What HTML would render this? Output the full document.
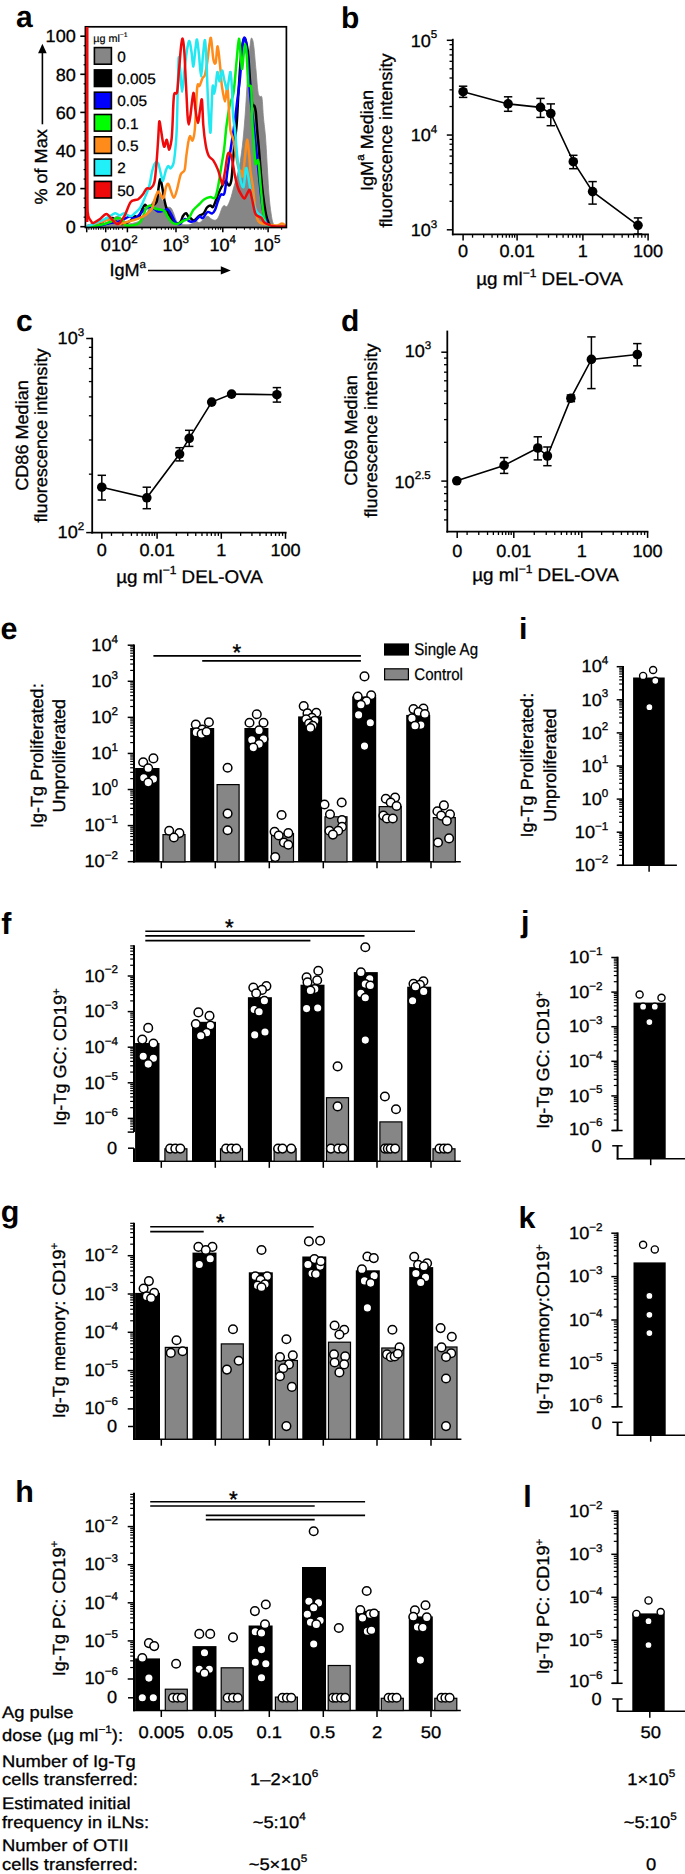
<!DOCTYPE html>
<html lang="en"><head><meta charset="utf-8"><title>Figure</title>
<style>
html,body{margin:0;padding:0;background:#fff;}
body{width:685px;height:1874px;overflow:hidden;font-family:'Liberation Sans', Arial, Helvetica, sans-serif;}
svg{display:block;font-family:'Liberation Sans', Arial, Helvetica, sans-serif;}
</style></head><body>
<svg width="685" height="1874" viewBox="0 0 685 1874" text-rendering="geometricPrecision">
<rect width="685" height="1874" fill="#fff"/>
<text transform="translate(16.00 27.20)" font-size="30.00" text-anchor="start" fill="#000" font-weight="bold">a</text>
<clipPath id="clipA"><rect x="85.4" y="26.8" width="201.0" height="200.7"/></clipPath>
<g clip-path="url(#clipA)" stroke-linejoin="round" stroke-linecap="round">
<path d="M88.0 226.5C90.0 226.2 96.7 225.8 100.0 225.0C103.3 224.2 105.8 223.1 108.0 222.0C110.2 220.9 111.5 219.4 113.0 218.5C114.5 217.6 115.8 216.2 117.3 216.3C118.8 216.4 120.2 217.8 122.0 219.0C123.8 220.2 126.0 222.8 128.0 223.5C130.0 224.2 132.0 223.5 134.0 223.0C136.0 222.5 138.0 222.0 140.0 220.5C142.0 219.0 144.0 216.9 146.0 214.0C148.0 211.1 150.4 205.8 152.0 203.0C153.6 200.2 154.4 199.0 155.5 197.5C156.6 196.0 157.5 193.8 158.5 194.0C159.5 194.2 160.2 196.9 161.5 199.0C162.8 201.1 164.5 205.0 166.0 206.5C167.5 208.0 169.4 206.7 170.7 207.8C171.9 208.9 172.4 210.6 173.5 213.0C174.6 215.4 175.6 220.1 177.0 222.0C178.4 223.9 179.8 224.1 182.0 224.5C184.2 224.9 187.7 225.0 190.0 224.5C192.3 224.0 194.3 221.8 196.0 221.5C197.7 221.2 198.1 223.4 200.0 222.5C201.9 221.6 205.2 216.8 207.2 216.3C209.2 215.8 210.5 218.9 212.0 219.5C213.5 220.1 214.8 220.6 216.0 220.0C217.2 219.4 218.0 218.0 219.0 216.0C220.0 214.0 221.1 209.8 222.0 208.0C222.9 206.2 223.4 205.8 224.2 205.5C225.0 205.2 225.9 207.6 227.0 206.5C228.1 205.4 229.4 202.1 230.5 199.0C231.6 195.9 232.4 191.8 233.5 188.0C234.6 184.2 235.9 180.2 237.0 176.0C238.1 171.8 239.0 169.0 240.0 163.0C241.0 157.0 242.1 148.8 243.0 140.0C243.9 131.2 244.7 121.7 245.5 110.0C246.3 98.3 247.2 81.3 248.0 70.0C248.8 58.7 249.8 47.2 250.5 42.0C251.2 36.8 251.6 37.7 252.2 38.7C252.8 39.7 253.4 42.8 254.0 48.0C254.6 53.2 255.3 62.7 256.0 70.0C256.7 77.3 257.3 87.6 258.0 92.0C258.7 96.4 259.3 95.5 260.0 96.5C260.7 97.5 261.4 94.4 262.0 98.0C262.6 101.6 262.9 111.5 263.5 118.0C264.1 124.5 264.8 128.3 265.5 137.0C266.2 145.7 266.9 160.3 267.5 170.0C268.1 179.7 268.4 187.8 269.0 195.0C269.6 202.2 270.3 208.3 271.0 213.0C271.7 217.7 272.2 220.8 273.0 223.0C273.8 225.2 273.8 225.8 276.0 226.5C278.2 227.2 284.3 226.9 286.0 227.0L286 228L88 228Z" fill="#868686" stroke="#868686" stroke-width="0.80" />
<path d="M88.0 226.0C89.3 225.8 93.3 225.8 96.0 225.0C98.7 224.2 102.1 222.2 104.0 221.0C105.9 219.8 106.2 218.2 107.2 217.9C108.2 217.7 109.1 219.5 110.0 219.5C110.9 219.5 111.8 217.7 112.6 217.9C113.4 218.2 113.4 220.0 115.0 221.0C116.6 222.0 119.5 224.0 122.0 224.0C124.5 224.0 127.8 222.3 130.0 221.0C132.2 219.7 133.6 216.8 135.0 216.3C136.4 215.8 137.2 219.2 138.5 217.9C139.8 216.6 141.4 210.7 142.5 208.5C143.6 206.3 144.3 204.9 145.1 204.7C145.9 204.4 146.3 206.9 147.5 207.0C148.7 207.1 150.5 206.3 152.0 205.5C153.5 204.7 155.4 204.6 156.5 202.0C157.6 199.4 157.7 193.8 158.3 190.0C158.9 186.2 159.4 179.7 160.1 179.2C160.8 178.7 161.5 183.4 162.2 187.0C162.9 190.6 163.6 196.7 164.5 200.8C165.4 204.9 166.5 208.8 167.5 211.6C168.5 214.4 169.6 216.1 170.7 217.9C171.8 219.7 172.2 221.7 173.8 222.5C175.4 223.3 178.5 223.6 180.0 222.5C181.5 221.4 182.0 217.6 183.0 216.0C184.0 214.4 185.2 213.0 186.1 213.2C187.0 213.4 187.7 216.1 188.5 217.0C189.3 217.9 190.1 217.9 191.0 218.5C191.9 219.1 192.7 220.9 194.0 220.5C195.3 220.1 197.4 217.2 199.0 216.0C200.6 214.8 202.2 214.9 203.5 213.5C204.8 212.1 205.9 208.8 207.0 207.5C208.1 206.2 209.3 205.6 210.3 205.5C211.3 205.4 212.1 207.7 213.0 207.0C213.9 206.3 214.6 203.8 215.5 201.5C216.4 199.2 217.5 195.9 218.5 193.5C219.5 191.1 220.3 189.1 221.5 187.0C222.7 184.9 224.3 181.2 225.5 181.0C226.7 180.8 227.9 185.5 228.8 185.5C229.8 185.5 230.5 184.6 231.2 181.0C231.9 177.4 232.3 170.0 232.8 164.0C233.3 158.0 233.7 151.5 234.3 145.0C234.9 138.5 235.9 133.8 236.6 125.0C237.3 116.2 237.8 102.5 238.5 92.0C239.2 81.5 239.8 70.3 240.5 62.0C241.2 53.7 242.2 45.9 243.0 42.0C243.8 38.1 244.3 38.2 245.0 38.9C245.7 39.6 246.4 43.0 247.0 46.0C247.6 49.0 247.9 51.3 248.4 57.0C248.9 62.7 249.4 72.3 250.0 80.0C250.6 87.7 251.3 98.7 252.0 103.0C252.7 107.3 253.8 104.5 254.4 106.0C255.0 107.5 255.4 108.3 255.8 112.0C256.2 115.7 256.5 121.7 257.0 128.0C257.5 134.3 258.3 142.2 259.0 150.0C259.7 157.8 260.3 167.5 261.0 175.0C261.7 182.5 262.2 188.8 263.0 195.0C263.8 201.2 264.8 207.8 265.5 212.0C266.2 216.2 266.8 217.8 267.5 220.0C268.2 222.2 268.6 223.9 270.0 225.0C271.4 226.1 273.3 226.2 276.0 226.5C278.7 226.8 284.3 226.9 286.0 227.0" fill="none" stroke="#000" stroke-width="2.50" />
<path d="M88.0 226.5C90.0 226.3 96.3 226.1 100.0 225.5C103.7 224.9 107.0 223.6 110.0 223.0C113.0 222.4 115.3 222.8 118.0 222.0C120.7 221.2 124.0 218.9 126.0 218.0C128.0 217.1 128.5 216.4 130.0 216.5C131.5 216.6 133.0 219.2 135.0 218.5C137.0 217.8 139.8 213.8 142.0 212.0C144.2 210.2 146.3 208.3 148.0 207.5C149.7 206.7 150.3 206.3 152.0 207.0C153.7 207.7 156.0 210.9 158.0 211.5C160.0 212.1 162.3 210.8 164.0 210.5C165.7 210.2 166.6 208.5 168.0 209.5C169.4 210.5 170.9 214.1 172.2 216.3C173.4 218.5 174.2 221.2 175.5 222.5C176.8 223.8 178.4 224.6 180.0 224.0C181.6 223.4 183.3 219.4 185.0 219.0C186.7 218.6 188.3 221.2 190.0 221.5C191.7 221.8 193.4 221.8 195.0 221.0C196.6 220.2 198.2 217.0 199.5 216.5C200.8 216.0 201.7 218.8 203.0 218.0C204.3 217.2 206.0 212.8 207.5 212.0C209.0 211.2 210.8 213.8 212.0 213.5C213.2 213.2 214.0 212.1 215.0 210.0C216.0 207.9 217.0 203.6 218.0 201.0C219.0 198.4 219.9 195.8 221.0 194.5C222.1 193.2 223.4 196.8 224.5 193.0C225.6 189.2 226.5 177.7 227.3 171.5C228.2 165.3 228.8 161.2 229.6 156.0C230.4 150.8 231.2 145.7 232.0 140.5C232.8 135.3 233.5 131.2 234.3 125.0C235.1 118.8 236.1 110.8 237.0 103.0C237.9 95.2 239.2 86.5 240.0 78.0C240.8 69.5 241.4 58.5 242.0 52.0C242.6 45.5 243.0 41.1 243.6 39.0C244.2 36.9 244.9 37.3 245.5 39.5C246.1 41.7 246.4 45.2 247.0 52.0C247.6 58.8 248.3 71.5 249.0 80.0C249.7 88.5 250.3 96.3 251.0 103.0C251.7 109.7 252.2 112.5 253.0 120.0C253.8 127.5 255.1 139.5 256.0 148.0C256.9 156.5 257.7 163.2 258.5 171.0C259.3 178.8 260.2 188.5 261.0 195.0C261.8 201.5 262.2 205.7 263.0 210.0C263.8 214.3 265.1 218.5 266.0 221.0C266.9 223.5 266.8 224.1 268.5 225.0C270.2 225.9 273.1 226.2 276.0 226.5C278.9 226.8 284.3 226.9 286.0 227.0" fill="none" stroke="#0000ff" stroke-width="2.50" />
<path d="M88.0 226.5C90.0 226.2 96.3 225.8 100.0 225.0C103.7 224.2 107.0 223.2 110.0 222.0C113.0 220.8 115.8 218.0 118.0 217.8C120.2 217.6 121.7 219.7 123.0 221.0C124.3 222.3 123.5 225.0 126.0 225.5C128.5 226.0 135.2 225.5 138.0 224.0C140.8 222.5 141.7 219.1 143.0 216.5C144.3 213.9 144.8 210.3 146.0 208.5C147.2 206.7 149.0 205.5 150.5 205.5C152.0 205.5 153.4 207.8 155.0 208.5C156.6 209.2 158.4 209.1 160.0 209.5C161.6 209.9 163.2 209.8 164.5 211.0C165.8 212.2 166.2 214.6 167.5 216.5C168.8 218.4 170.4 221.2 172.0 222.5C173.6 223.8 175.2 224.2 177.0 224.0C178.8 223.8 181.1 221.9 183.0 221.0C184.9 220.1 186.8 220.3 188.5 218.5C190.2 216.7 191.5 212.5 193.3 210.1C195.1 207.7 197.7 205.8 199.5 204.0C201.3 202.2 202.2 200.7 204.0 199.5C205.8 198.3 208.5 197.3 210.3 197.0C212.1 196.7 213.7 199.5 215.0 197.8C216.3 196.1 217.0 191.9 218.0 187.0C219.0 182.1 220.0 174.9 221.0 168.5C222.0 162.1 223.3 155.8 224.2 148.5C225.1 141.2 225.6 132.4 226.6 125.0C227.6 117.6 228.8 109.3 230.0 104.0C231.2 98.7 232.4 100.0 233.5 93.0C234.6 86.0 235.6 71.0 236.5 62.0C237.4 53.0 238.2 39.0 238.9 38.7C239.7 38.4 240.4 55.0 241.0 60.0C241.6 65.0 241.8 69.8 242.2 69.0C242.6 68.2 243.1 59.2 243.6 55.0C244.1 50.8 244.6 44.0 245.1 44.0C245.6 44.0 246.2 48.5 246.7 55.0C247.2 61.5 247.7 77.8 248.2 83.0C248.7 88.2 249.3 84.9 249.8 85.9C250.3 86.9 250.9 83.7 251.3 89.0C251.7 94.3 251.8 110.8 252.1 118.0C252.4 125.2 252.7 128.2 253.0 132.0C253.3 135.8 253.3 135.5 253.7 140.5C254.1 145.5 254.8 158.2 255.3 162.0C255.8 165.8 256.0 163.8 256.5 163.5C257.0 163.2 257.8 158.4 258.3 160.5C258.9 162.6 259.3 170.3 259.8 176.0C260.3 181.7 260.9 188.8 261.4 194.5C261.9 200.2 262.4 205.6 263.0 210.0C263.6 214.4 264.4 218.4 265.2 221.0C265.9 223.6 265.7 224.5 267.5 225.5C269.3 226.5 272.9 226.8 276.0 227.0C279.1 227.2 284.3 227.0 286.0 227.0" fill="none" stroke="#00ee00" stroke-width="2.50" />
<path d="M88.0 226.0C88.9 225.7 90.9 224.8 93.3 224.0C95.7 223.2 99.4 222.3 102.5 221.5C105.6 220.7 109.3 219.0 111.9 219.4C114.5 219.8 114.9 223.7 118.0 224.0C121.1 224.3 127.0 221.9 130.4 221.0C133.8 220.1 135.6 219.6 138.2 218.6C140.8 217.6 143.6 216.5 145.9 214.8C148.2 213.1 150.4 211.3 152.0 208.5C153.6 205.7 154.1 200.5 155.2 197.7C156.2 194.9 157.3 191.8 158.3 191.5C159.3 191.2 160.5 195.2 161.4 196.2C162.3 197.2 162.9 199.2 163.7 197.7C164.5 196.2 165.2 189.3 166.0 187.0C166.8 184.7 167.5 183.3 168.3 183.8C169.1 184.3 169.7 187.7 170.6 190.0C171.5 192.3 172.8 197.7 173.8 197.7C174.9 197.7 175.8 193.9 176.9 190.0C178.1 186.1 179.4 177.8 180.7 174.5C182.0 171.2 183.7 173.1 184.6 170.0C185.5 166.9 185.6 160.9 186.3 156.0C187.0 151.1 187.9 143.8 188.6 140.5C189.2 137.2 189.5 136.0 190.2 136.0C190.8 136.0 191.7 141.6 192.5 140.5C193.3 139.4 194.0 138.3 194.8 129.5C195.6 120.7 196.4 94.8 197.2 87.5C198.0 80.2 198.6 87.6 199.5 86.0C200.4 84.4 201.7 79.8 202.6 78.0C203.5 76.2 204.1 77.6 204.9 75.0C205.7 72.4 206.4 67.7 207.2 62.5C208.0 57.3 208.8 48.0 209.5 44.0C210.2 40.0 210.4 36.1 211.1 38.7C211.8 41.3 212.6 55.5 213.4 59.5C214.2 63.5 215.0 64.7 215.7 62.5C216.4 60.3 216.9 45.3 217.7 46.4C218.5 47.5 219.7 62.4 220.4 69.0C221.1 75.6 221.1 80.6 221.9 86.0C222.7 91.4 224.1 101.5 225.0 101.5C225.9 101.5 226.7 84.7 227.3 85.9C228.0 87.2 228.4 101.7 228.9 109.0C229.4 116.3 229.6 124.8 230.4 130.0C231.2 135.2 232.2 134.3 233.5 140.5C234.8 146.7 236.9 161.8 238.2 167.0C239.5 172.2 240.5 170.0 241.3 171.5C242.1 173.0 242.2 178.6 242.8 176.0C243.4 173.4 244.4 162.1 245.1 156.0C245.8 149.9 246.4 140.2 247.1 139.7C247.8 139.2 248.4 147.7 249.0 153.0C249.6 158.3 249.8 165.8 250.5 171.5C251.2 177.2 252.1 180.8 252.9 187.0C253.7 193.2 254.3 202.8 255.2 208.5C256.1 214.2 256.8 218.4 258.3 221.0C259.9 223.6 261.4 223.2 264.5 224.0C267.6 224.8 274.0 225.6 276.9 225.5C279.8 225.4 280.5 223.4 282.0 223.5C283.5 223.6 285.3 225.6 286.0 226.0" fill="none" stroke="#ff8c1a" stroke-width="2.50" />
<path d="M88.0 226.0C88.9 225.7 90.1 225.3 93.3 224.0C96.5 222.7 103.6 219.7 107.2 217.9C110.8 216.1 112.9 213.6 115.0 213.2C117.1 212.8 118.1 215.5 119.6 215.5C121.1 215.5 122.4 213.1 124.2 213.2C126.0 213.3 128.6 216.3 130.4 216.3C132.2 216.3 133.4 214.3 135.0 213.0C136.6 211.7 138.4 210.3 139.7 208.5C141.0 206.7 141.2 206.0 142.8 202.4C144.4 198.8 147.4 192.2 149.0 187.0C150.6 181.8 151.1 175.5 152.1 171.5C153.1 167.5 154.2 164.3 155.2 163.0C156.2 161.7 157.3 161.5 158.3 163.7C159.3 165.9 160.6 173.2 161.4 176.0C162.2 178.8 162.2 181.7 163.0 180.7C163.8 179.7 165.1 172.4 166.0 170.0C166.9 167.6 167.5 166.3 168.3 166.0C169.1 165.7 169.8 169.0 170.7 168.3C171.6 167.6 172.9 166.6 173.8 162.0C174.7 157.4 175.6 146.7 176.1 140.5C176.6 134.3 176.6 133.1 176.9 125.0C177.2 116.9 177.4 103.2 177.7 92.0C178.0 80.8 178.3 61.7 178.7 58.0C179.1 54.3 179.6 64.3 180.2 70.0C180.8 75.7 181.4 92.1 182.1 92.1C182.8 92.1 183.7 77.0 184.5 70.0C185.3 63.0 186.2 54.8 187.0 50.0C187.8 45.2 188.7 40.7 189.4 41.0C190.2 41.3 190.8 47.7 191.5 52.0C192.2 56.3 192.8 66.9 193.4 66.6C194.0 66.3 194.7 54.5 195.3 50.0C195.9 45.5 196.4 38.7 197.0 39.5C197.6 40.3 198.3 48.8 199.0 55.0C199.7 61.2 200.4 76.6 201.1 76.6C201.8 76.6 202.3 61.1 203.0 55.0C203.7 48.9 204.4 39.0 205.0 40.2C205.6 41.4 206.0 52.0 206.5 62.0C207.0 72.0 207.4 88.2 208.0 100.0C208.6 111.8 209.7 131.0 210.3 132.7C210.9 134.4 211.1 117.8 211.5 110.0C211.9 102.2 212.2 88.6 212.7 85.9C213.1 83.2 213.7 93.8 214.2 93.6C214.7 93.4 215.3 88.6 215.8 85.0C216.3 81.4 216.8 72.6 217.4 72.0C218.1 71.4 218.9 81.6 219.7 81.3C220.5 81.0 221.2 70.6 222.0 70.4C222.8 70.2 223.5 76.9 224.3 80.0C225.1 83.1 226.0 88.3 226.7 89.0C227.3 89.7 227.6 86.8 228.2 84.0C228.8 81.2 229.9 71.0 230.5 72.0C231.1 73.0 231.6 82.5 232.0 90.0C232.4 97.5 232.7 110.1 233.2 116.8C233.7 123.5 234.3 123.5 235.0 130.0C235.7 136.5 236.3 147.8 237.2 156.0C238.1 164.2 239.2 174.0 240.3 179.2C241.4 184.3 242.7 188.7 243.6 186.9C244.5 185.1 245.1 170.1 245.9 168.3C246.7 166.5 247.4 172.4 248.2 176.0C249.0 179.6 249.6 185.3 250.5 190.0C251.4 194.7 252.6 200.3 253.6 203.9C254.6 207.5 255.4 209.5 256.7 211.6C258.0 213.7 260.1 214.7 261.4 216.3C262.7 217.9 263.1 219.4 264.5 221.0C265.9 222.6 266.4 225.0 270.0 226.0C273.6 227.0 283.3 226.8 286.0 227.0" fill="none" stroke="#22e8f2" stroke-width="2.50" />
<path d="M86.9 27.0C86.9 42.5 86.9 91.2 86.9 120.0C87.0 148.8 87.0 184.3 87.2 200.0C87.4 215.7 87.7 211.0 88.0 214.0C88.3 217.0 88.5 216.8 89.0 218.0C89.5 219.2 90.3 220.2 91.0 221.0C91.7 221.8 91.9 223.3 93.3 223.0C94.7 222.7 97.3 220.9 99.5 219.4C101.7 217.9 104.3 214.0 106.4 214.0C108.5 214.0 110.0 217.7 111.9 219.4C113.8 221.1 116.0 224.5 118.0 224.0C120.0 223.5 122.1 219.9 124.2 216.3C126.3 212.7 128.6 205.1 130.4 202.4C132.2 199.7 133.7 200.5 135.0 200.0C136.3 199.5 136.9 200.2 138.2 199.3C139.5 198.4 141.4 196.4 142.8 194.6C144.2 192.8 145.4 189.4 146.7 188.4C148.0 187.4 149.2 189.4 150.5 188.4C151.8 187.4 153.4 186.9 154.4 182.3C155.4 177.7 156.0 168.2 156.7 160.6C157.3 153.0 157.9 143.5 158.3 137.0C158.7 130.5 158.9 122.7 159.3 121.5C159.8 120.3 160.4 126.6 161.0 130.0C161.6 133.4 162.3 139.2 162.9 142.0C163.5 144.8 163.8 147.1 164.5 146.7C165.2 146.3 166.0 139.2 166.8 139.7C167.6 140.2 168.3 149.7 169.1 149.8C169.9 149.9 170.8 144.6 171.4 140.5C172.0 136.4 172.1 132.6 172.5 125.0C172.9 117.5 173.2 100.7 174.0 95.2C174.8 89.7 176.3 96.3 177.1 92.1C177.9 87.9 178.3 77.5 179.0 70.0C179.7 62.5 180.4 52.2 181.0 47.0C181.6 41.8 182.1 38.2 182.6 38.7C183.1 39.2 183.6 42.3 184.2 50.0C184.8 57.7 185.4 74.2 186.0 85.0C186.6 95.8 187.1 108.4 187.5 115.0C187.9 121.6 188.2 124.6 188.7 124.6C189.2 124.6 189.7 120.3 190.5 115.0C191.3 109.7 192.6 93.7 193.4 92.9C194.2 92.1 194.7 105.0 195.5 110.0C196.3 115.0 197.2 123.0 198.0 123.0C198.8 123.0 199.3 113.9 200.0 110.0C200.7 106.1 201.3 97.3 201.9 99.8C202.5 102.3 202.7 117.5 203.3 125.0C203.9 132.5 204.8 139.8 205.7 145.0C206.6 150.2 207.5 153.4 208.8 156.0C210.1 158.6 211.9 158.3 213.4 160.6C214.9 162.9 216.7 166.6 218.0 169.9C219.3 173.2 220.3 178.4 221.1 180.7C221.9 183.0 222.0 185.4 222.7 183.8C223.3 182.2 224.2 176.0 225.0 171.4C225.8 166.8 226.6 159.1 227.3 156.0C228.0 152.9 228.5 152.4 229.3 152.9C230.1 153.4 231.1 155.2 232.0 159.0C232.9 162.8 234.0 171.1 235.0 176.0C236.0 180.9 237.1 185.4 238.2 188.5C239.2 191.6 240.3 192.9 241.3 194.6C242.3 196.3 243.4 198.8 244.4 198.5C245.4 198.2 246.6 194.4 247.5 193.0C248.4 191.6 249.0 188.9 249.8 190.0C250.6 191.1 251.2 195.4 252.1 199.3C253.0 203.2 254.2 210.4 255.2 213.2C256.2 216.0 257.3 215.5 258.3 216.3C259.3 217.1 260.4 216.9 261.4 217.9C262.4 218.9 262.9 221.2 264.5 222.5C266.1 223.8 268.6 224.9 270.7 225.6C272.8 226.2 274.4 226.3 277.0 226.4C279.6 226.5 284.5 226.4 286.0 226.4" fill="none" stroke="#ee0a0a" stroke-width="2.50" />
</g>
<rect x="85.40" y="26.80" width="201.00" height="200.70" fill="none" stroke="#000" stroke-width="1.7"/>
<line x1="87.10" y1="27.00" x2="87.10" y2="222.00" stroke="#ee0a0a" stroke-width="2.70" stroke-linecap="butt"/>
<line x1="80.30" y1="36.20" x2="85.40" y2="36.20" stroke="#000" stroke-width="1.60" stroke-linecap="butt"/>
<text transform="translate(75.80 42.40) scale(1.030 1)" font-size="17.57" text-anchor="end" fill="#000" stroke="#000" stroke-width="0.30">100</text>
<line x1="80.30" y1="74.30" x2="85.40" y2="74.30" stroke="#000" stroke-width="1.60" stroke-linecap="butt"/>
<text transform="translate(75.80 80.50) scale(1.030 1)" font-size="17.57" text-anchor="end" fill="#000" stroke="#000" stroke-width="0.30">80</text>
<line x1="80.30" y1="112.40" x2="85.40" y2="112.40" stroke="#000" stroke-width="1.60" stroke-linecap="butt"/>
<text transform="translate(75.80 118.60) scale(1.030 1)" font-size="17.57" text-anchor="end" fill="#000" stroke="#000" stroke-width="0.30">60</text>
<line x1="80.30" y1="150.50" x2="85.40" y2="150.50" stroke="#000" stroke-width="1.60" stroke-linecap="butt"/>
<text transform="translate(75.80 156.70) scale(1.030 1)" font-size="17.57" text-anchor="end" fill="#000" stroke="#000" stroke-width="0.30">40</text>
<line x1="80.30" y1="188.60" x2="85.40" y2="188.60" stroke="#000" stroke-width="1.60" stroke-linecap="butt"/>
<text transform="translate(75.80 194.80) scale(1.030 1)" font-size="17.57" text-anchor="end" fill="#000" stroke="#000" stroke-width="0.30">20</text>
<line x1="80.30" y1="226.70" x2="85.40" y2="226.70" stroke="#000" stroke-width="1.60" stroke-linecap="butt"/>
<text transform="translate(75.80 232.90) scale(1.030 1)" font-size="17.57" text-anchor="end" fill="#000" stroke="#000" stroke-width="0.30">0</text>
<line x1="83.60" y1="45.73" x2="85.40" y2="45.73" stroke="#000" stroke-width="1.20" stroke-linecap="butt"/>
<line x1="83.60" y1="55.25" x2="85.40" y2="55.25" stroke="#000" stroke-width="1.20" stroke-linecap="butt"/>
<line x1="83.60" y1="64.78" x2="85.40" y2="64.78" stroke="#000" stroke-width="1.20" stroke-linecap="butt"/>
<line x1="83.60" y1="83.83" x2="85.40" y2="83.83" stroke="#000" stroke-width="1.20" stroke-linecap="butt"/>
<line x1="83.60" y1="93.35" x2="85.40" y2="93.35" stroke="#000" stroke-width="1.20" stroke-linecap="butt"/>
<line x1="83.60" y1="102.88" x2="85.40" y2="102.88" stroke="#000" stroke-width="1.20" stroke-linecap="butt"/>
<line x1="83.60" y1="121.92" x2="85.40" y2="121.92" stroke="#000" stroke-width="1.20" stroke-linecap="butt"/>
<line x1="83.60" y1="131.45" x2="85.40" y2="131.45" stroke="#000" stroke-width="1.20" stroke-linecap="butt"/>
<line x1="83.60" y1="140.98" x2="85.40" y2="140.98" stroke="#000" stroke-width="1.20" stroke-linecap="butt"/>
<line x1="83.60" y1="160.03" x2="85.40" y2="160.03" stroke="#000" stroke-width="1.20" stroke-linecap="butt"/>
<line x1="83.60" y1="169.55" x2="85.40" y2="169.55" stroke="#000" stroke-width="1.20" stroke-linecap="butt"/>
<line x1="83.60" y1="179.07" x2="85.40" y2="179.07" stroke="#000" stroke-width="1.20" stroke-linecap="butt"/>
<line x1="83.60" y1="198.12" x2="85.40" y2="198.12" stroke="#000" stroke-width="1.20" stroke-linecap="butt"/>
<line x1="83.60" y1="207.65" x2="85.40" y2="207.65" stroke="#000" stroke-width="1.20" stroke-linecap="butt"/>
<line x1="83.60" y1="217.18" x2="85.40" y2="217.18" stroke="#000" stroke-width="1.20" stroke-linecap="butt"/>
<line x1="86.70" y1="227.50" x2="86.70" y2="232.30" stroke="#000" stroke-width="1.50" stroke-linecap="butt"/>
<line x1="105.70" y1="227.50" x2="105.70" y2="232.30" stroke="#000" stroke-width="1.50" stroke-linecap="butt"/>
<line x1="127.40" y1="227.50" x2="127.40" y2="232.30" stroke="#000" stroke-width="1.50" stroke-linecap="butt"/>
<line x1="176.00" y1="227.50" x2="176.00" y2="232.30" stroke="#000" stroke-width="1.50" stroke-linecap="butt"/>
<line x1="222.80" y1="227.50" x2="222.80" y2="232.30" stroke="#000" stroke-width="1.50" stroke-linecap="butt"/>
<line x1="268.10" y1="227.50" x2="268.10" y2="232.30" stroke="#000" stroke-width="1.50" stroke-linecap="butt"/>
<line x1="88.90" y1="227.50" x2="88.90" y2="229.80" stroke="#000" stroke-width="1.00" stroke-linecap="butt"/>
<line x1="91.30" y1="227.50" x2="91.30" y2="229.80" stroke="#000" stroke-width="1.00" stroke-linecap="butt"/>
<line x1="93.70" y1="227.50" x2="93.70" y2="229.80" stroke="#000" stroke-width="1.00" stroke-linecap="butt"/>
<line x1="96.10" y1="227.50" x2="96.10" y2="229.80" stroke="#000" stroke-width="1.00" stroke-linecap="butt"/>
<line x1="98.50" y1="227.50" x2="98.50" y2="229.80" stroke="#000" stroke-width="1.00" stroke-linecap="butt"/>
<line x1="100.90" y1="227.50" x2="100.90" y2="229.80" stroke="#000" stroke-width="1.00" stroke-linecap="butt"/>
<line x1="103.30" y1="227.50" x2="103.30" y2="229.80" stroke="#000" stroke-width="1.00" stroke-linecap="butt"/>
<line x1="108.10" y1="227.50" x2="108.10" y2="229.80" stroke="#000" stroke-width="1.00" stroke-linecap="butt"/>
<line x1="110.50" y1="227.50" x2="110.50" y2="229.80" stroke="#000" stroke-width="1.00" stroke-linecap="butt"/>
<line x1="113.70" y1="227.50" x2="113.70" y2="229.80" stroke="#000" stroke-width="1.00" stroke-linecap="butt"/>
<line x1="116.20" y1="227.50" x2="116.20" y2="229.80" stroke="#000" stroke-width="1.00" stroke-linecap="butt"/>
<line x1="118.60" y1="227.50" x2="118.60" y2="229.80" stroke="#000" stroke-width="1.00" stroke-linecap="butt"/>
<line x1="122.60" y1="227.50" x2="122.60" y2="229.80" stroke="#000" stroke-width="1.00" stroke-linecap="butt"/>
<line x1="142.03" y1="227.50" x2="142.03" y2="229.80" stroke="#000" stroke-width="1.00" stroke-linecap="butt"/>
<line x1="150.59" y1="227.50" x2="150.59" y2="229.80" stroke="#000" stroke-width="1.00" stroke-linecap="butt"/>
<line x1="156.66" y1="227.50" x2="156.66" y2="229.80" stroke="#000" stroke-width="1.00" stroke-linecap="butt"/>
<line x1="161.37" y1="227.50" x2="161.37" y2="229.80" stroke="#000" stroke-width="1.00" stroke-linecap="butt"/>
<line x1="165.22" y1="227.50" x2="165.22" y2="229.80" stroke="#000" stroke-width="1.00" stroke-linecap="butt"/>
<line x1="168.47" y1="227.50" x2="168.47" y2="229.80" stroke="#000" stroke-width="1.00" stroke-linecap="butt"/>
<line x1="171.29" y1="227.50" x2="171.29" y2="229.80" stroke="#000" stroke-width="1.00" stroke-linecap="butt"/>
<line x1="173.78" y1="227.50" x2="173.78" y2="229.80" stroke="#000" stroke-width="1.00" stroke-linecap="butt"/>
<line x1="190.09" y1="227.50" x2="190.09" y2="229.80" stroke="#000" stroke-width="1.00" stroke-linecap="butt"/>
<line x1="198.33" y1="227.50" x2="198.33" y2="229.80" stroke="#000" stroke-width="1.00" stroke-linecap="butt"/>
<line x1="204.18" y1="227.50" x2="204.18" y2="229.80" stroke="#000" stroke-width="1.00" stroke-linecap="butt"/>
<line x1="208.71" y1="227.50" x2="208.71" y2="229.80" stroke="#000" stroke-width="1.00" stroke-linecap="butt"/>
<line x1="212.42" y1="227.50" x2="212.42" y2="229.80" stroke="#000" stroke-width="1.00" stroke-linecap="butt"/>
<line x1="215.55" y1="227.50" x2="215.55" y2="229.80" stroke="#000" stroke-width="1.00" stroke-linecap="butt"/>
<line x1="218.26" y1="227.50" x2="218.26" y2="229.80" stroke="#000" stroke-width="1.00" stroke-linecap="butt"/>
<line x1="220.66" y1="227.50" x2="220.66" y2="229.80" stroke="#000" stroke-width="1.00" stroke-linecap="butt"/>
<line x1="236.44" y1="227.50" x2="236.44" y2="229.80" stroke="#000" stroke-width="1.00" stroke-linecap="butt"/>
<line x1="244.41" y1="227.50" x2="244.41" y2="229.80" stroke="#000" stroke-width="1.00" stroke-linecap="butt"/>
<line x1="250.07" y1="227.50" x2="250.07" y2="229.80" stroke="#000" stroke-width="1.00" stroke-linecap="butt"/>
<line x1="254.46" y1="227.50" x2="254.46" y2="229.80" stroke="#000" stroke-width="1.00" stroke-linecap="butt"/>
<line x1="258.05" y1="227.50" x2="258.05" y2="229.80" stroke="#000" stroke-width="1.00" stroke-linecap="butt"/>
<line x1="261.08" y1="227.50" x2="261.08" y2="229.80" stroke="#000" stroke-width="1.00" stroke-linecap="butt"/>
<line x1="263.71" y1="227.50" x2="263.71" y2="229.80" stroke="#000" stroke-width="1.00" stroke-linecap="butt"/>
<line x1="266.03" y1="227.50" x2="266.03" y2="229.80" stroke="#000" stroke-width="1.00" stroke-linecap="butt"/>
<line x1="281.65" y1="227.50" x2="281.65" y2="229.80" stroke="#000" stroke-width="1.00" stroke-linecap="butt"/>
<text transform="translate(105.70 251.00) scale(1.030 1)" font-size="17.57" text-anchor="middle" fill="#000" stroke="#000" stroke-width="0.30">0</text>
<text transform="translate(111.00 251.00) scale(1.030 1)" font-size="17.57" text-anchor="start" fill="#000" stroke="#000" stroke-width="0.30">10<tspan dy="-8.26" font-size="11.25">2</tspan></text>
<text transform="translate(162.40 251.00) scale(1.030 1)" font-size="17.57" text-anchor="start" fill="#000" stroke="#000" stroke-width="0.30">10<tspan dy="-8.26" font-size="11.25">3</tspan></text>
<text transform="translate(209.40 251.00) scale(1.030 1)" font-size="17.57" text-anchor="start" fill="#000" stroke="#000" stroke-width="0.30">10<tspan dy="-8.26" font-size="11.25">4</tspan></text>
<text transform="translate(253.80 251.00) scale(1.030 1)" font-size="17.57" text-anchor="start" fill="#000" stroke="#000" stroke-width="0.30">10<tspan dy="-8.26" font-size="11.25">5</tspan></text>
<text transform="translate(109.40 276.40) scale(1.030 1)" font-size="17.57" text-anchor="start" fill="#000" stroke="#000" stroke-width="0.30">IgM<tspan dy="-8.26" font-size="11.25">a</tspan></text>
<line x1="148.00" y1="270.40" x2="223.00" y2="270.40" stroke="#000" stroke-width="1.50" stroke-linecap="butt"/>
<path d="M230.8 270.4L220.8 266.2L220.8 274.6Z" fill="#000" stroke="none" stroke-width="0.00" />
<text transform="translate(46.60 204.60) rotate(-90) scale(1.030 1)" font-size="17.57" text-anchor="start" fill="#000" stroke="#000" stroke-width="0.30">% of Max</text>
<line x1="42.40" y1="51.00" x2="42.40" y2="124.30" stroke="#000" stroke-width="1.60" stroke-linecap="butt"/>
<path d="M42.4 43.8L38.1 53.2L46.7 53.2Z" fill="#000" stroke="none" stroke-width="0.00" />
<rect x="94.40" y="47.60" width="17.00" height="16.60" fill="#868686" stroke="#000" stroke-width="1.60"/>
<text transform="translate(117.20 61.80) scale(1.030 1)" font-size="14.95" text-anchor="start" fill="#000" stroke="#000" stroke-width="0.25">0</text>
<rect x="94.40" y="69.90" width="17.00" height="16.60" fill="#000000" stroke="#000" stroke-width="1.60"/>
<text transform="translate(117.20 84.10) scale(1.030 1)" font-size="14.95" text-anchor="start" fill="#000" stroke="#000" stroke-width="0.25">0.005</text>
<rect x="94.40" y="92.20" width="17.00" height="16.60" fill="#0000ff" stroke="#000" stroke-width="1.60"/>
<text transform="translate(117.20 106.40) scale(1.030 1)" font-size="14.95" text-anchor="start" fill="#000" stroke="#000" stroke-width="0.25">0.05</text>
<rect x="94.40" y="114.50" width="17.00" height="16.60" fill="#00ff00" stroke="#000" stroke-width="1.60"/>
<text transform="translate(117.20 128.70) scale(1.030 1)" font-size="14.95" text-anchor="start" fill="#000" stroke="#000" stroke-width="0.25">0.1</text>
<rect x="94.40" y="136.80" width="17.00" height="16.60" fill="#ff8c1a" stroke="#000" stroke-width="1.60"/>
<text transform="translate(117.20 151.00) scale(1.030 1)" font-size="14.95" text-anchor="start" fill="#000" stroke="#000" stroke-width="0.25">0.5</text>
<rect x="94.40" y="159.10" width="17.00" height="16.60" fill="#22f0f8" stroke="#000" stroke-width="1.60"/>
<text transform="translate(117.20 173.30) scale(1.030 1)" font-size="14.95" text-anchor="start" fill="#000" stroke="#000" stroke-width="0.25">2</text>
<rect x="94.40" y="181.40" width="17.00" height="16.60" fill="#ee0a0a" stroke="#000" stroke-width="1.60"/>
<text transform="translate(117.20 195.60) scale(1.030 1)" font-size="14.95" text-anchor="start" fill="#000" stroke="#000" stroke-width="0.25">50</text>
<text transform="translate(93.20 41.60) scale(1.030 1)" font-size="10.49" text-anchor="start" fill="#000" stroke="#000" stroke-width="0.18">µg ml<tspan dy="-4.93" font-size="6.71">−1</tspan></text>
<text transform="translate(341.00 28.40)" font-size="30.00" text-anchor="start" fill="#000" font-weight="bold">b</text>
<line x1="452.80" y1="38.80" x2="452.80" y2="235.30" stroke="#000" stroke-width="1.80" stroke-linecap="butt"/>
<line x1="446.80" y1="40.30" x2="452.80" y2="40.30" stroke="#000" stroke-width="1.50" stroke-linecap="butt"/>
<text transform="translate(437.30 46.70) scale(1.030 1)" font-size="17.57" text-anchor="end" fill="#000" stroke="#000" stroke-width="0.30">10<tspan dy="-8.26" font-size="11.25">5</tspan></text>
<line x1="449.50" y1="106.53" x2="452.80" y2="106.53" stroke="#000" stroke-width="1.30" stroke-linecap="butt"/>
<line x1="449.50" y1="89.84" x2="452.80" y2="89.84" stroke="#000" stroke-width="1.30" stroke-linecap="butt"/>
<line x1="449.50" y1="78.00" x2="452.80" y2="78.00" stroke="#000" stroke-width="1.30" stroke-linecap="butt"/>
<line x1="449.50" y1="68.82" x2="452.80" y2="68.82" stroke="#000" stroke-width="1.30" stroke-linecap="butt"/>
<line x1="449.50" y1="61.32" x2="452.80" y2="61.32" stroke="#000" stroke-width="1.30" stroke-linecap="butt"/>
<line x1="449.50" y1="54.98" x2="452.80" y2="54.98" stroke="#000" stroke-width="1.30" stroke-linecap="butt"/>
<line x1="449.50" y1="49.48" x2="452.80" y2="49.48" stroke="#000" stroke-width="1.30" stroke-linecap="butt"/>
<line x1="449.50" y1="44.64" x2="452.80" y2="44.64" stroke="#000" stroke-width="1.30" stroke-linecap="butt"/>
<line x1="446.80" y1="135.05" x2="452.80" y2="135.05" stroke="#000" stroke-width="1.50" stroke-linecap="butt"/>
<text transform="translate(437.30 141.45) scale(1.030 1)" font-size="17.57" text-anchor="end" fill="#000" stroke="#000" stroke-width="0.30">10<tspan dy="-8.26" font-size="11.25">4</tspan></text>
<line x1="449.50" y1="201.28" x2="452.80" y2="201.28" stroke="#000" stroke-width="1.30" stroke-linecap="butt"/>
<line x1="449.50" y1="184.59" x2="452.80" y2="184.59" stroke="#000" stroke-width="1.30" stroke-linecap="butt"/>
<line x1="449.50" y1="172.75" x2="452.80" y2="172.75" stroke="#000" stroke-width="1.30" stroke-linecap="butt"/>
<line x1="449.50" y1="163.57" x2="452.80" y2="163.57" stroke="#000" stroke-width="1.30" stroke-linecap="butt"/>
<line x1="449.50" y1="156.07" x2="452.80" y2="156.07" stroke="#000" stroke-width="1.30" stroke-linecap="butt"/>
<line x1="449.50" y1="149.73" x2="452.80" y2="149.73" stroke="#000" stroke-width="1.30" stroke-linecap="butt"/>
<line x1="449.50" y1="144.23" x2="452.80" y2="144.23" stroke="#000" stroke-width="1.30" stroke-linecap="butt"/>
<line x1="449.50" y1="139.39" x2="452.80" y2="139.39" stroke="#000" stroke-width="1.30" stroke-linecap="butt"/>
<line x1="446.80" y1="229.80" x2="452.80" y2="229.80" stroke="#000" stroke-width="1.50" stroke-linecap="butt"/>
<text transform="translate(437.30 236.20) scale(1.030 1)" font-size="17.57" text-anchor="end" fill="#000" stroke="#000" stroke-width="0.30">10<tspan dy="-8.26" font-size="11.25">3</tspan></text>
<line x1="451.90" y1="234.40" x2="648.90" y2="234.40" stroke="#000" stroke-width="1.80" stroke-linecap="butt"/>
<line x1="463.10" y1="234.40" x2="463.10" y2="240.60" stroke="#000" stroke-width="1.50" stroke-linecap="butt"/>
<text transform="translate(463.10 257.20) scale(1.030 1)" font-size="17.57" text-anchor="middle" fill="#000" stroke="#000" stroke-width="0.30">0</text>
<line x1="517.10" y1="234.40" x2="517.10" y2="240.60" stroke="#000" stroke-width="1.50" stroke-linecap="butt"/>
<text transform="translate(517.10 257.20) scale(1.030 1)" font-size="17.57" text-anchor="middle" fill="#000" stroke="#000" stroke-width="0.30">0.01</text>
<line x1="582.90" y1="234.40" x2="582.90" y2="240.60" stroke="#000" stroke-width="1.50" stroke-linecap="butt"/>
<text transform="translate(582.90 257.20) scale(1.030 1)" font-size="17.57" text-anchor="middle" fill="#000" stroke="#000" stroke-width="0.30">1</text>
<line x1="648.10" y1="234.40" x2="648.10" y2="240.60" stroke="#000" stroke-width="1.50" stroke-linecap="butt"/>
<text transform="translate(648.10 257.20) scale(1.030 1)" font-size="17.57" text-anchor="middle" fill="#000" stroke="#000" stroke-width="0.30">100</text>
<line x1="472.55" y1="234.40" x2="472.55" y2="237.70" stroke="#000" stroke-width="1.30" stroke-linecap="butt"/>
<line x1="483.67" y1="234.40" x2="483.67" y2="237.70" stroke="#000" stroke-width="1.30" stroke-linecap="butt"/>
<line x1="492.04" y1="234.40" x2="492.04" y2="237.70" stroke="#000" stroke-width="1.30" stroke-linecap="butt"/>
<line x1="497.61" y1="234.40" x2="497.61" y2="237.70" stroke="#000" stroke-width="1.30" stroke-linecap="butt"/>
<line x1="502.47" y1="234.40" x2="502.47" y2="237.70" stroke="#000" stroke-width="1.30" stroke-linecap="butt"/>
<line x1="506.25" y1="234.40" x2="506.25" y2="237.70" stroke="#000" stroke-width="1.30" stroke-linecap="butt"/>
<line x1="509.43" y1="234.40" x2="509.43" y2="237.70" stroke="#000" stroke-width="1.30" stroke-linecap="butt"/>
<line x1="512.24" y1="234.40" x2="512.24" y2="237.70" stroke="#000" stroke-width="1.30" stroke-linecap="butt"/>
<line x1="514.62" y1="234.40" x2="514.62" y2="237.70" stroke="#000" stroke-width="1.30" stroke-linecap="butt"/>
<line x1="536.91" y1="234.40" x2="536.91" y2="237.70" stroke="#000" stroke-width="1.30" stroke-linecap="butt"/>
<line x1="548.49" y1="234.40" x2="548.49" y2="237.70" stroke="#000" stroke-width="1.30" stroke-linecap="butt"/>
<line x1="556.72" y1="234.40" x2="556.72" y2="237.70" stroke="#000" stroke-width="1.30" stroke-linecap="butt"/>
<line x1="563.09" y1="234.40" x2="563.09" y2="237.70" stroke="#000" stroke-width="1.30" stroke-linecap="butt"/>
<line x1="568.30" y1="234.40" x2="568.30" y2="237.70" stroke="#000" stroke-width="1.30" stroke-linecap="butt"/>
<line x1="572.71" y1="234.40" x2="572.71" y2="237.70" stroke="#000" stroke-width="1.30" stroke-linecap="butt"/>
<line x1="576.52" y1="234.40" x2="576.52" y2="237.70" stroke="#000" stroke-width="1.30" stroke-linecap="butt"/>
<line x1="579.89" y1="234.40" x2="579.89" y2="237.70" stroke="#000" stroke-width="1.30" stroke-linecap="butt"/>
<line x1="602.53" y1="234.40" x2="602.53" y2="237.70" stroke="#000" stroke-width="1.30" stroke-linecap="butt"/>
<line x1="614.01" y1="234.40" x2="614.01" y2="237.70" stroke="#000" stroke-width="1.30" stroke-linecap="butt"/>
<line x1="622.15" y1="234.40" x2="622.15" y2="237.70" stroke="#000" stroke-width="1.30" stroke-linecap="butt"/>
<line x1="628.47" y1="234.40" x2="628.47" y2="237.70" stroke="#000" stroke-width="1.30" stroke-linecap="butt"/>
<line x1="633.64" y1="234.40" x2="633.64" y2="237.70" stroke="#000" stroke-width="1.30" stroke-linecap="butt"/>
<line x1="638.00" y1="234.40" x2="638.00" y2="237.70" stroke="#000" stroke-width="1.30" stroke-linecap="butt"/>
<line x1="641.78" y1="234.40" x2="641.78" y2="237.70" stroke="#000" stroke-width="1.30" stroke-linecap="butt"/>
<line x1="645.12" y1="234.40" x2="645.12" y2="237.70" stroke="#000" stroke-width="1.30" stroke-linecap="butt"/>
<text transform="translate(549.50 285.40) scale(1.030 1)" font-size="18.25" text-anchor="middle" fill="#000" stroke="#000" stroke-width="0.31">µg ml<tspan dy="-8.58" font-size="11.68">−1</tspan><tspan dy="8.58"> DEL-OVA</tspan></text>
<text transform="translate(372.50 140.50) rotate(-90) scale(1.030 1)" font-size="17.57" text-anchor="middle" fill="#000" stroke="#000" stroke-width="0.30">IgM<tspan dy="-8.26" font-size="11.25">a</tspan><tspan dy="8.26"> Median</tspan></text>
<text transform="translate(391.50 140.50) rotate(-90) scale(1.030 1)" font-size="17.57" text-anchor="middle" fill="#000" stroke="#000" stroke-width="0.30">fluorescence intensity</text>
<path d="M463.1 91.7L508.1 103.9L540.5 107.4L550.8 113.5L573.3 161.7L592.6 191.6L638.0 225.3" fill="none" stroke="#000" stroke-width="1.60" />
<line x1="463.10" y1="86.20" x2="463.10" y2="97.40" stroke="#000" stroke-width="1.50" stroke-linecap="butt"/>
<line x1="458.90" y1="86.20" x2="467.30" y2="86.20" stroke="#000" stroke-width="1.50" stroke-linecap="butt"/>
<line x1="458.90" y1="97.40" x2="467.30" y2="97.40" stroke="#000" stroke-width="1.50" stroke-linecap="butt"/>
<circle cx="463.10" cy="91.70" r="4.80" fill="#000"/>
<line x1="508.10" y1="96.80" x2="508.10" y2="111.30" stroke="#000" stroke-width="1.50" stroke-linecap="butt"/>
<line x1="503.90" y1="96.80" x2="512.30" y2="96.80" stroke="#000" stroke-width="1.50" stroke-linecap="butt"/>
<line x1="503.90" y1="111.30" x2="512.30" y2="111.30" stroke="#000" stroke-width="1.50" stroke-linecap="butt"/>
<circle cx="508.10" cy="103.90" r="4.80" fill="#000"/>
<line x1="540.50" y1="98.40" x2="540.50" y2="117.40" stroke="#000" stroke-width="1.50" stroke-linecap="butt"/>
<line x1="536.30" y1="98.40" x2="544.70" y2="98.40" stroke="#000" stroke-width="1.50" stroke-linecap="butt"/>
<line x1="536.30" y1="117.40" x2="544.70" y2="117.40" stroke="#000" stroke-width="1.50" stroke-linecap="butt"/>
<circle cx="540.50" cy="107.40" r="4.80" fill="#000"/>
<line x1="550.80" y1="103.90" x2="550.80" y2="125.70" stroke="#000" stroke-width="1.50" stroke-linecap="butt"/>
<line x1="546.60" y1="103.90" x2="555.00" y2="103.90" stroke="#000" stroke-width="1.50" stroke-linecap="butt"/>
<line x1="546.60" y1="125.70" x2="555.00" y2="125.70" stroke="#000" stroke-width="1.50" stroke-linecap="butt"/>
<circle cx="550.80" cy="113.50" r="4.80" fill="#000"/>
<line x1="573.30" y1="155.30" x2="573.30" y2="168.70" stroke="#000" stroke-width="1.50" stroke-linecap="butt"/>
<line x1="569.10" y1="155.30" x2="577.50" y2="155.30" stroke="#000" stroke-width="1.50" stroke-linecap="butt"/>
<line x1="569.10" y1="168.70" x2="577.50" y2="168.70" stroke="#000" stroke-width="1.50" stroke-linecap="butt"/>
<circle cx="573.30" cy="161.70" r="4.80" fill="#000"/>
<line x1="592.60" y1="181.60" x2="592.60" y2="204.10" stroke="#000" stroke-width="1.50" stroke-linecap="butt"/>
<line x1="588.40" y1="181.60" x2="596.80" y2="181.60" stroke="#000" stroke-width="1.50" stroke-linecap="butt"/>
<line x1="588.40" y1="204.10" x2="596.80" y2="204.10" stroke="#000" stroke-width="1.50" stroke-linecap="butt"/>
<circle cx="592.60" cy="191.60" r="4.80" fill="#000"/>
<line x1="638.00" y1="217.90" x2="638.00" y2="234.00" stroke="#000" stroke-width="1.50" stroke-linecap="butt"/>
<line x1="633.80" y1="217.90" x2="642.20" y2="217.90" stroke="#000" stroke-width="1.50" stroke-linecap="butt"/>
<line x1="633.80" y1="234.00" x2="642.20" y2="234.00" stroke="#000" stroke-width="1.50" stroke-linecap="butt"/>
<circle cx="638.00" cy="225.30" r="4.80" fill="#000"/>
<text transform="translate(16.00 330.50)" font-size="30.00" text-anchor="start" fill="#000" font-weight="bold">c</text>
<line x1="92.20" y1="337.70" x2="92.20" y2="533.50" stroke="#000" stroke-width="1.80" stroke-linecap="butt"/>
<line x1="86.20" y1="338.50" x2="92.20" y2="338.50" stroke="#000" stroke-width="1.50" stroke-linecap="butt"/>
<text transform="translate(84.20 344.00) scale(1.030 1)" font-size="17.57" text-anchor="end" fill="#000" stroke="#000" stroke-width="0.30">10<tspan dy="-8.26" font-size="11.25">3</tspan></text>
<line x1="86.20" y1="532.60" x2="92.20" y2="532.60" stroke="#000" stroke-width="1.50" stroke-linecap="butt"/>
<text transform="translate(84.20 538.10) scale(1.030 1)" font-size="17.57" text-anchor="end" fill="#000" stroke="#000" stroke-width="0.30">10<tspan dy="-8.26" font-size="11.25">2</tspan></text>
<line x1="88.90" y1="474.17" x2="92.20" y2="474.17" stroke="#000" stroke-width="1.30" stroke-linecap="butt"/>
<line x1="88.90" y1="439.99" x2="92.20" y2="439.99" stroke="#000" stroke-width="1.30" stroke-linecap="butt"/>
<line x1="88.90" y1="415.74" x2="92.20" y2="415.74" stroke="#000" stroke-width="1.30" stroke-linecap="butt"/>
<line x1="88.90" y1="396.93" x2="92.20" y2="396.93" stroke="#000" stroke-width="1.30" stroke-linecap="butt"/>
<line x1="88.90" y1="381.56" x2="92.20" y2="381.56" stroke="#000" stroke-width="1.30" stroke-linecap="butt"/>
<line x1="88.90" y1="368.57" x2="92.20" y2="368.57" stroke="#000" stroke-width="1.30" stroke-linecap="butt"/>
<line x1="88.90" y1="357.31" x2="92.20" y2="357.31" stroke="#000" stroke-width="1.30" stroke-linecap="butt"/>
<line x1="88.90" y1="347.38" x2="92.20" y2="347.38" stroke="#000" stroke-width="1.30" stroke-linecap="butt"/>
<line x1="91.30" y1="532.60" x2="286.60" y2="532.60" stroke="#000" stroke-width="1.80" stroke-linecap="butt"/>
<line x1="101.80" y1="532.60" x2="101.80" y2="538.80" stroke="#000" stroke-width="1.50" stroke-linecap="butt"/>
<text transform="translate(101.80 555.60) scale(1.030 1)" font-size="17.57" text-anchor="middle" fill="#000" stroke="#000" stroke-width="0.30">0</text>
<line x1="157.10" y1="532.60" x2="157.10" y2="538.80" stroke="#000" stroke-width="1.50" stroke-linecap="butt"/>
<text transform="translate(157.10 555.60) scale(1.030 1)" font-size="17.57" text-anchor="middle" fill="#000" stroke="#000" stroke-width="0.30">0.01</text>
<line x1="221.30" y1="532.60" x2="221.30" y2="538.80" stroke="#000" stroke-width="1.50" stroke-linecap="butt"/>
<text transform="translate(221.30 555.60) scale(1.030 1)" font-size="17.57" text-anchor="middle" fill="#000" stroke="#000" stroke-width="0.30">1</text>
<line x1="285.50" y1="532.60" x2="285.50" y2="538.80" stroke="#000" stroke-width="1.50" stroke-linecap="butt"/>
<text transform="translate(285.50 555.60) scale(1.030 1)" font-size="17.57" text-anchor="middle" fill="#000" stroke="#000" stroke-width="0.30">100</text>
<line x1="111.48" y1="532.60" x2="111.48" y2="535.90" stroke="#000" stroke-width="1.30" stroke-linecap="butt"/>
<line x1="122.87" y1="532.60" x2="122.87" y2="535.90" stroke="#000" stroke-width="1.30" stroke-linecap="butt"/>
<line x1="131.44" y1="532.60" x2="131.44" y2="535.90" stroke="#000" stroke-width="1.30" stroke-linecap="butt"/>
<line x1="137.14" y1="532.60" x2="137.14" y2="535.90" stroke="#000" stroke-width="1.30" stroke-linecap="butt"/>
<line x1="142.11" y1="532.60" x2="142.11" y2="535.90" stroke="#000" stroke-width="1.30" stroke-linecap="butt"/>
<line x1="145.98" y1="532.60" x2="145.98" y2="535.90" stroke="#000" stroke-width="1.30" stroke-linecap="butt"/>
<line x1="149.25" y1="532.60" x2="149.25" y2="535.90" stroke="#000" stroke-width="1.30" stroke-linecap="butt"/>
<line x1="152.12" y1="532.60" x2="152.12" y2="535.90" stroke="#000" stroke-width="1.30" stroke-linecap="butt"/>
<line x1="154.56" y1="532.60" x2="154.56" y2="535.90" stroke="#000" stroke-width="1.30" stroke-linecap="butt"/>
<line x1="176.43" y1="532.60" x2="176.43" y2="535.90" stroke="#000" stroke-width="1.30" stroke-linecap="butt"/>
<line x1="187.73" y1="532.60" x2="187.73" y2="535.90" stroke="#000" stroke-width="1.30" stroke-linecap="butt"/>
<line x1="195.75" y1="532.60" x2="195.75" y2="535.90" stroke="#000" stroke-width="1.30" stroke-linecap="butt"/>
<line x1="201.97" y1="532.60" x2="201.97" y2="535.90" stroke="#000" stroke-width="1.30" stroke-linecap="butt"/>
<line x1="207.06" y1="532.60" x2="207.06" y2="535.90" stroke="#000" stroke-width="1.30" stroke-linecap="butt"/>
<line x1="211.36" y1="532.60" x2="211.36" y2="535.90" stroke="#000" stroke-width="1.30" stroke-linecap="butt"/>
<line x1="215.08" y1="532.60" x2="215.08" y2="535.90" stroke="#000" stroke-width="1.30" stroke-linecap="butt"/>
<line x1="218.36" y1="532.60" x2="218.36" y2="535.90" stroke="#000" stroke-width="1.30" stroke-linecap="butt"/>
<line x1="240.63" y1="532.60" x2="240.63" y2="535.90" stroke="#000" stroke-width="1.30" stroke-linecap="butt"/>
<line x1="251.93" y1="532.60" x2="251.93" y2="535.90" stroke="#000" stroke-width="1.30" stroke-linecap="butt"/>
<line x1="259.95" y1="532.60" x2="259.95" y2="535.90" stroke="#000" stroke-width="1.30" stroke-linecap="butt"/>
<line x1="266.17" y1="532.60" x2="266.17" y2="535.90" stroke="#000" stroke-width="1.30" stroke-linecap="butt"/>
<line x1="271.26" y1="532.60" x2="271.26" y2="535.90" stroke="#000" stroke-width="1.30" stroke-linecap="butt"/>
<line x1="275.56" y1="532.60" x2="275.56" y2="535.90" stroke="#000" stroke-width="1.30" stroke-linecap="butt"/>
<line x1="279.28" y1="532.60" x2="279.28" y2="535.90" stroke="#000" stroke-width="1.30" stroke-linecap="butt"/>
<line x1="282.56" y1="532.60" x2="282.56" y2="535.90" stroke="#000" stroke-width="1.30" stroke-linecap="butt"/>
<text transform="translate(189.50 582.60) scale(1.030 1)" font-size="18.25" text-anchor="middle" fill="#000" stroke="#000" stroke-width="0.31">µg ml<tspan dy="-8.58" font-size="11.68">−1</tspan><tspan dy="8.58"> DEL-OVA</tspan></text>
<text transform="translate(27.50 435.50) rotate(-90) scale(1.030 1)" font-size="17.57" text-anchor="middle" fill="#000" stroke="#000" stroke-width="0.30">CD86 Median</text>
<text transform="translate(47.00 435.50) rotate(-90) scale(1.030 1)" font-size="17.57" text-anchor="middle" fill="#000" stroke="#000" stroke-width="0.30">fluorescence intensity</text>
<path d="M101.8 487.2L146.8 497.8L179.6 454.1L189.2 438.4L211.7 402.1L231.6 394.1L276.9 394.7" fill="none" stroke="#000" stroke-width="1.60" />
<line x1="101.80" y1="475.30" x2="101.80" y2="500.00" stroke="#000" stroke-width="1.50" stroke-linecap="butt"/>
<line x1="97.60" y1="475.30" x2="106.00" y2="475.30" stroke="#000" stroke-width="1.50" stroke-linecap="butt"/>
<line x1="97.60" y1="500.00" x2="106.00" y2="500.00" stroke="#000" stroke-width="1.50" stroke-linecap="butt"/>
<circle cx="101.80" cy="487.20" r="4.80" fill="#000"/>
<line x1="146.80" y1="487.20" x2="146.80" y2="508.70" stroke="#000" stroke-width="1.50" stroke-linecap="butt"/>
<line x1="142.60" y1="487.20" x2="151.00" y2="487.20" stroke="#000" stroke-width="1.50" stroke-linecap="butt"/>
<line x1="142.60" y1="508.70" x2="151.00" y2="508.70" stroke="#000" stroke-width="1.50" stroke-linecap="butt"/>
<circle cx="146.80" cy="497.80" r="4.80" fill="#000"/>
<line x1="179.60" y1="447.70" x2="179.60" y2="460.90" stroke="#000" stroke-width="1.50" stroke-linecap="butt"/>
<line x1="175.40" y1="447.70" x2="183.80" y2="447.70" stroke="#000" stroke-width="1.50" stroke-linecap="butt"/>
<line x1="175.40" y1="460.90" x2="183.80" y2="460.90" stroke="#000" stroke-width="1.50" stroke-linecap="butt"/>
<circle cx="179.60" cy="454.10" r="4.80" fill="#000"/>
<line x1="189.20" y1="430.30" x2="189.20" y2="446.40" stroke="#000" stroke-width="1.50" stroke-linecap="butt"/>
<line x1="185.00" y1="430.30" x2="193.40" y2="430.30" stroke="#000" stroke-width="1.50" stroke-linecap="butt"/>
<line x1="185.00" y1="446.40" x2="193.40" y2="446.40" stroke="#000" stroke-width="1.50" stroke-linecap="butt"/>
<circle cx="189.20" cy="438.40" r="4.80" fill="#000"/>
<circle cx="211.70" cy="402.10" r="4.80" fill="#000"/>
<circle cx="231.60" cy="394.10" r="4.80" fill="#000"/>
<line x1="276.90" y1="387.60" x2="276.90" y2="402.10" stroke="#000" stroke-width="1.50" stroke-linecap="butt"/>
<line x1="272.70" y1="387.60" x2="281.10" y2="387.60" stroke="#000" stroke-width="1.50" stroke-linecap="butt"/>
<line x1="272.70" y1="402.10" x2="281.10" y2="402.10" stroke="#000" stroke-width="1.50" stroke-linecap="butt"/>
<circle cx="276.90" cy="394.70" r="4.80" fill="#000"/>
<text transform="translate(341.00 330.50)" font-size="30.00" text-anchor="start" fill="#000" font-weight="bold">d</text>
<line x1="447.30" y1="330.60" x2="447.30" y2="532.60" stroke="#000" stroke-width="1.80" stroke-linecap="butt"/>
<line x1="441.30" y1="352.20" x2="447.30" y2="352.20" stroke="#000" stroke-width="1.50" stroke-linecap="butt"/>
<text transform="translate(431.30 357.40) scale(1.030 1)" font-size="17.57" text-anchor="end" fill="#000" stroke="#000" stroke-width="0.30">10<tspan dy="-8.26" font-size="11.25">3</tspan></text>
<line x1="441.30" y1="481.10" x2="447.30" y2="481.10" stroke="#000" stroke-width="1.50" stroke-linecap="butt"/>
<text transform="translate(430.80 487.60) scale(1.030 1)" font-size="17.57" text-anchor="end" fill="#000" stroke="#000" stroke-width="0.30">10<tspan dy="-8.26" font-size="11.25">2.5</tspan></text>
<line x1="444.00" y1="442.30" x2="447.30" y2="442.30" stroke="#000" stroke-width="1.30" stroke-linecap="butt"/>
<line x1="444.00" y1="419.60" x2="447.30" y2="419.60" stroke="#000" stroke-width="1.30" stroke-linecap="butt"/>
<line x1="444.00" y1="403.49" x2="447.30" y2="403.49" stroke="#000" stroke-width="1.30" stroke-linecap="butt"/>
<line x1="444.00" y1="391.00" x2="447.30" y2="391.00" stroke="#000" stroke-width="1.30" stroke-linecap="butt"/>
<line x1="444.00" y1="380.80" x2="447.30" y2="380.80" stroke="#000" stroke-width="1.30" stroke-linecap="butt"/>
<line x1="444.00" y1="372.17" x2="447.30" y2="372.17" stroke="#000" stroke-width="1.30" stroke-linecap="butt"/>
<line x1="444.00" y1="364.69" x2="447.30" y2="364.69" stroke="#000" stroke-width="1.30" stroke-linecap="butt"/>
<line x1="444.00" y1="358.10" x2="447.30" y2="358.10" stroke="#000" stroke-width="1.30" stroke-linecap="butt"/>
<line x1="444.00" y1="519.90" x2="447.30" y2="519.90" stroke="#000" stroke-width="1.30" stroke-linecap="butt"/>
<line x1="444.00" y1="509.70" x2="447.30" y2="509.70" stroke="#000" stroke-width="1.30" stroke-linecap="butt"/>
<line x1="444.00" y1="501.07" x2="447.30" y2="501.07" stroke="#000" stroke-width="1.30" stroke-linecap="butt"/>
<line x1="444.00" y1="493.59" x2="447.30" y2="493.59" stroke="#000" stroke-width="1.30" stroke-linecap="butt"/>
<line x1="444.00" y1="487.00" x2="447.30" y2="487.00" stroke="#000" stroke-width="1.30" stroke-linecap="butt"/>
<line x1="446.40" y1="531.70" x2="648.40" y2="531.70" stroke="#000" stroke-width="1.80" stroke-linecap="butt"/>
<line x1="457.20" y1="531.70" x2="457.20" y2="537.90" stroke="#000" stroke-width="1.50" stroke-linecap="butt"/>
<text transform="translate(457.20 556.50) scale(1.030 1)" font-size="17.57" text-anchor="middle" fill="#000" stroke="#000" stroke-width="0.30">0</text>
<line x1="513.80" y1="531.70" x2="513.80" y2="537.90" stroke="#000" stroke-width="1.50" stroke-linecap="butt"/>
<text transform="translate(513.80 556.50) scale(1.030 1)" font-size="17.57" text-anchor="middle" fill="#000" stroke="#000" stroke-width="0.30">0.01</text>
<line x1="581.80" y1="531.70" x2="581.80" y2="537.90" stroke="#000" stroke-width="1.50" stroke-linecap="butt"/>
<text transform="translate(581.80 556.50) scale(1.030 1)" font-size="17.57" text-anchor="middle" fill="#000" stroke="#000" stroke-width="0.30">1</text>
<line x1="647.60" y1="531.70" x2="647.60" y2="537.90" stroke="#000" stroke-width="1.50" stroke-linecap="butt"/>
<text transform="translate(647.60 556.50) scale(1.030 1)" font-size="17.57" text-anchor="middle" fill="#000" stroke="#000" stroke-width="0.30">100</text>
<line x1="467.10" y1="531.70" x2="467.10" y2="535.00" stroke="#000" stroke-width="1.30" stroke-linecap="butt"/>
<line x1="478.76" y1="531.70" x2="478.76" y2="535.00" stroke="#000" stroke-width="1.30" stroke-linecap="butt"/>
<line x1="487.54" y1="531.70" x2="487.54" y2="535.00" stroke="#000" stroke-width="1.30" stroke-linecap="butt"/>
<line x1="493.37" y1="531.70" x2="493.37" y2="535.00" stroke="#000" stroke-width="1.30" stroke-linecap="butt"/>
<line x1="498.46" y1="531.70" x2="498.46" y2="535.00" stroke="#000" stroke-width="1.30" stroke-linecap="butt"/>
<line x1="502.42" y1="531.70" x2="502.42" y2="535.00" stroke="#000" stroke-width="1.30" stroke-linecap="butt"/>
<line x1="505.76" y1="531.70" x2="505.76" y2="535.00" stroke="#000" stroke-width="1.30" stroke-linecap="butt"/>
<line x1="508.71" y1="531.70" x2="508.71" y2="535.00" stroke="#000" stroke-width="1.30" stroke-linecap="butt"/>
<line x1="511.20" y1="531.70" x2="511.20" y2="535.00" stroke="#000" stroke-width="1.30" stroke-linecap="butt"/>
<line x1="534.27" y1="531.70" x2="534.27" y2="535.00" stroke="#000" stroke-width="1.30" stroke-linecap="butt"/>
<line x1="546.24" y1="531.70" x2="546.24" y2="535.00" stroke="#000" stroke-width="1.30" stroke-linecap="butt"/>
<line x1="554.74" y1="531.70" x2="554.74" y2="535.00" stroke="#000" stroke-width="1.30" stroke-linecap="butt"/>
<line x1="561.33" y1="531.70" x2="561.33" y2="535.00" stroke="#000" stroke-width="1.30" stroke-linecap="butt"/>
<line x1="566.71" y1="531.70" x2="566.71" y2="535.00" stroke="#000" stroke-width="1.30" stroke-linecap="butt"/>
<line x1="571.27" y1="531.70" x2="571.27" y2="535.00" stroke="#000" stroke-width="1.30" stroke-linecap="butt"/>
<line x1="575.21" y1="531.70" x2="575.21" y2="535.00" stroke="#000" stroke-width="1.30" stroke-linecap="butt"/>
<line x1="578.69" y1="531.70" x2="578.69" y2="535.00" stroke="#000" stroke-width="1.30" stroke-linecap="butt"/>
<line x1="601.61" y1="531.70" x2="601.61" y2="535.00" stroke="#000" stroke-width="1.30" stroke-linecap="butt"/>
<line x1="613.19" y1="531.70" x2="613.19" y2="535.00" stroke="#000" stroke-width="1.30" stroke-linecap="butt"/>
<line x1="621.42" y1="531.70" x2="621.42" y2="535.00" stroke="#000" stroke-width="1.30" stroke-linecap="butt"/>
<line x1="627.79" y1="531.70" x2="627.79" y2="535.00" stroke="#000" stroke-width="1.30" stroke-linecap="butt"/>
<line x1="633.00" y1="531.70" x2="633.00" y2="535.00" stroke="#000" stroke-width="1.30" stroke-linecap="butt"/>
<line x1="637.41" y1="531.70" x2="637.41" y2="535.00" stroke="#000" stroke-width="1.30" stroke-linecap="butt"/>
<line x1="641.22" y1="531.70" x2="641.22" y2="535.00" stroke="#000" stroke-width="1.30" stroke-linecap="butt"/>
<line x1="644.59" y1="531.70" x2="644.59" y2="535.00" stroke="#000" stroke-width="1.30" stroke-linecap="butt"/>
<text transform="translate(545.50 581.20) scale(1.030 1)" font-size="18.25" text-anchor="middle" fill="#000" stroke="#000" stroke-width="0.31">µg ml<tspan dy="-8.58" font-size="11.68">−1</tspan><tspan dy="8.58"> DEL-OVA</tspan></text>
<text transform="translate(357.00 430.50) rotate(-90) scale(1.030 1)" font-size="17.57" text-anchor="middle" fill="#000" stroke="#000" stroke-width="0.30">CD69 Median</text>
<text transform="translate(376.50 430.50) rotate(-90) scale(1.030 1)" font-size="17.57" text-anchor="middle" fill="#000" stroke="#000" stroke-width="0.30">fluorescence intensity</text>
<path d="M456.8 480.8L504.1 465.4L537.8 448.0L547.4 456.0L570.9 398.2L591.4 359.4L637.3 354.5" fill="none" stroke="#000" stroke-width="1.60" />
<circle cx="456.80" cy="480.80" r="4.80" fill="#000"/>
<line x1="504.10" y1="457.60" x2="504.10" y2="473.40" stroke="#000" stroke-width="1.50" stroke-linecap="butt"/>
<line x1="499.90" y1="457.60" x2="508.30" y2="457.60" stroke="#000" stroke-width="1.50" stroke-linecap="butt"/>
<line x1="499.90" y1="473.40" x2="508.30" y2="473.40" stroke="#000" stroke-width="1.50" stroke-linecap="butt"/>
<circle cx="504.10" cy="465.40" r="4.80" fill="#000"/>
<line x1="537.80" y1="436.80" x2="537.80" y2="459.90" stroke="#000" stroke-width="1.50" stroke-linecap="butt"/>
<line x1="533.60" y1="436.80" x2="542.00" y2="436.80" stroke="#000" stroke-width="1.50" stroke-linecap="butt"/>
<line x1="533.60" y1="459.90" x2="542.00" y2="459.90" stroke="#000" stroke-width="1.50" stroke-linecap="butt"/>
<circle cx="537.80" cy="448.00" r="4.80" fill="#000"/>
<line x1="547.40" y1="447.00" x2="547.40" y2="465.70" stroke="#000" stroke-width="1.50" stroke-linecap="butt"/>
<line x1="543.20" y1="447.00" x2="551.60" y2="447.00" stroke="#000" stroke-width="1.50" stroke-linecap="butt"/>
<line x1="543.20" y1="465.70" x2="551.60" y2="465.70" stroke="#000" stroke-width="1.50" stroke-linecap="butt"/>
<circle cx="547.40" cy="456.00" r="4.80" fill="#000"/>
<line x1="570.90" y1="395.00" x2="570.90" y2="401.60" stroke="#000" stroke-width="1.50" stroke-linecap="butt"/>
<line x1="566.70" y1="395.00" x2="575.10" y2="395.00" stroke="#000" stroke-width="1.50" stroke-linecap="butt"/>
<line x1="566.70" y1="401.60" x2="575.10" y2="401.60" stroke="#000" stroke-width="1.50" stroke-linecap="butt"/>
<circle cx="570.90" cy="398.20" r="4.80" fill="#000"/>
<line x1="591.40" y1="336.90" x2="591.40" y2="388.60" stroke="#000" stroke-width="1.50" stroke-linecap="butt"/>
<line x1="587.20" y1="336.90" x2="595.60" y2="336.90" stroke="#000" stroke-width="1.50" stroke-linecap="butt"/>
<line x1="587.20" y1="388.60" x2="595.60" y2="388.60" stroke="#000" stroke-width="1.50" stroke-linecap="butt"/>
<circle cx="591.40" cy="359.40" r="4.80" fill="#000"/>
<line x1="637.30" y1="343.60" x2="637.30" y2="365.80" stroke="#000" stroke-width="1.50" stroke-linecap="butt"/>
<line x1="633.10" y1="343.60" x2="641.50" y2="343.60" stroke="#000" stroke-width="1.50" stroke-linecap="butt"/>
<line x1="633.10" y1="365.80" x2="641.50" y2="365.80" stroke="#000" stroke-width="1.50" stroke-linecap="butt"/>
<circle cx="637.30" cy="354.50" r="4.80" fill="#000"/>
<text transform="translate(0.60 638.60)" font-size="30.50" text-anchor="start" fill="#000" font-weight="bold">e</text>
<line x1="134.00" y1="644.40" x2="134.00" y2="862.60" stroke="#000" stroke-width="2.00" stroke-linecap="butt"/>
<line x1="127.70" y1="645.20" x2="134.00" y2="645.20" stroke="#000" stroke-width="1.50" stroke-linecap="butt"/>
<text transform="translate(118.00 650.90) scale(1.030 1)" font-size="17.67" text-anchor="end" fill="#000" stroke="#000" stroke-width="0.30">10<tspan dy="-8.30" font-size="11.31">4</tspan></text>
<line x1="130.20" y1="670.42" x2="134.00" y2="670.42" stroke="#000" stroke-width="1.20" stroke-linecap="butt"/>
<line x1="130.20" y1="664.07" x2="134.00" y2="664.07" stroke="#000" stroke-width="1.20" stroke-linecap="butt"/>
<line x1="130.20" y1="659.56" x2="134.00" y2="659.56" stroke="#000" stroke-width="1.20" stroke-linecap="butt"/>
<line x1="130.20" y1="656.06" x2="134.00" y2="656.06" stroke="#000" stroke-width="1.20" stroke-linecap="butt"/>
<line x1="130.20" y1="653.20" x2="134.00" y2="653.20" stroke="#000" stroke-width="1.20" stroke-linecap="butt"/>
<line x1="130.20" y1="650.79" x2="134.00" y2="650.79" stroke="#000" stroke-width="1.20" stroke-linecap="butt"/>
<line x1="130.20" y1="648.70" x2="134.00" y2="648.70" stroke="#000" stroke-width="1.20" stroke-linecap="butt"/>
<line x1="130.20" y1="646.85" x2="134.00" y2="646.85" stroke="#000" stroke-width="1.20" stroke-linecap="butt"/>
<line x1="127.70" y1="681.28" x2="134.00" y2="681.28" stroke="#000" stroke-width="1.50" stroke-linecap="butt"/>
<text transform="translate(118.00 686.98) scale(1.030 1)" font-size="17.67" text-anchor="end" fill="#000" stroke="#000" stroke-width="0.30">10<tspan dy="-8.30" font-size="11.31">3</tspan></text>
<line x1="130.20" y1="706.50" x2="134.00" y2="706.50" stroke="#000" stroke-width="1.20" stroke-linecap="butt"/>
<line x1="130.20" y1="700.15" x2="134.00" y2="700.15" stroke="#000" stroke-width="1.20" stroke-linecap="butt"/>
<line x1="130.20" y1="695.64" x2="134.00" y2="695.64" stroke="#000" stroke-width="1.20" stroke-linecap="butt"/>
<line x1="130.20" y1="692.14" x2="134.00" y2="692.14" stroke="#000" stroke-width="1.20" stroke-linecap="butt"/>
<line x1="130.20" y1="689.28" x2="134.00" y2="689.28" stroke="#000" stroke-width="1.20" stroke-linecap="butt"/>
<line x1="130.20" y1="686.87" x2="134.00" y2="686.87" stroke="#000" stroke-width="1.20" stroke-linecap="butt"/>
<line x1="130.20" y1="684.78" x2="134.00" y2="684.78" stroke="#000" stroke-width="1.20" stroke-linecap="butt"/>
<line x1="130.20" y1="682.93" x2="134.00" y2="682.93" stroke="#000" stroke-width="1.20" stroke-linecap="butt"/>
<line x1="127.70" y1="717.36" x2="134.00" y2="717.36" stroke="#000" stroke-width="1.50" stroke-linecap="butt"/>
<text transform="translate(118.00 723.06) scale(1.030 1)" font-size="17.67" text-anchor="end" fill="#000" stroke="#000" stroke-width="0.30">10<tspan dy="-8.30" font-size="11.31">2</tspan></text>
<line x1="130.20" y1="742.58" x2="134.00" y2="742.58" stroke="#000" stroke-width="1.20" stroke-linecap="butt"/>
<line x1="130.20" y1="736.23" x2="134.00" y2="736.23" stroke="#000" stroke-width="1.20" stroke-linecap="butt"/>
<line x1="130.20" y1="731.72" x2="134.00" y2="731.72" stroke="#000" stroke-width="1.20" stroke-linecap="butt"/>
<line x1="130.20" y1="728.22" x2="134.00" y2="728.22" stroke="#000" stroke-width="1.20" stroke-linecap="butt"/>
<line x1="130.20" y1="725.36" x2="134.00" y2="725.36" stroke="#000" stroke-width="1.20" stroke-linecap="butt"/>
<line x1="130.20" y1="722.95" x2="134.00" y2="722.95" stroke="#000" stroke-width="1.20" stroke-linecap="butt"/>
<line x1="130.20" y1="720.86" x2="134.00" y2="720.86" stroke="#000" stroke-width="1.20" stroke-linecap="butt"/>
<line x1="130.20" y1="719.01" x2="134.00" y2="719.01" stroke="#000" stroke-width="1.20" stroke-linecap="butt"/>
<line x1="127.70" y1="753.44" x2="134.00" y2="753.44" stroke="#000" stroke-width="1.50" stroke-linecap="butt"/>
<text transform="translate(118.00 759.14) scale(1.030 1)" font-size="17.67" text-anchor="end" fill="#000" stroke="#000" stroke-width="0.30">10<tspan dy="-8.30" font-size="11.31">1</tspan></text>
<line x1="130.20" y1="778.66" x2="134.00" y2="778.66" stroke="#000" stroke-width="1.20" stroke-linecap="butt"/>
<line x1="130.20" y1="772.31" x2="134.00" y2="772.31" stroke="#000" stroke-width="1.20" stroke-linecap="butt"/>
<line x1="130.20" y1="767.80" x2="134.00" y2="767.80" stroke="#000" stroke-width="1.20" stroke-linecap="butt"/>
<line x1="130.20" y1="764.30" x2="134.00" y2="764.30" stroke="#000" stroke-width="1.20" stroke-linecap="butt"/>
<line x1="130.20" y1="761.44" x2="134.00" y2="761.44" stroke="#000" stroke-width="1.20" stroke-linecap="butt"/>
<line x1="130.20" y1="759.03" x2="134.00" y2="759.03" stroke="#000" stroke-width="1.20" stroke-linecap="butt"/>
<line x1="130.20" y1="756.94" x2="134.00" y2="756.94" stroke="#000" stroke-width="1.20" stroke-linecap="butt"/>
<line x1="130.20" y1="755.09" x2="134.00" y2="755.09" stroke="#000" stroke-width="1.20" stroke-linecap="butt"/>
<line x1="127.70" y1="789.52" x2="134.00" y2="789.52" stroke="#000" stroke-width="1.50" stroke-linecap="butt"/>
<text transform="translate(118.00 795.22) scale(1.030 1)" font-size="17.67" text-anchor="end" fill="#000" stroke="#000" stroke-width="0.30">10<tspan dy="-8.30" font-size="11.31">0</tspan></text>
<line x1="130.20" y1="814.74" x2="134.00" y2="814.74" stroke="#000" stroke-width="1.20" stroke-linecap="butt"/>
<line x1="130.20" y1="808.39" x2="134.00" y2="808.39" stroke="#000" stroke-width="1.20" stroke-linecap="butt"/>
<line x1="130.20" y1="803.88" x2="134.00" y2="803.88" stroke="#000" stroke-width="1.20" stroke-linecap="butt"/>
<line x1="130.20" y1="800.38" x2="134.00" y2="800.38" stroke="#000" stroke-width="1.20" stroke-linecap="butt"/>
<line x1="130.20" y1="797.52" x2="134.00" y2="797.52" stroke="#000" stroke-width="1.20" stroke-linecap="butt"/>
<line x1="130.20" y1="795.11" x2="134.00" y2="795.11" stroke="#000" stroke-width="1.20" stroke-linecap="butt"/>
<line x1="130.20" y1="793.02" x2="134.00" y2="793.02" stroke="#000" stroke-width="1.20" stroke-linecap="butt"/>
<line x1="130.20" y1="791.17" x2="134.00" y2="791.17" stroke="#000" stroke-width="1.20" stroke-linecap="butt"/>
<line x1="127.70" y1="825.60" x2="134.00" y2="825.60" stroke="#000" stroke-width="1.50" stroke-linecap="butt"/>
<text transform="translate(118.00 831.30) scale(1.030 1)" font-size="17.67" text-anchor="end" fill="#000" stroke="#000" stroke-width="0.30">10<tspan dy="-8.30" font-size="11.31">−1</tspan></text>
<line x1="130.20" y1="850.82" x2="134.00" y2="850.82" stroke="#000" stroke-width="1.20" stroke-linecap="butt"/>
<line x1="130.20" y1="844.47" x2="134.00" y2="844.47" stroke="#000" stroke-width="1.20" stroke-linecap="butt"/>
<line x1="130.20" y1="839.96" x2="134.00" y2="839.96" stroke="#000" stroke-width="1.20" stroke-linecap="butt"/>
<line x1="130.20" y1="836.46" x2="134.00" y2="836.46" stroke="#000" stroke-width="1.20" stroke-linecap="butt"/>
<line x1="130.20" y1="833.60" x2="134.00" y2="833.60" stroke="#000" stroke-width="1.20" stroke-linecap="butt"/>
<line x1="130.20" y1="831.19" x2="134.00" y2="831.19" stroke="#000" stroke-width="1.20" stroke-linecap="butt"/>
<line x1="130.20" y1="829.10" x2="134.00" y2="829.10" stroke="#000" stroke-width="1.20" stroke-linecap="butt"/>
<line x1="130.20" y1="827.25" x2="134.00" y2="827.25" stroke="#000" stroke-width="1.20" stroke-linecap="butt"/>
<line x1="127.70" y1="861.68" x2="134.00" y2="861.68" stroke="#000" stroke-width="1.50" stroke-linecap="butt"/>
<text transform="translate(118.00 867.38) scale(1.030 1)" font-size="17.67" text-anchor="end" fill="#000" stroke="#000" stroke-width="0.30">10<tspan dy="-8.30" font-size="11.31">−2</tspan></text>
<line x1="133.20" y1="861.80" x2="460.80" y2="861.80" stroke="#000" stroke-width="1.60" stroke-linecap="butt"/>
<line x1="161.30" y1="861.80" x2="161.30" y2="868.30" stroke="#000" stroke-width="1.50" stroke-linecap="butt"/>
<line x1="215.30" y1="861.80" x2="215.30" y2="868.30" stroke="#000" stroke-width="1.50" stroke-linecap="butt"/>
<line x1="269.30" y1="861.80" x2="269.30" y2="868.30" stroke="#000" stroke-width="1.50" stroke-linecap="butt"/>
<line x1="323.30" y1="861.80" x2="323.30" y2="868.30" stroke="#000" stroke-width="1.50" stroke-linecap="butt"/>
<line x1="377.00" y1="861.80" x2="377.00" y2="868.30" stroke="#000" stroke-width="1.50" stroke-linecap="butt"/>
<line x1="431.00" y1="861.80" x2="431.00" y2="868.30" stroke="#000" stroke-width="1.50" stroke-linecap="butt"/>
<rect x="135.10" y="768.00" width="24.40" height="93.80" fill="#000"/>
<rect x="190.20" y="728.00" width="24.00" height="133.80" fill="#000"/>
<rect x="244.40" y="728.00" width="24.00" height="133.80" fill="#000"/>
<rect x="298.10" y="716.40" width="24.00" height="145.40" fill="#000"/>
<rect x="352.20" y="696.50" width="24.00" height="165.30" fill="#000"/>
<rect x="406.20" y="714.90" width="24.00" height="146.90" fill="#000"/>
<rect x="163.00" y="834.60" width="22.00" height="27.20" fill="#868686" stroke="#000" stroke-width="1.20"/>
<rect x="217.10" y="784.60" width="22.00" height="77.20" fill="#868686" stroke="#000" stroke-width="1.20"/>
<rect x="271.50" y="833.60" width="22.00" height="28.20" fill="#868686" stroke="#000" stroke-width="1.20"/>
<rect x="325.00" y="816.80" width="22.00" height="45.00" fill="#868686" stroke="#000" stroke-width="1.20"/>
<rect x="379.20" y="806.60" width="22.00" height="55.20" fill="#868686" stroke="#000" stroke-width="1.20"/>
<rect x="433.30" y="817.60" width="22.00" height="44.20" fill="#868686" stroke="#000" stroke-width="1.20"/>
<line x1="153.40" y1="655.90" x2="360.90" y2="655.90" stroke="#000" stroke-width="1.60" stroke-linecap="butt"/>
<line x1="202.20" y1="660.90" x2="360.90" y2="660.90" stroke="#000" stroke-width="1.60" stroke-linecap="butt"/>
<text transform="translate(236.80 660.01)" font-size="22.50" text-anchor="middle" fill="#000" stroke="#000" stroke-width="0.37">*</text>
<text transform="translate(42.90 755.70) rotate(-90) scale(1.030 1)" font-size="17.57" text-anchor="middle" fill="#000" stroke="#000" stroke-width="0.30">Ig-Tg Proliferated:</text>
<text transform="translate(65.00 755.70) rotate(-90) scale(1.030 1)" font-size="17.57" text-anchor="middle" fill="#000" stroke="#000" stroke-width="0.30">Unproliferated</text>
<rect x="384.00" y="643.40" width="25.00" height="12.20" fill="#000"/>
<rect x="384.60" y="668.80" width="23.80" height="11.00" fill="#868686" stroke="#000" stroke-width="1.20"/>
<text transform="translate(414.30 655.20) scale(0.890 1)" font-size="16.97" text-anchor="start" fill="#000" stroke="#000" stroke-width="0.25">Single Ag</text>
<text transform="translate(414.30 679.80) scale(0.890 1)" font-size="16.97" text-anchor="start" fill="#000" stroke="#000" stroke-width="0.25">Control</text>
<circle cx="143.20" cy="762.20" r="4.30" fill="#fff" stroke="#000" stroke-width="1.50"/>
<circle cx="153.40" cy="758.40" r="4.30" fill="#fff" stroke="#000" stroke-width="1.50"/>
<circle cx="148.20" cy="768.30" r="4.30" fill="#fff" stroke="#000" stroke-width="1.50"/>
<circle cx="143.80" cy="777.70" r="4.30" fill="#fff" stroke="#000" stroke-width="1.50"/>
<circle cx="153.40" cy="779.10" r="4.30" fill="#fff" stroke="#000" stroke-width="1.50"/>
<circle cx="148.20" cy="782.60" r="4.30" fill="#fff" stroke="#000" stroke-width="1.50"/>
<circle cx="169.20" cy="830.80" r="4.30" fill="#fff" stroke="#000" stroke-width="1.50"/>
<circle cx="179.40" cy="833.10" r="4.30" fill="#fff" stroke="#000" stroke-width="1.50"/>
<circle cx="173.90" cy="837.50" r="4.30" fill="#fff" stroke="#000" stroke-width="1.50"/>
<circle cx="195.80" cy="724.50" r="4.30" fill="#fff" stroke="#000" stroke-width="1.50"/>
<circle cx="208.90" cy="722.20" r="4.30" fill="#fff" stroke="#000" stroke-width="1.50"/>
<circle cx="202.20" cy="729.50" r="4.30" fill="#fff" stroke="#000" stroke-width="1.50"/>
<circle cx="196.40" cy="732.40" r="4.30" fill="#fff" stroke="#000" stroke-width="1.50"/>
<circle cx="201.60" cy="733.90" r="4.30" fill="#fff" stroke="#000" stroke-width="1.50"/>
<circle cx="206.60" cy="731.80" r="4.30" fill="#fff" stroke="#000" stroke-width="1.50"/>
<circle cx="227.60" cy="767.70" r="4.30" fill="#fff" stroke="#000" stroke-width="1.50"/>
<circle cx="227.60" cy="813.60" r="4.30" fill="#fff" stroke="#000" stroke-width="1.50"/>
<circle cx="227.60" cy="830.20" r="4.30" fill="#fff" stroke="#000" stroke-width="1.50"/>
<circle cx="256.80" cy="714.30" r="4.30" fill="#fff" stroke="#000" stroke-width="1.50"/>
<circle cx="249.50" cy="722.80" r="4.30" fill="#fff" stroke="#000" stroke-width="1.50"/>
<circle cx="263.50" cy="722.80" r="4.30" fill="#fff" stroke="#000" stroke-width="1.50"/>
<circle cx="259.10" cy="730.40" r="4.30" fill="#fff" stroke="#000" stroke-width="1.50"/>
<circle cx="251.80" cy="739.70" r="4.30" fill="#fff" stroke="#000" stroke-width="1.50"/>
<circle cx="263.50" cy="739.10" r="4.30" fill="#fff" stroke="#000" stroke-width="1.50"/>
<circle cx="259.10" cy="744.10" r="4.30" fill="#fff" stroke="#000" stroke-width="1.50"/>
<circle cx="253.30" cy="747.60" r="4.30" fill="#fff" stroke="#000" stroke-width="1.50"/>
<circle cx="281.60" cy="815.00" r="4.30" fill="#fff" stroke="#000" stroke-width="1.50"/>
<circle cx="274.60" cy="831.70" r="4.30" fill="#fff" stroke="#000" stroke-width="1.50"/>
<circle cx="288.30" cy="833.10" r="4.30" fill="#fff" stroke="#000" stroke-width="1.50"/>
<circle cx="278.70" cy="835.50" r="4.30" fill="#fff" stroke="#000" stroke-width="1.50"/>
<circle cx="283.90" cy="842.50" r="4.30" fill="#fff" stroke="#000" stroke-width="1.50"/>
<circle cx="288.30" cy="844.80" r="4.30" fill="#fff" stroke="#000" stroke-width="1.50"/>
<circle cx="275.20" cy="857.10" r="4.30" fill="#fff" stroke="#000" stroke-width="1.50"/>
<circle cx="303.70" cy="706.10" r="4.30" fill="#fff" stroke="#000" stroke-width="1.50"/>
<circle cx="316.30" cy="712.80" r="4.30" fill="#fff" stroke="#000" stroke-width="1.50"/>
<circle cx="307.50" cy="713.40" r="4.30" fill="#fff" stroke="#000" stroke-width="1.50"/>
<circle cx="311.90" cy="717.80" r="4.30" fill="#fff" stroke="#000" stroke-width="1.50"/>
<circle cx="306.10" cy="719.30" r="4.30" fill="#fff" stroke="#000" stroke-width="1.50"/>
<circle cx="314.80" cy="720.70" r="4.30" fill="#fff" stroke="#000" stroke-width="1.50"/>
<circle cx="309.00" cy="723.60" r="4.30" fill="#fff" stroke="#000" stroke-width="1.50"/>
<circle cx="312.80" cy="725.70" r="4.30" fill="#fff" stroke="#000" stroke-width="1.50"/>
<circle cx="310.40" cy="728.00" r="4.30" fill="#fff" stroke="#000" stroke-width="1.50"/>
<circle cx="324.50" cy="804.50" r="4.30" fill="#fff" stroke="#000" stroke-width="1.50"/>
<circle cx="341.70" cy="802.50" r="4.30" fill="#fff" stroke="#000" stroke-width="1.50"/>
<circle cx="330.00" cy="814.20" r="4.30" fill="#fff" stroke="#000" stroke-width="1.50"/>
<circle cx="342.00" cy="820.00" r="4.30" fill="#fff" stroke="#000" stroke-width="1.50"/>
<circle cx="342.00" cy="826.70" r="4.30" fill="#fff" stroke="#000" stroke-width="1.50"/>
<circle cx="338.20" cy="830.80" r="4.30" fill="#fff" stroke="#000" stroke-width="1.50"/>
<circle cx="329.40" cy="830.80" r="4.30" fill="#fff" stroke="#000" stroke-width="1.50"/>
<circle cx="332.90" cy="834.60" r="4.30" fill="#fff" stroke="#000" stroke-width="1.50"/>
<circle cx="364.50" cy="676.40" r="4.30" fill="#fff" stroke="#000" stroke-width="1.50"/>
<circle cx="357.70" cy="696.50" r="4.30" fill="#fff" stroke="#000" stroke-width="1.50"/>
<circle cx="371.20" cy="695.30" r="4.30" fill="#fff" stroke="#000" stroke-width="1.50"/>
<circle cx="366.50" cy="701.20" r="4.30" fill="#fff" stroke="#000" stroke-width="1.50"/>
<circle cx="360.90" cy="704.70" r="4.30" fill="#fff" stroke="#000" stroke-width="1.50"/>
<circle cx="358.60" cy="714.90" r="4.30" fill="#fff" stroke="#000" stroke-width="1.50"/>
<circle cx="370.30" cy="722.80" r="4.30" fill="#fff" stroke="#000" stroke-width="1.50"/>
<circle cx="364.50" cy="746.10" r="4.30" fill="#fff" stroke="#000" stroke-width="1.50"/>
<circle cx="385.80" cy="798.70" r="4.30" fill="#fff" stroke="#000" stroke-width="1.50"/>
<circle cx="395.10" cy="797.50" r="4.30" fill="#fff" stroke="#000" stroke-width="1.50"/>
<circle cx="390.70" cy="802.50" r="4.30" fill="#fff" stroke="#000" stroke-width="1.50"/>
<circle cx="396.60" cy="806.00" r="4.30" fill="#fff" stroke="#000" stroke-width="1.50"/>
<circle cx="383.40" cy="815.60" r="4.30" fill="#fff" stroke="#000" stroke-width="1.50"/>
<circle cx="386.90" cy="818.50" r="4.30" fill="#fff" stroke="#000" stroke-width="1.50"/>
<circle cx="392.80" cy="818.50" r="4.30" fill="#fff" stroke="#000" stroke-width="1.50"/>
<circle cx="413.50" cy="709.10" r="4.30" fill="#fff" stroke="#000" stroke-width="1.50"/>
<circle cx="423.40" cy="708.50" r="4.30" fill="#fff" stroke="#000" stroke-width="1.50"/>
<circle cx="418.50" cy="712.00" r="4.30" fill="#fff" stroke="#000" stroke-width="1.50"/>
<circle cx="424.90" cy="714.00" r="4.30" fill="#fff" stroke="#000" stroke-width="1.50"/>
<circle cx="412.00" cy="718.40" r="4.30" fill="#fff" stroke="#000" stroke-width="1.50"/>
<circle cx="420.80" cy="725.10" r="4.30" fill="#fff" stroke="#000" stroke-width="1.50"/>
<circle cx="415.00" cy="725.70" r="4.30" fill="#fff" stroke="#000" stroke-width="1.50"/>
<circle cx="443.90" cy="805.40" r="4.30" fill="#fff" stroke="#000" stroke-width="1.50"/>
<circle cx="437.40" cy="811.20" r="4.30" fill="#fff" stroke="#000" stroke-width="1.50"/>
<circle cx="441.20" cy="815.60" r="4.30" fill="#fff" stroke="#000" stroke-width="1.50"/>
<circle cx="450.00" cy="814.20" r="4.30" fill="#fff" stroke="#000" stroke-width="1.50"/>
<circle cx="446.80" cy="820.90" r="4.30" fill="#fff" stroke="#000" stroke-width="1.50"/>
<circle cx="449.10" cy="838.40" r="4.30" fill="#fff" stroke="#000" stroke-width="1.50"/>
<circle cx="438.00" cy="842.50" r="4.30" fill="#fff" stroke="#000" stroke-width="1.50"/>
<text transform="translate(1.20 934.40)" font-size="30.50" text-anchor="start" fill="#000" font-weight="bold">f</text>
<line x1="134.00" y1="945.30" x2="134.00" y2="1132.10" stroke="#000" stroke-width="2.00" stroke-linecap="butt"/>
<line x1="127.70" y1="976.00" x2="134.00" y2="976.00" stroke="#000" stroke-width="1.50" stroke-linecap="butt"/>
<text transform="translate(118.00 981.70) scale(1.030 1)" font-size="17.67" text-anchor="end" fill="#000" stroke="#000" stroke-width="0.30">10<tspan dy="-8.30" font-size="11.31">−2</tspan></text>
<line x1="130.20" y1="1000.88" x2="134.00" y2="1000.88" stroke="#000" stroke-width="1.20" stroke-linecap="butt"/>
<line x1="130.20" y1="994.61" x2="134.00" y2="994.61" stroke="#000" stroke-width="1.20" stroke-linecap="butt"/>
<line x1="130.20" y1="990.17" x2="134.00" y2="990.17" stroke="#000" stroke-width="1.20" stroke-linecap="butt"/>
<line x1="130.20" y1="986.72" x2="134.00" y2="986.72" stroke="#000" stroke-width="1.20" stroke-linecap="butt"/>
<line x1="130.20" y1="983.90" x2="134.00" y2="983.90" stroke="#000" stroke-width="1.20" stroke-linecap="butt"/>
<line x1="130.20" y1="981.51" x2="134.00" y2="981.51" stroke="#000" stroke-width="1.20" stroke-linecap="butt"/>
<line x1="130.20" y1="979.45" x2="134.00" y2="979.45" stroke="#000" stroke-width="1.20" stroke-linecap="butt"/>
<line x1="130.20" y1="977.63" x2="134.00" y2="977.63" stroke="#000" stroke-width="1.20" stroke-linecap="butt"/>
<line x1="127.70" y1="1011.60" x2="134.00" y2="1011.60" stroke="#000" stroke-width="1.50" stroke-linecap="butt"/>
<text transform="translate(118.00 1017.30) scale(1.030 1)" font-size="17.67" text-anchor="end" fill="#000" stroke="#000" stroke-width="0.30">10<tspan dy="-8.30" font-size="11.31">−3</tspan></text>
<line x1="130.20" y1="1036.48" x2="134.00" y2="1036.48" stroke="#000" stroke-width="1.20" stroke-linecap="butt"/>
<line x1="130.20" y1="1030.21" x2="134.00" y2="1030.21" stroke="#000" stroke-width="1.20" stroke-linecap="butt"/>
<line x1="130.20" y1="1025.77" x2="134.00" y2="1025.77" stroke="#000" stroke-width="1.20" stroke-linecap="butt"/>
<line x1="130.20" y1="1022.32" x2="134.00" y2="1022.32" stroke="#000" stroke-width="1.20" stroke-linecap="butt"/>
<line x1="130.20" y1="1019.50" x2="134.00" y2="1019.50" stroke="#000" stroke-width="1.20" stroke-linecap="butt"/>
<line x1="130.20" y1="1017.11" x2="134.00" y2="1017.11" stroke="#000" stroke-width="1.20" stroke-linecap="butt"/>
<line x1="130.20" y1="1015.05" x2="134.00" y2="1015.05" stroke="#000" stroke-width="1.20" stroke-linecap="butt"/>
<line x1="130.20" y1="1013.23" x2="134.00" y2="1013.23" stroke="#000" stroke-width="1.20" stroke-linecap="butt"/>
<line x1="127.70" y1="1047.20" x2="134.00" y2="1047.20" stroke="#000" stroke-width="1.50" stroke-linecap="butt"/>
<text transform="translate(118.00 1052.90) scale(1.030 1)" font-size="17.67" text-anchor="end" fill="#000" stroke="#000" stroke-width="0.30">10<tspan dy="-8.30" font-size="11.31">−4</tspan></text>
<line x1="130.20" y1="1072.08" x2="134.00" y2="1072.08" stroke="#000" stroke-width="1.20" stroke-linecap="butt"/>
<line x1="130.20" y1="1065.81" x2="134.00" y2="1065.81" stroke="#000" stroke-width="1.20" stroke-linecap="butt"/>
<line x1="130.20" y1="1061.37" x2="134.00" y2="1061.37" stroke="#000" stroke-width="1.20" stroke-linecap="butt"/>
<line x1="130.20" y1="1057.92" x2="134.00" y2="1057.92" stroke="#000" stroke-width="1.20" stroke-linecap="butt"/>
<line x1="130.20" y1="1055.10" x2="134.00" y2="1055.10" stroke="#000" stroke-width="1.20" stroke-linecap="butt"/>
<line x1="130.20" y1="1052.71" x2="134.00" y2="1052.71" stroke="#000" stroke-width="1.20" stroke-linecap="butt"/>
<line x1="130.20" y1="1050.65" x2="134.00" y2="1050.65" stroke="#000" stroke-width="1.20" stroke-linecap="butt"/>
<line x1="130.20" y1="1048.83" x2="134.00" y2="1048.83" stroke="#000" stroke-width="1.20" stroke-linecap="butt"/>
<line x1="127.70" y1="1082.80" x2="134.00" y2="1082.80" stroke="#000" stroke-width="1.50" stroke-linecap="butt"/>
<text transform="translate(118.00 1088.50) scale(1.030 1)" font-size="17.67" text-anchor="end" fill="#000" stroke="#000" stroke-width="0.30">10<tspan dy="-8.30" font-size="11.31">−5</tspan></text>
<line x1="130.20" y1="1107.68" x2="134.00" y2="1107.68" stroke="#000" stroke-width="1.20" stroke-linecap="butt"/>
<line x1="130.20" y1="1101.41" x2="134.00" y2="1101.41" stroke="#000" stroke-width="1.20" stroke-linecap="butt"/>
<line x1="130.20" y1="1096.97" x2="134.00" y2="1096.97" stroke="#000" stroke-width="1.20" stroke-linecap="butt"/>
<line x1="130.20" y1="1093.52" x2="134.00" y2="1093.52" stroke="#000" stroke-width="1.20" stroke-linecap="butt"/>
<line x1="130.20" y1="1090.70" x2="134.00" y2="1090.70" stroke="#000" stroke-width="1.20" stroke-linecap="butt"/>
<line x1="130.20" y1="1088.31" x2="134.00" y2="1088.31" stroke="#000" stroke-width="1.20" stroke-linecap="butt"/>
<line x1="130.20" y1="1086.25" x2="134.00" y2="1086.25" stroke="#000" stroke-width="1.20" stroke-linecap="butt"/>
<line x1="130.20" y1="1084.43" x2="134.00" y2="1084.43" stroke="#000" stroke-width="1.20" stroke-linecap="butt"/>
<line x1="127.70" y1="1118.40" x2="134.00" y2="1118.40" stroke="#000" stroke-width="1.50" stroke-linecap="butt"/>
<text transform="translate(118.00 1124.10) scale(1.030 1)" font-size="17.67" text-anchor="end" fill="#000" stroke="#000" stroke-width="0.30">10<tspan dy="-8.30" font-size="11.31">−6</tspan></text>
<line x1="130.20" y1="965.28" x2="134.00" y2="965.28" stroke="#000" stroke-width="1.20" stroke-linecap="butt"/>
<line x1="130.20" y1="959.01" x2="134.00" y2="959.01" stroke="#000" stroke-width="1.20" stroke-linecap="butt"/>
<line x1="130.20" y1="954.57" x2="134.00" y2="954.57" stroke="#000" stroke-width="1.20" stroke-linecap="butt"/>
<line x1="130.20" y1="951.12" x2="134.00" y2="951.12" stroke="#000" stroke-width="1.20" stroke-linecap="butt"/>
<line x1="130.20" y1="948.30" x2="134.00" y2="948.30" stroke="#000" stroke-width="1.20" stroke-linecap="butt"/>
<line x1="130.20" y1="945.91" x2="134.00" y2="945.91" stroke="#000" stroke-width="1.20" stroke-linecap="butt"/>
<line x1="127.70" y1="1132.10" x2="134.00" y2="1132.10" stroke="#000" stroke-width="1.50" stroke-linecap="butt"/>
<line x1="130.20" y1="1129.12" x2="134.00" y2="1129.12" stroke="#000" stroke-width="1.20" stroke-linecap="butt"/>
<line x1="130.20" y1="1126.30" x2="134.00" y2="1126.30" stroke="#000" stroke-width="1.20" stroke-linecap="butt"/>
<line x1="130.20" y1="1123.91" x2="134.00" y2="1123.91" stroke="#000" stroke-width="1.20" stroke-linecap="butt"/>
<line x1="130.20" y1="1121.85" x2="134.00" y2="1121.85" stroke="#000" stroke-width="1.20" stroke-linecap="butt"/>
<line x1="130.20" y1="1120.03" x2="134.00" y2="1120.03" stroke="#000" stroke-width="1.20" stroke-linecap="butt"/>
<line x1="134.00" y1="1148.20" x2="134.00" y2="1162.10" stroke="#000" stroke-width="2.00" stroke-linecap="butt"/>
<line x1="128.00" y1="1148.20" x2="134.00" y2="1148.20" stroke="#000" stroke-width="1.50" stroke-linecap="butt"/>
<text transform="translate(117.20 1153.80) scale(1.030 1)" font-size="17.67" text-anchor="end" fill="#000" stroke="#000" stroke-width="0.30">0</text>
<line x1="133.20" y1="1161.30" x2="460.80" y2="1161.30" stroke="#000" stroke-width="1.60" stroke-linecap="butt"/>
<line x1="161.30" y1="1161.30" x2="161.30" y2="1167.80" stroke="#000" stroke-width="1.50" stroke-linecap="butt"/>
<line x1="215.30" y1="1161.30" x2="215.30" y2="1167.80" stroke="#000" stroke-width="1.50" stroke-linecap="butt"/>
<line x1="269.30" y1="1161.30" x2="269.30" y2="1167.80" stroke="#000" stroke-width="1.50" stroke-linecap="butt"/>
<line x1="323.30" y1="1161.30" x2="323.30" y2="1167.80" stroke="#000" stroke-width="1.50" stroke-linecap="butt"/>
<line x1="377.00" y1="1161.30" x2="377.00" y2="1167.80" stroke="#000" stroke-width="1.50" stroke-linecap="butt"/>
<line x1="431.00" y1="1161.30" x2="431.00" y2="1167.80" stroke="#000" stroke-width="1.50" stroke-linecap="butt"/>
<rect x="135.10" y="1043.00" width="24.40" height="118.30" fill="#000"/>
<rect x="192.00" y="1021.80" width="24.00" height="139.50" fill="#000"/>
<rect x="247.90" y="997.20" width="24.00" height="164.10" fill="#000"/>
<rect x="300.50" y="984.70" width="24.00" height="176.60" fill="#000"/>
<rect x="353.80" y="972.10" width="24.00" height="189.20" fill="#000"/>
<rect x="407.20" y="986.70" width="24.00" height="174.60" fill="#000"/>
<rect x="164.90" y="1148.80" width="22.00" height="12.50" fill="#868686" stroke="#000" stroke-width="1.20"/>
<rect x="220.50" y="1148.80" width="22.00" height="12.50" fill="#868686" stroke="#000" stroke-width="1.20"/>
<rect x="274.10" y="1148.80" width="22.00" height="12.50" fill="#868686" stroke="#000" stroke-width="1.20"/>
<rect x="326.50" y="1097.70" width="22.00" height="63.60" fill="#868686" stroke="#000" stroke-width="1.20"/>
<rect x="379.90" y="1121.90" width="22.00" height="39.40" fill="#868686" stroke="#000" stroke-width="1.20"/>
<rect x="433.00" y="1148.80" width="22.00" height="12.50" fill="#868686" stroke="#000" stroke-width="1.20"/>
<line x1="145.30" y1="931.20" x2="415.00" y2="931.20" stroke="#000" stroke-width="1.60" stroke-linecap="butt"/>
<line x1="145.30" y1="935.90" x2="364.50" y2="935.90" stroke="#000" stroke-width="1.60" stroke-linecap="butt"/>
<line x1="145.30" y1="940.60" x2="310.40" y2="940.60" stroke="#000" stroke-width="1.60" stroke-linecap="butt"/>
<text transform="translate(229.30 935.22)" font-size="22.50" text-anchor="middle" fill="#000" stroke="#000" stroke-width="0.37">*</text>
<text transform="translate(66.20 1057.00) rotate(-90) scale(1.030 1)" font-size="17.57" text-anchor="middle" fill="#000" stroke="#000" stroke-width="0.30">Ig-Tg GC: CD19<tspan dy="-6.33" font-size="11.25">+</tspan></text>
<circle cx="148.20" cy="1027.90" r="4.30" fill="#fff" stroke="#000" stroke-width="1.50"/>
<circle cx="142.30" cy="1039.60" r="4.30" fill="#fff" stroke="#000" stroke-width="1.50"/>
<circle cx="153.40" cy="1043.60" r="4.30" fill="#fff" stroke="#000" stroke-width="1.50"/>
<circle cx="143.20" cy="1056.20" r="4.30" fill="#fff" stroke="#000" stroke-width="1.50"/>
<circle cx="153.40" cy="1058.20" r="4.30" fill="#fff" stroke="#000" stroke-width="1.50"/>
<circle cx="148.20" cy="1064.10" r="4.30" fill="#fff" stroke="#000" stroke-width="1.50"/>
<circle cx="170.10" cy="1148.60" r="4.30" fill="#fff" stroke="#000" stroke-width="1.50"/>
<circle cx="175.30" cy="1148.60" r="4.30" fill="#fff" stroke="#000" stroke-width="1.50"/>
<circle cx="180.30" cy="1148.60" r="4.30" fill="#fff" stroke="#000" stroke-width="1.50"/>
<circle cx="198.40" cy="1012.40" r="4.30" fill="#fff" stroke="#000" stroke-width="1.50"/>
<circle cx="209.50" cy="1015.90" r="4.30" fill="#fff" stroke="#000" stroke-width="1.50"/>
<circle cx="195.80" cy="1024.10" r="4.30" fill="#fff" stroke="#000" stroke-width="1.50"/>
<circle cx="210.40" cy="1025.50" r="4.30" fill="#fff" stroke="#000" stroke-width="1.50"/>
<circle cx="206.60" cy="1032.80" r="4.30" fill="#fff" stroke="#000" stroke-width="1.50"/>
<circle cx="200.70" cy="1035.80" r="4.30" fill="#fff" stroke="#000" stroke-width="1.50"/>
<circle cx="226.10" cy="1148.60" r="4.30" fill="#fff" stroke="#000" stroke-width="1.50"/>
<circle cx="231.40" cy="1148.60" r="4.30" fill="#fff" stroke="#000" stroke-width="1.50"/>
<circle cx="236.40" cy="1148.60" r="4.30" fill="#fff" stroke="#000" stroke-width="1.50"/>
<circle cx="253.30" cy="987.60" r="4.30" fill="#fff" stroke="#000" stroke-width="1.50"/>
<circle cx="266.40" cy="986.10" r="4.30" fill="#fff" stroke="#000" stroke-width="1.50"/>
<circle cx="262.00" cy="989.90" r="4.30" fill="#fff" stroke="#000" stroke-width="1.50"/>
<circle cx="256.20" cy="993.40" r="4.30" fill="#fff" stroke="#000" stroke-width="1.50"/>
<circle cx="264.40" cy="1000.70" r="4.30" fill="#fff" stroke="#000" stroke-width="1.50"/>
<circle cx="254.20" cy="1009.50" r="4.30" fill="#fff" stroke="#000" stroke-width="1.50"/>
<circle cx="259.10" cy="1011.80" r="4.30" fill="#fff" stroke="#000" stroke-width="1.50"/>
<circle cx="254.70" cy="1034.90" r="4.30" fill="#fff" stroke="#000" stroke-width="1.50"/>
<circle cx="265.00" cy="1032.00" r="4.30" fill="#fff" stroke="#000" stroke-width="1.50"/>
<circle cx="278.10" cy="1148.60" r="4.30" fill="#fff" stroke="#000" stroke-width="1.50"/>
<circle cx="282.50" cy="1148.60" r="4.30" fill="#fff" stroke="#000" stroke-width="1.50"/>
<circle cx="291.20" cy="1148.60" r="4.30" fill="#fff" stroke="#000" stroke-width="1.50"/>
<circle cx="318.30" cy="970.70" r="4.30" fill="#fff" stroke="#000" stroke-width="1.50"/>
<circle cx="306.60" cy="977.40" r="4.30" fill="#fff" stroke="#000" stroke-width="1.50"/>
<circle cx="317.20" cy="980.30" r="4.30" fill="#fff" stroke="#000" stroke-width="1.50"/>
<circle cx="307.50" cy="982.30" r="4.30" fill="#fff" stroke="#000" stroke-width="1.50"/>
<circle cx="314.80" cy="989.10" r="4.30" fill="#fff" stroke="#000" stroke-width="1.50"/>
<circle cx="310.40" cy="990.50" r="4.30" fill="#fff" stroke="#000" stroke-width="1.50"/>
<circle cx="306.60" cy="1008.60" r="4.30" fill="#fff" stroke="#000" stroke-width="1.50"/>
<circle cx="317.70" cy="1008.00" r="4.30" fill="#fff" stroke="#000" stroke-width="1.50"/>
<circle cx="337.60" cy="1066.40" r="4.30" fill="#fff" stroke="#000" stroke-width="1.50"/>
<circle cx="337.60" cy="1106.40" r="4.30" fill="#fff" stroke="#000" stroke-width="1.50"/>
<circle cx="330.90" cy="1148.60" r="4.30" fill="#fff" stroke="#000" stroke-width="1.50"/>
<circle cx="338.20" cy="1148.60" r="4.30" fill="#fff" stroke="#000" stroke-width="1.50"/>
<circle cx="343.10" cy="1148.60" r="4.30" fill="#fff" stroke="#000" stroke-width="1.50"/>
<circle cx="365.30" cy="947.30" r="4.30" fill="#fff" stroke="#000" stroke-width="1.50"/>
<circle cx="360.90" cy="972.40" r="4.30" fill="#fff" stroke="#000" stroke-width="1.50"/>
<circle cx="369.70" cy="978.80" r="4.30" fill="#fff" stroke="#000" stroke-width="1.50"/>
<circle cx="365.30" cy="984.10" r="4.30" fill="#fff" stroke="#000" stroke-width="1.50"/>
<circle cx="370.30" cy="985.50" r="4.30" fill="#fff" stroke="#000" stroke-width="1.50"/>
<circle cx="360.90" cy="993.40" r="4.30" fill="#fff" stroke="#000" stroke-width="1.50"/>
<circle cx="365.30" cy="997.80" r="4.30" fill="#fff" stroke="#000" stroke-width="1.50"/>
<circle cx="365.30" cy="1040.10" r="4.30" fill="#fff" stroke="#000" stroke-width="1.50"/>
<circle cx="384.90" cy="1096.50" r="4.30" fill="#fff" stroke="#000" stroke-width="1.50"/>
<circle cx="396.00" cy="1109.30" r="4.30" fill="#fff" stroke="#000" stroke-width="1.50"/>
<circle cx="384.90" cy="1148.60" r="4.30" fill="#fff" stroke="#000" stroke-width="1.50"/>
<circle cx="387.80" cy="1148.60" r="4.30" fill="#fff" stroke="#000" stroke-width="1.50"/>
<circle cx="390.70" cy="1148.60" r="4.30" fill="#fff" stroke="#000" stroke-width="1.50"/>
<circle cx="395.10" cy="1148.60" r="4.30" fill="#fff" stroke="#000" stroke-width="1.50"/>
<circle cx="423.40" cy="981.20" r="4.30" fill="#fff" stroke="#000" stroke-width="1.50"/>
<circle cx="413.50" cy="983.80" r="4.30" fill="#fff" stroke="#000" stroke-width="1.50"/>
<circle cx="419.90" cy="984.70" r="4.30" fill="#fff" stroke="#000" stroke-width="1.50"/>
<circle cx="415.50" cy="986.70" r="4.30" fill="#fff" stroke="#000" stroke-width="1.50"/>
<circle cx="423.70" cy="991.40" r="4.30" fill="#fff" stroke="#000" stroke-width="1.50"/>
<circle cx="412.60" cy="1000.70" r="4.30" fill="#fff" stroke="#000" stroke-width="1.50"/>
<circle cx="439.50" cy="1148.60" r="4.30" fill="#fff" stroke="#000" stroke-width="1.50"/>
<circle cx="443.90" cy="1148.60" r="4.30" fill="#fff" stroke="#000" stroke-width="1.50"/>
<circle cx="447.70" cy="1148.60" r="4.30" fill="#fff" stroke="#000" stroke-width="1.50"/>
<text transform="translate(0.80 1222.20)" font-size="30.50" text-anchor="start" fill="#000" font-weight="bold">g</text>
<line x1="134.00" y1="1222.80" x2="134.00" y2="1440.00" stroke="#000" stroke-width="2.00" stroke-linecap="butt"/>
<line x1="127.70" y1="1255.70" x2="134.00" y2="1255.70" stroke="#000" stroke-width="1.50" stroke-linecap="butt"/>
<text transform="translate(118.00 1261.40) scale(1.030 1)" font-size="17.67" text-anchor="end" fill="#000" stroke="#000" stroke-width="0.30">10<tspan dy="-8.30" font-size="11.31">−2</tspan></text>
<line x1="130.20" y1="1282.47" x2="134.00" y2="1282.47" stroke="#000" stroke-width="1.20" stroke-linecap="butt"/>
<line x1="130.20" y1="1275.73" x2="134.00" y2="1275.73" stroke="#000" stroke-width="1.20" stroke-linecap="butt"/>
<line x1="130.20" y1="1270.94" x2="134.00" y2="1270.94" stroke="#000" stroke-width="1.20" stroke-linecap="butt"/>
<line x1="130.20" y1="1267.23" x2="134.00" y2="1267.23" stroke="#000" stroke-width="1.20" stroke-linecap="butt"/>
<line x1="130.20" y1="1264.20" x2="134.00" y2="1264.20" stroke="#000" stroke-width="1.20" stroke-linecap="butt"/>
<line x1="130.20" y1="1261.63" x2="134.00" y2="1261.63" stroke="#000" stroke-width="1.20" stroke-linecap="butt"/>
<line x1="130.20" y1="1259.41" x2="134.00" y2="1259.41" stroke="#000" stroke-width="1.20" stroke-linecap="butt"/>
<line x1="130.20" y1="1257.45" x2="134.00" y2="1257.45" stroke="#000" stroke-width="1.20" stroke-linecap="butt"/>
<line x1="127.70" y1="1294.00" x2="134.00" y2="1294.00" stroke="#000" stroke-width="1.50" stroke-linecap="butt"/>
<text transform="translate(118.00 1299.70) scale(1.030 1)" font-size="17.67" text-anchor="end" fill="#000" stroke="#000" stroke-width="0.30">10<tspan dy="-8.30" font-size="11.31">−3</tspan></text>
<line x1="130.20" y1="1320.77" x2="134.00" y2="1320.77" stroke="#000" stroke-width="1.20" stroke-linecap="butt"/>
<line x1="130.20" y1="1314.03" x2="134.00" y2="1314.03" stroke="#000" stroke-width="1.20" stroke-linecap="butt"/>
<line x1="130.20" y1="1309.24" x2="134.00" y2="1309.24" stroke="#000" stroke-width="1.20" stroke-linecap="butt"/>
<line x1="130.20" y1="1305.53" x2="134.00" y2="1305.53" stroke="#000" stroke-width="1.20" stroke-linecap="butt"/>
<line x1="130.20" y1="1302.50" x2="134.00" y2="1302.50" stroke="#000" stroke-width="1.20" stroke-linecap="butt"/>
<line x1="130.20" y1="1299.93" x2="134.00" y2="1299.93" stroke="#000" stroke-width="1.20" stroke-linecap="butt"/>
<line x1="130.20" y1="1297.71" x2="134.00" y2="1297.71" stroke="#000" stroke-width="1.20" stroke-linecap="butt"/>
<line x1="130.20" y1="1295.75" x2="134.00" y2="1295.75" stroke="#000" stroke-width="1.20" stroke-linecap="butt"/>
<line x1="127.70" y1="1332.30" x2="134.00" y2="1332.30" stroke="#000" stroke-width="1.50" stroke-linecap="butt"/>
<text transform="translate(118.00 1338.00) scale(1.030 1)" font-size="17.67" text-anchor="end" fill="#000" stroke="#000" stroke-width="0.30">10<tspan dy="-8.30" font-size="11.31">−4</tspan></text>
<line x1="130.20" y1="1359.07" x2="134.00" y2="1359.07" stroke="#000" stroke-width="1.20" stroke-linecap="butt"/>
<line x1="130.20" y1="1352.33" x2="134.00" y2="1352.33" stroke="#000" stroke-width="1.20" stroke-linecap="butt"/>
<line x1="130.20" y1="1347.54" x2="134.00" y2="1347.54" stroke="#000" stroke-width="1.20" stroke-linecap="butt"/>
<line x1="130.20" y1="1343.83" x2="134.00" y2="1343.83" stroke="#000" stroke-width="1.20" stroke-linecap="butt"/>
<line x1="130.20" y1="1340.80" x2="134.00" y2="1340.80" stroke="#000" stroke-width="1.20" stroke-linecap="butt"/>
<line x1="130.20" y1="1338.23" x2="134.00" y2="1338.23" stroke="#000" stroke-width="1.20" stroke-linecap="butt"/>
<line x1="130.20" y1="1336.01" x2="134.00" y2="1336.01" stroke="#000" stroke-width="1.20" stroke-linecap="butt"/>
<line x1="130.20" y1="1334.05" x2="134.00" y2="1334.05" stroke="#000" stroke-width="1.20" stroke-linecap="butt"/>
<line x1="127.70" y1="1370.60" x2="134.00" y2="1370.60" stroke="#000" stroke-width="1.50" stroke-linecap="butt"/>
<text transform="translate(118.00 1376.30) scale(1.030 1)" font-size="17.67" text-anchor="end" fill="#000" stroke="#000" stroke-width="0.30">10<tspan dy="-8.30" font-size="11.31">−5</tspan></text>
<line x1="130.20" y1="1397.37" x2="134.00" y2="1397.37" stroke="#000" stroke-width="1.20" stroke-linecap="butt"/>
<line x1="130.20" y1="1390.63" x2="134.00" y2="1390.63" stroke="#000" stroke-width="1.20" stroke-linecap="butt"/>
<line x1="130.20" y1="1385.84" x2="134.00" y2="1385.84" stroke="#000" stroke-width="1.20" stroke-linecap="butt"/>
<line x1="130.20" y1="1382.13" x2="134.00" y2="1382.13" stroke="#000" stroke-width="1.20" stroke-linecap="butt"/>
<line x1="130.20" y1="1379.10" x2="134.00" y2="1379.10" stroke="#000" stroke-width="1.20" stroke-linecap="butt"/>
<line x1="130.20" y1="1376.53" x2="134.00" y2="1376.53" stroke="#000" stroke-width="1.20" stroke-linecap="butt"/>
<line x1="130.20" y1="1374.31" x2="134.00" y2="1374.31" stroke="#000" stroke-width="1.20" stroke-linecap="butt"/>
<line x1="130.20" y1="1372.35" x2="134.00" y2="1372.35" stroke="#000" stroke-width="1.20" stroke-linecap="butt"/>
<line x1="127.70" y1="1408.90" x2="134.00" y2="1408.90" stroke="#000" stroke-width="1.50" stroke-linecap="butt"/>
<text transform="translate(118.00 1413.60) scale(1.030 1)" font-size="17.67" text-anchor="end" fill="#000" stroke="#000" stroke-width="0.30">10<tspan dy="-8.30" font-size="11.31">−6</tspan></text>
<line x1="130.20" y1="1244.17" x2="134.00" y2="1244.17" stroke="#000" stroke-width="1.20" stroke-linecap="butt"/>
<line x1="130.20" y1="1237.43" x2="134.00" y2="1237.43" stroke="#000" stroke-width="1.20" stroke-linecap="butt"/>
<line x1="130.20" y1="1232.64" x2="134.00" y2="1232.64" stroke="#000" stroke-width="1.20" stroke-linecap="butt"/>
<line x1="130.20" y1="1228.93" x2="134.00" y2="1228.93" stroke="#000" stroke-width="1.20" stroke-linecap="butt"/>
<line x1="130.20" y1="1225.90" x2="134.00" y2="1225.90" stroke="#000" stroke-width="1.20" stroke-linecap="butt"/>
<line x1="130.20" y1="1223.33" x2="134.00" y2="1223.33" stroke="#000" stroke-width="1.20" stroke-linecap="butt"/>
<line x1="128.00" y1="1426.50" x2="134.00" y2="1426.50" stroke="#000" stroke-width="1.50" stroke-linecap="butt"/>
<text transform="translate(117.20 1432.10) scale(1.030 1)" font-size="17.67" text-anchor="end" fill="#000" stroke="#000" stroke-width="0.30">0</text>
<line x1="133.20" y1="1439.20" x2="461.40" y2="1439.20" stroke="#000" stroke-width="1.60" stroke-linecap="butt"/>
<line x1="161.30" y1="1439.20" x2="161.30" y2="1445.70" stroke="#000" stroke-width="1.50" stroke-linecap="butt"/>
<line x1="215.30" y1="1439.20" x2="215.30" y2="1445.70" stroke="#000" stroke-width="1.50" stroke-linecap="butt"/>
<line x1="269.30" y1="1439.20" x2="269.30" y2="1445.70" stroke="#000" stroke-width="1.50" stroke-linecap="butt"/>
<line x1="323.30" y1="1439.20" x2="323.30" y2="1445.70" stroke="#000" stroke-width="1.50" stroke-linecap="butt"/>
<line x1="377.00" y1="1439.20" x2="377.00" y2="1445.70" stroke="#000" stroke-width="1.50" stroke-linecap="butt"/>
<line x1="431.00" y1="1439.20" x2="431.00" y2="1445.70" stroke="#000" stroke-width="1.50" stroke-linecap="butt"/>
<rect x="135.10" y="1292.90" width="24.90" height="146.30" fill="#000"/>
<rect x="192.50" y="1252.60" width="24.00" height="186.60" fill="#000"/>
<rect x="248.80" y="1272.30" width="24.00" height="166.90" fill="#000"/>
<rect x="302.30" y="1256.50" width="24.00" height="182.70" fill="#000"/>
<rect x="355.80" y="1270.30" width="24.00" height="168.90" fill="#000"/>
<rect x="409.20" y="1267.10" width="24.00" height="172.10" fill="#000"/>
<rect x="165.30" y="1347.40" width="22.00" height="91.80" fill="#868686" stroke="#000" stroke-width="1.20"/>
<rect x="221.30" y="1343.90" width="22.00" height="95.30" fill="#868686" stroke="#000" stroke-width="1.20"/>
<rect x="275.40" y="1360.50" width="22.00" height="78.70" fill="#868686" stroke="#000" stroke-width="1.20"/>
<rect x="328.50" y="1342.20" width="22.00" height="97.00" fill="#868686" stroke="#000" stroke-width="1.20"/>
<rect x="381.80" y="1348.00" width="22.00" height="91.20" fill="#868686" stroke="#000" stroke-width="1.20"/>
<rect x="435.00" y="1347.00" width="22.00" height="92.20" fill="#868686" stroke="#000" stroke-width="1.20"/>
<line x1="150.20" y1="1226.80" x2="313.70" y2="1226.80" stroke="#000" stroke-width="1.60" stroke-linecap="butt"/>
<line x1="150.20" y1="1231.60" x2="203.70" y2="1231.60" stroke="#000" stroke-width="1.60" stroke-linecap="butt"/>
<text transform="translate(220.30 1230.32)" font-size="22.50" text-anchor="middle" fill="#000" stroke="#000" stroke-width="0.37">*</text>
<text transform="translate(64.80 1330.50) rotate(-90) scale(1.030 1)" font-size="17.57" text-anchor="middle" fill="#000" stroke="#000" stroke-width="0.30">Ig-Tg memory: CD19<tspan dy="-6.33" font-size="11.25">+</tspan></text>
<circle cx="148.90" cy="1281.10" r="4.30" fill="#fff" stroke="#000" stroke-width="1.50"/>
<circle cx="143.60" cy="1288.50" r="4.30" fill="#fff" stroke="#000" stroke-width="1.50"/>
<circle cx="154.20" cy="1292.90" r="4.30" fill="#fff" stroke="#000" stroke-width="1.50"/>
<circle cx="146.70" cy="1296.40" r="4.30" fill="#fff" stroke="#000" stroke-width="1.50"/>
<circle cx="151.10" cy="1298.20" r="4.30" fill="#fff" stroke="#000" stroke-width="1.50"/>
<circle cx="176.50" cy="1340.20" r="4.30" fill="#fff" stroke="#000" stroke-width="1.50"/>
<circle cx="170.80" cy="1352.90" r="4.30" fill="#fff" stroke="#000" stroke-width="1.50"/>
<circle cx="182.60" cy="1351.20" r="4.30" fill="#fff" stroke="#000" stroke-width="1.50"/>
<circle cx="198.40" cy="1246.90" r="4.30" fill="#fff" stroke="#000" stroke-width="1.50"/>
<circle cx="212.40" cy="1246.90" r="4.30" fill="#fff" stroke="#000" stroke-width="1.50"/>
<circle cx="205.80" cy="1250.00" r="4.30" fill="#fff" stroke="#000" stroke-width="1.50"/>
<circle cx="210.20" cy="1258.80" r="4.30" fill="#fff" stroke="#000" stroke-width="1.50"/>
<circle cx="199.30" cy="1264.50" r="4.30" fill="#fff" stroke="#000" stroke-width="1.50"/>
<circle cx="233.00" cy="1329.30" r="4.30" fill="#fff" stroke="#000" stroke-width="1.50"/>
<circle cx="238.70" cy="1360.80" r="4.30" fill="#fff" stroke="#000" stroke-width="1.50"/>
<circle cx="226.90" cy="1369.60" r="4.30" fill="#fff" stroke="#000" stroke-width="1.50"/>
<circle cx="261.50" cy="1250.00" r="4.30" fill="#fff" stroke="#000" stroke-width="1.50"/>
<circle cx="255.30" cy="1276.30" r="4.30" fill="#fff" stroke="#000" stroke-width="1.50"/>
<circle cx="267.20" cy="1276.30" r="4.30" fill="#fff" stroke="#000" stroke-width="1.50"/>
<circle cx="260.60" cy="1279.80" r="4.30" fill="#fff" stroke="#000" stroke-width="1.50"/>
<circle cx="265.00" cy="1284.20" r="4.30" fill="#fff" stroke="#000" stroke-width="1.50"/>
<circle cx="257.50" cy="1285.50" r="4.30" fill="#fff" stroke="#000" stroke-width="1.50"/>
<circle cx="261.50" cy="1287.20" r="4.30" fill="#fff" stroke="#000" stroke-width="1.50"/>
<circle cx="286.40" cy="1339.30" r="4.30" fill="#fff" stroke="#000" stroke-width="1.50"/>
<circle cx="292.80" cy="1355.40" r="4.30" fill="#fff" stroke="#000" stroke-width="1.50"/>
<circle cx="280.00" cy="1357.00" r="4.30" fill="#fff" stroke="#000" stroke-width="1.50"/>
<circle cx="289.00" cy="1364.40" r="4.30" fill="#fff" stroke="#000" stroke-width="1.50"/>
<circle cx="283.20" cy="1368.20" r="4.30" fill="#fff" stroke="#000" stroke-width="1.50"/>
<circle cx="280.00" cy="1376.30" r="4.30" fill="#fff" stroke="#000" stroke-width="1.50"/>
<circle cx="291.90" cy="1386.90" r="4.30" fill="#fff" stroke="#000" stroke-width="1.50"/>
<circle cx="286.40" cy="1426.10" r="4.30" fill="#fff" stroke="#000" stroke-width="1.50"/>
<circle cx="308.90" cy="1241.40" r="4.30" fill="#fff" stroke="#000" stroke-width="1.50"/>
<circle cx="320.10" cy="1240.70" r="4.30" fill="#fff" stroke="#000" stroke-width="1.50"/>
<circle cx="314.40" cy="1259.10" r="4.30" fill="#fff" stroke="#000" stroke-width="1.50"/>
<circle cx="307.90" cy="1264.50" r="4.30" fill="#fff" stroke="#000" stroke-width="1.50"/>
<circle cx="320.10" cy="1266.10" r="4.30" fill="#fff" stroke="#000" stroke-width="1.50"/>
<circle cx="312.10" cy="1273.50" r="4.30" fill="#fff" stroke="#000" stroke-width="1.50"/>
<circle cx="316.00" cy="1274.10" r="4.30" fill="#fff" stroke="#000" stroke-width="1.50"/>
<circle cx="320.80" cy="1261.30" r="4.30" fill="#fff" stroke="#000" stroke-width="1.50"/>
<circle cx="334.60" cy="1325.50" r="4.30" fill="#fff" stroke="#000" stroke-width="1.50"/>
<circle cx="344.20" cy="1329.70" r="4.30" fill="#fff" stroke="#000" stroke-width="1.50"/>
<circle cx="339.40" cy="1334.50" r="4.30" fill="#fff" stroke="#000" stroke-width="1.50"/>
<circle cx="334.00" cy="1354.40" r="4.30" fill="#fff" stroke="#000" stroke-width="1.50"/>
<circle cx="345.20" cy="1356.40" r="4.30" fill="#fff" stroke="#000" stroke-width="1.50"/>
<circle cx="334.60" cy="1362.50" r="4.30" fill="#fff" stroke="#000" stroke-width="1.50"/>
<circle cx="344.20" cy="1364.40" r="4.30" fill="#fff" stroke="#000" stroke-width="1.50"/>
<circle cx="339.40" cy="1372.40" r="4.30" fill="#fff" stroke="#000" stroke-width="1.50"/>
<circle cx="367.40" cy="1256.50" r="4.30" fill="#fff" stroke="#000" stroke-width="1.50"/>
<circle cx="373.80" cy="1258.10" r="4.30" fill="#fff" stroke="#000" stroke-width="1.50"/>
<circle cx="361.90" cy="1269.30" r="4.30" fill="#fff" stroke="#000" stroke-width="1.50"/>
<circle cx="374.10" cy="1275.80" r="4.30" fill="#fff" stroke="#000" stroke-width="1.50"/>
<circle cx="364.50" cy="1280.90" r="4.30" fill="#fff" stroke="#000" stroke-width="1.50"/>
<circle cx="370.60" cy="1283.10" r="4.30" fill="#fff" stroke="#000" stroke-width="1.50"/>
<circle cx="367.40" cy="1307.90" r="4.30" fill="#fff" stroke="#000" stroke-width="1.50"/>
<circle cx="392.40" cy="1329.70" r="4.30" fill="#fff" stroke="#000" stroke-width="1.50"/>
<circle cx="399.50" cy="1347.40" r="4.30" fill="#fff" stroke="#000" stroke-width="1.50"/>
<circle cx="387.00" cy="1354.40" r="4.30" fill="#fff" stroke="#000" stroke-width="1.50"/>
<circle cx="390.80" cy="1357.00" r="4.30" fill="#fff" stroke="#000" stroke-width="1.50"/>
<circle cx="394.70" cy="1356.40" r="4.30" fill="#fff" stroke="#000" stroke-width="1.50"/>
<circle cx="397.90" cy="1353.80" r="4.30" fill="#fff" stroke="#000" stroke-width="1.50"/>
<circle cx="414.20" cy="1256.80" r="4.30" fill="#fff" stroke="#000" stroke-width="1.50"/>
<circle cx="427.10" cy="1263.20" r="4.30" fill="#fff" stroke="#000" stroke-width="1.50"/>
<circle cx="418.10" cy="1264.80" r="4.30" fill="#fff" stroke="#000" stroke-width="1.50"/>
<circle cx="423.90" cy="1266.40" r="4.30" fill="#fff" stroke="#000" stroke-width="1.50"/>
<circle cx="415.90" cy="1273.50" r="4.30" fill="#fff" stroke="#000" stroke-width="1.50"/>
<circle cx="425.50" cy="1277.40" r="4.30" fill="#fff" stroke="#000" stroke-width="1.50"/>
<circle cx="420.70" cy="1282.50" r="4.30" fill="#fff" stroke="#000" stroke-width="1.50"/>
<circle cx="440.60" cy="1328.10" r="4.30" fill="#fff" stroke="#000" stroke-width="1.50"/>
<circle cx="451.80" cy="1336.80" r="4.30" fill="#fff" stroke="#000" stroke-width="1.50"/>
<circle cx="441.50" cy="1347.40" r="4.30" fill="#fff" stroke="#000" stroke-width="1.50"/>
<circle cx="451.20" cy="1353.20" r="4.30" fill="#fff" stroke="#000" stroke-width="1.50"/>
<circle cx="446.00" cy="1357.00" r="4.30" fill="#fff" stroke="#000" stroke-width="1.50"/>
<circle cx="446.00" cy="1378.50" r="4.30" fill="#fff" stroke="#000" stroke-width="1.50"/>
<circle cx="446.00" cy="1426.10" r="4.30" fill="#fff" stroke="#000" stroke-width="1.50"/>
<text transform="translate(15.20 1501.60)" font-size="30.50" text-anchor="start" fill="#000" font-weight="bold">h</text>
<line x1="134.00" y1="1492.80" x2="134.00" y2="1711.30" stroke="#000" stroke-width="2.00" stroke-linecap="butt"/>
<line x1="127.70" y1="1526.60" x2="134.00" y2="1526.60" stroke="#000" stroke-width="1.50" stroke-linecap="butt"/>
<text transform="translate(118.00 1532.30) scale(1.030 1)" font-size="17.67" text-anchor="end" fill="#000" stroke="#000" stroke-width="0.30">10<tspan dy="-8.30" font-size="11.31">−2</tspan></text>
<line x1="130.20" y1="1553.23" x2="134.00" y2="1553.23" stroke="#000" stroke-width="1.20" stroke-linecap="butt"/>
<line x1="130.20" y1="1546.52" x2="134.00" y2="1546.52" stroke="#000" stroke-width="1.20" stroke-linecap="butt"/>
<line x1="130.20" y1="1541.76" x2="134.00" y2="1541.76" stroke="#000" stroke-width="1.20" stroke-linecap="butt"/>
<line x1="130.20" y1="1538.07" x2="134.00" y2="1538.07" stroke="#000" stroke-width="1.20" stroke-linecap="butt"/>
<line x1="130.20" y1="1535.05" x2="134.00" y2="1535.05" stroke="#000" stroke-width="1.20" stroke-linecap="butt"/>
<line x1="130.20" y1="1532.50" x2="134.00" y2="1532.50" stroke="#000" stroke-width="1.20" stroke-linecap="butt"/>
<line x1="130.20" y1="1530.29" x2="134.00" y2="1530.29" stroke="#000" stroke-width="1.20" stroke-linecap="butt"/>
<line x1="130.20" y1="1528.34" x2="134.00" y2="1528.34" stroke="#000" stroke-width="1.20" stroke-linecap="butt"/>
<line x1="127.70" y1="1564.70" x2="134.00" y2="1564.70" stroke="#000" stroke-width="1.50" stroke-linecap="butt"/>
<text transform="translate(118.00 1570.40) scale(1.030 1)" font-size="17.67" text-anchor="end" fill="#000" stroke="#000" stroke-width="0.30">10<tspan dy="-8.30" font-size="11.31">−3</tspan></text>
<line x1="130.20" y1="1591.33" x2="134.00" y2="1591.33" stroke="#000" stroke-width="1.20" stroke-linecap="butt"/>
<line x1="130.20" y1="1584.62" x2="134.00" y2="1584.62" stroke="#000" stroke-width="1.20" stroke-linecap="butt"/>
<line x1="130.20" y1="1579.86" x2="134.00" y2="1579.86" stroke="#000" stroke-width="1.20" stroke-linecap="butt"/>
<line x1="130.20" y1="1576.17" x2="134.00" y2="1576.17" stroke="#000" stroke-width="1.20" stroke-linecap="butt"/>
<line x1="130.20" y1="1573.15" x2="134.00" y2="1573.15" stroke="#000" stroke-width="1.20" stroke-linecap="butt"/>
<line x1="130.20" y1="1570.60" x2="134.00" y2="1570.60" stroke="#000" stroke-width="1.20" stroke-linecap="butt"/>
<line x1="130.20" y1="1568.39" x2="134.00" y2="1568.39" stroke="#000" stroke-width="1.20" stroke-linecap="butt"/>
<line x1="130.20" y1="1566.44" x2="134.00" y2="1566.44" stroke="#000" stroke-width="1.20" stroke-linecap="butt"/>
<line x1="127.70" y1="1602.80" x2="134.00" y2="1602.80" stroke="#000" stroke-width="1.50" stroke-linecap="butt"/>
<text transform="translate(118.00 1608.50) scale(1.030 1)" font-size="17.67" text-anchor="end" fill="#000" stroke="#000" stroke-width="0.30">10<tspan dy="-8.30" font-size="11.31">−4</tspan></text>
<line x1="130.20" y1="1629.43" x2="134.00" y2="1629.43" stroke="#000" stroke-width="1.20" stroke-linecap="butt"/>
<line x1="130.20" y1="1622.72" x2="134.00" y2="1622.72" stroke="#000" stroke-width="1.20" stroke-linecap="butt"/>
<line x1="130.20" y1="1617.96" x2="134.00" y2="1617.96" stroke="#000" stroke-width="1.20" stroke-linecap="butt"/>
<line x1="130.20" y1="1614.27" x2="134.00" y2="1614.27" stroke="#000" stroke-width="1.20" stroke-linecap="butt"/>
<line x1="130.20" y1="1611.25" x2="134.00" y2="1611.25" stroke="#000" stroke-width="1.20" stroke-linecap="butt"/>
<line x1="130.20" y1="1608.70" x2="134.00" y2="1608.70" stroke="#000" stroke-width="1.20" stroke-linecap="butt"/>
<line x1="130.20" y1="1606.49" x2="134.00" y2="1606.49" stroke="#000" stroke-width="1.20" stroke-linecap="butt"/>
<line x1="130.20" y1="1604.54" x2="134.00" y2="1604.54" stroke="#000" stroke-width="1.20" stroke-linecap="butt"/>
<line x1="127.70" y1="1640.90" x2="134.00" y2="1640.90" stroke="#000" stroke-width="1.50" stroke-linecap="butt"/>
<text transform="translate(118.00 1646.60) scale(1.030 1)" font-size="17.67" text-anchor="end" fill="#000" stroke="#000" stroke-width="0.30">10<tspan dy="-8.30" font-size="11.31">−5</tspan></text>
<line x1="130.20" y1="1667.53" x2="134.00" y2="1667.53" stroke="#000" stroke-width="1.20" stroke-linecap="butt"/>
<line x1="130.20" y1="1660.82" x2="134.00" y2="1660.82" stroke="#000" stroke-width="1.20" stroke-linecap="butt"/>
<line x1="130.20" y1="1656.06" x2="134.00" y2="1656.06" stroke="#000" stroke-width="1.20" stroke-linecap="butt"/>
<line x1="130.20" y1="1652.37" x2="134.00" y2="1652.37" stroke="#000" stroke-width="1.20" stroke-linecap="butt"/>
<line x1="130.20" y1="1649.35" x2="134.00" y2="1649.35" stroke="#000" stroke-width="1.20" stroke-linecap="butt"/>
<line x1="130.20" y1="1646.80" x2="134.00" y2="1646.80" stroke="#000" stroke-width="1.20" stroke-linecap="butt"/>
<line x1="130.20" y1="1644.59" x2="134.00" y2="1644.59" stroke="#000" stroke-width="1.20" stroke-linecap="butt"/>
<line x1="130.20" y1="1642.64" x2="134.00" y2="1642.64" stroke="#000" stroke-width="1.20" stroke-linecap="butt"/>
<line x1="127.70" y1="1679.00" x2="134.00" y2="1679.00" stroke="#000" stroke-width="1.50" stroke-linecap="butt"/>
<text transform="translate(118.00 1683.70) scale(1.030 1)" font-size="17.67" text-anchor="end" fill="#000" stroke="#000" stroke-width="0.30">10<tspan dy="-8.30" font-size="11.31">−6</tspan></text>
<line x1="130.20" y1="1515.13" x2="134.00" y2="1515.13" stroke="#000" stroke-width="1.20" stroke-linecap="butt"/>
<line x1="130.20" y1="1508.42" x2="134.00" y2="1508.42" stroke="#000" stroke-width="1.20" stroke-linecap="butt"/>
<line x1="130.20" y1="1503.66" x2="134.00" y2="1503.66" stroke="#000" stroke-width="1.20" stroke-linecap="butt"/>
<line x1="130.20" y1="1499.97" x2="134.00" y2="1499.97" stroke="#000" stroke-width="1.20" stroke-linecap="butt"/>
<line x1="130.20" y1="1496.95" x2="134.00" y2="1496.95" stroke="#000" stroke-width="1.20" stroke-linecap="butt"/>
<line x1="130.20" y1="1494.40" x2="134.00" y2="1494.40" stroke="#000" stroke-width="1.20" stroke-linecap="butt"/>
<line x1="128.00" y1="1697.80" x2="134.00" y2="1697.80" stroke="#000" stroke-width="1.50" stroke-linecap="butt"/>
<text transform="translate(117.20 1703.40) scale(1.030 1)" font-size="17.67" text-anchor="end" fill="#000" stroke="#000" stroke-width="0.30">0</text>
<line x1="133.20" y1="1710.50" x2="460.80" y2="1710.50" stroke="#000" stroke-width="1.60" stroke-linecap="butt"/>
<line x1="161.30" y1="1710.50" x2="161.30" y2="1717.00" stroke="#000" stroke-width="1.50" stroke-linecap="butt"/>
<line x1="215.30" y1="1710.50" x2="215.30" y2="1717.00" stroke="#000" stroke-width="1.50" stroke-linecap="butt"/>
<line x1="269.30" y1="1710.50" x2="269.30" y2="1717.00" stroke="#000" stroke-width="1.50" stroke-linecap="butt"/>
<line x1="323.30" y1="1710.50" x2="323.30" y2="1717.00" stroke="#000" stroke-width="1.50" stroke-linecap="butt"/>
<line x1="377.00" y1="1710.50" x2="377.00" y2="1717.00" stroke="#000" stroke-width="1.50" stroke-linecap="butt"/>
<line x1="431.00" y1="1710.50" x2="431.00" y2="1717.00" stroke="#000" stroke-width="1.50" stroke-linecap="butt"/>
<rect x="135.10" y="1658.40" width="24.90" height="52.10" fill="#000"/>
<rect x="192.50" y="1646.10" width="24.00" height="64.40" fill="#000"/>
<rect x="248.60" y="1625.50" width="24.00" height="85.00" fill="#000"/>
<rect x="302.00" y="1567.00" width="24.00" height="143.50" fill="#000"/>
<rect x="355.60" y="1611.00" width="24.00" height="99.50" fill="#000"/>
<rect x="408.80" y="1616.40" width="24.00" height="94.10" fill="#000"/>
<rect x="165.30" y="1689.20" width="22.00" height="21.30" fill="#868686" stroke="#000" stroke-width="1.20"/>
<rect x="221.20" y="1667.80" width="22.00" height="42.70" fill="#868686" stroke="#000" stroke-width="1.20"/>
<rect x="275.40" y="1697.10" width="22.00" height="13.40" fill="#868686" stroke="#000" stroke-width="1.20"/>
<rect x="328.20" y="1665.50" width="22.00" height="45.00" fill="#868686" stroke="#000" stroke-width="1.20"/>
<rect x="381.30" y="1698.30" width="22.00" height="12.20" fill="#868686" stroke="#000" stroke-width="1.20"/>
<rect x="434.80" y="1698.30" width="22.00" height="12.20" fill="#868686" stroke="#000" stroke-width="1.20"/>
<line x1="150.20" y1="1501.70" x2="365.10" y2="1501.70" stroke="#000" stroke-width="1.60" stroke-linecap="butt"/>
<line x1="150.20" y1="1506.00" x2="314.70" y2="1506.00" stroke="#000" stroke-width="1.60" stroke-linecap="butt"/>
<line x1="205.80" y1="1515.40" x2="365.10" y2="1515.40" stroke="#000" stroke-width="1.60" stroke-linecap="butt"/>
<line x1="205.80" y1="1519.60" x2="314.70" y2="1519.60" stroke="#000" stroke-width="1.60" stroke-linecap="butt"/>
<text transform="translate(233.40 1506.62)" font-size="22.50" text-anchor="middle" fill="#000" stroke="#000" stroke-width="0.37">*</text>
<text transform="translate(64.80 1608.50) rotate(-90) scale(1.030 1)" font-size="17.57" text-anchor="middle" fill="#000" stroke="#000" stroke-width="0.30">Ig-Tg PC: CD19<tspan dy="-6.33" font-size="11.25">+</tspan></text>
<circle cx="148.90" cy="1643.10" r="4.30" fill="#fff" stroke="#000" stroke-width="1.50"/>
<circle cx="154.20" cy="1646.10" r="4.30" fill="#fff" stroke="#000" stroke-width="1.50"/>
<circle cx="142.30" cy="1658.00" r="4.30" fill="#fff" stroke="#000" stroke-width="1.50"/>
<circle cx="148.90" cy="1678.10" r="4.30" fill="#fff" stroke="#000" stroke-width="1.50"/>
<circle cx="142.30" cy="1697.80" r="4.30" fill="#fff" stroke="#000" stroke-width="1.50"/>
<circle cx="153.30" cy="1697.80" r="4.30" fill="#fff" stroke="#000" stroke-width="1.50"/>
<circle cx="176.10" cy="1663.70" r="4.30" fill="#fff" stroke="#000" stroke-width="1.50"/>
<circle cx="173.00" cy="1697.80" r="4.30" fill="#fff" stroke="#000" stroke-width="1.50"/>
<circle cx="177.40" cy="1697.80" r="4.30" fill="#fff" stroke="#000" stroke-width="1.50"/>
<circle cx="181.80" cy="1697.80" r="4.30" fill="#fff" stroke="#000" stroke-width="1.50"/>
<circle cx="199.30" cy="1633.90" r="4.30" fill="#fff" stroke="#000" stroke-width="1.50"/>
<circle cx="210.20" cy="1633.90" r="4.30" fill="#fff" stroke="#000" stroke-width="1.50"/>
<circle cx="204.50" cy="1652.70" r="4.30" fill="#fff" stroke="#000" stroke-width="1.50"/>
<circle cx="199.30" cy="1669.30" r="4.30" fill="#fff" stroke="#000" stroke-width="1.50"/>
<circle cx="209.30" cy="1669.30" r="4.30" fill="#fff" stroke="#000" stroke-width="1.50"/>
<circle cx="204.50" cy="1673.30" r="4.30" fill="#fff" stroke="#000" stroke-width="1.50"/>
<circle cx="233.00" cy="1637.40" r="4.30" fill="#fff" stroke="#000" stroke-width="1.50"/>
<circle cx="227.70" cy="1697.80" r="4.30" fill="#fff" stroke="#000" stroke-width="1.50"/>
<circle cx="233.00" cy="1697.80" r="4.30" fill="#fff" stroke="#000" stroke-width="1.50"/>
<circle cx="237.80" cy="1697.80" r="4.30" fill="#fff" stroke="#000" stroke-width="1.50"/>
<circle cx="265.80" cy="1604.50" r="4.30" fill="#fff" stroke="#000" stroke-width="1.50"/>
<circle cx="254.90" cy="1611.10" r="4.30" fill="#fff" stroke="#000" stroke-width="1.50"/>
<circle cx="265.00" cy="1624.20" r="4.30" fill="#fff" stroke="#000" stroke-width="1.50"/>
<circle cx="255.30" cy="1631.70" r="4.30" fill="#fff" stroke="#000" stroke-width="1.50"/>
<circle cx="261.50" cy="1633.00" r="4.30" fill="#fff" stroke="#000" stroke-width="1.50"/>
<circle cx="261.50" cy="1649.60" r="4.30" fill="#fff" stroke="#000" stroke-width="1.50"/>
<circle cx="255.30" cy="1662.30" r="4.30" fill="#fff" stroke="#000" stroke-width="1.50"/>
<circle cx="265.80" cy="1663.70" r="4.30" fill="#fff" stroke="#000" stroke-width="1.50"/>
<circle cx="261.50" cy="1677.70" r="4.30" fill="#fff" stroke="#000" stroke-width="1.50"/>
<circle cx="282.50" cy="1697.80" r="4.30" fill="#fff" stroke="#000" stroke-width="1.50"/>
<circle cx="286.90" cy="1697.80" r="4.30" fill="#fff" stroke="#000" stroke-width="1.50"/>
<circle cx="291.20" cy="1697.80" r="4.30" fill="#fff" stroke="#000" stroke-width="1.50"/>
<circle cx="313.70" cy="1531.30" r="4.30" fill="#fff" stroke="#000" stroke-width="1.50"/>
<circle cx="308.90" cy="1601.30" r="4.30" fill="#fff" stroke="#000" stroke-width="1.50"/>
<circle cx="318.50" cy="1602.90" r="4.30" fill="#fff" stroke="#000" stroke-width="1.50"/>
<circle cx="313.70" cy="1607.70" r="4.30" fill="#fff" stroke="#000" stroke-width="1.50"/>
<circle cx="307.30" cy="1614.20" r="4.30" fill="#fff" stroke="#000" stroke-width="1.50"/>
<circle cx="310.50" cy="1622.20" r="4.30" fill="#fff" stroke="#000" stroke-width="1.50"/>
<circle cx="320.10" cy="1620.60" r="4.30" fill="#fff" stroke="#000" stroke-width="1.50"/>
<circle cx="316.30" cy="1624.40" r="4.30" fill="#fff" stroke="#000" stroke-width="1.50"/>
<circle cx="313.70" cy="1644.00" r="4.30" fill="#fff" stroke="#000" stroke-width="1.50"/>
<circle cx="338.80" cy="1628.00" r="4.30" fill="#fff" stroke="#000" stroke-width="1.50"/>
<circle cx="333.00" cy="1697.80" r="4.30" fill="#fff" stroke="#000" stroke-width="1.50"/>
<circle cx="336.20" cy="1697.80" r="4.30" fill="#fff" stroke="#000" stroke-width="1.50"/>
<circle cx="341.00" cy="1697.80" r="4.30" fill="#fff" stroke="#000" stroke-width="1.50"/>
<circle cx="345.20" cy="1697.80" r="4.30" fill="#fff" stroke="#000" stroke-width="1.50"/>
<circle cx="366.70" cy="1591.00" r="4.30" fill="#fff" stroke="#000" stroke-width="1.50"/>
<circle cx="360.30" cy="1610.00" r="4.30" fill="#fff" stroke="#000" stroke-width="1.50"/>
<circle cx="369.90" cy="1614.20" r="4.30" fill="#fff" stroke="#000" stroke-width="1.50"/>
<circle cx="374.10" cy="1613.50" r="4.30" fill="#fff" stroke="#000" stroke-width="1.50"/>
<circle cx="362.50" cy="1618.00" r="4.30" fill="#fff" stroke="#000" stroke-width="1.50"/>
<circle cx="367.40" cy="1631.20" r="4.30" fill="#fff" stroke="#000" stroke-width="1.50"/>
<circle cx="371.50" cy="1630.20" r="4.30" fill="#fff" stroke="#000" stroke-width="1.50"/>
<circle cx="388.60" cy="1697.80" r="4.30" fill="#fff" stroke="#000" stroke-width="1.50"/>
<circle cx="392.40" cy="1697.80" r="4.30" fill="#fff" stroke="#000" stroke-width="1.50"/>
<circle cx="396.60" cy="1697.80" r="4.30" fill="#fff" stroke="#000" stroke-width="1.50"/>
<circle cx="425.50" cy="1605.20" r="4.30" fill="#fff" stroke="#000" stroke-width="1.50"/>
<circle cx="414.90" cy="1610.30" r="4.30" fill="#fff" stroke="#000" stroke-width="1.50"/>
<circle cx="413.30" cy="1616.70" r="4.30" fill="#fff" stroke="#000" stroke-width="1.50"/>
<circle cx="426.80" cy="1617.40" r="4.30" fill="#fff" stroke="#000" stroke-width="1.50"/>
<circle cx="417.50" cy="1627.00" r="4.30" fill="#fff" stroke="#000" stroke-width="1.50"/>
<circle cx="422.90" cy="1627.60" r="4.30" fill="#fff" stroke="#000" stroke-width="1.50"/>
<circle cx="420.40" cy="1660.10" r="4.30" fill="#fff" stroke="#000" stroke-width="1.50"/>
<circle cx="441.50" cy="1697.80" r="4.30" fill="#fff" stroke="#000" stroke-width="1.50"/>
<circle cx="445.40" cy="1697.80" r="4.30" fill="#fff" stroke="#000" stroke-width="1.50"/>
<circle cx="449.60" cy="1697.80" r="4.30" fill="#fff" stroke="#000" stroke-width="1.50"/>
<text transform="translate(519.00 638.70)" font-size="30.50" text-anchor="start" fill="#000" font-weight="bold">i</text>
<line x1="623.00" y1="665.90" x2="623.00" y2="866.00" stroke="#000" stroke-width="2.00" stroke-linecap="butt"/>
<line x1="616.70" y1="666.70" x2="623.00" y2="666.70" stroke="#000" stroke-width="1.50" stroke-linecap="butt"/>
<text transform="translate(608.30 672.40) scale(1.030 1)" font-size="17.67" text-anchor="end" fill="#000" stroke="#000" stroke-width="0.30">10<tspan dy="-8.30" font-size="11.31">4</tspan></text>
<line x1="619.20" y1="689.84" x2="623.00" y2="689.84" stroke="#000" stroke-width="1.20" stroke-linecap="butt"/>
<line x1="619.20" y1="684.01" x2="623.00" y2="684.01" stroke="#000" stroke-width="1.20" stroke-linecap="butt"/>
<line x1="619.20" y1="679.87" x2="623.00" y2="679.87" stroke="#000" stroke-width="1.20" stroke-linecap="butt"/>
<line x1="619.20" y1="676.66" x2="623.00" y2="676.66" stroke="#000" stroke-width="1.20" stroke-linecap="butt"/>
<line x1="619.20" y1="674.04" x2="623.00" y2="674.04" stroke="#000" stroke-width="1.20" stroke-linecap="butt"/>
<line x1="619.20" y1="671.83" x2="623.00" y2="671.83" stroke="#000" stroke-width="1.20" stroke-linecap="butt"/>
<line x1="619.20" y1="669.91" x2="623.00" y2="669.91" stroke="#000" stroke-width="1.20" stroke-linecap="butt"/>
<line x1="619.20" y1="668.21" x2="623.00" y2="668.21" stroke="#000" stroke-width="1.20" stroke-linecap="butt"/>
<line x1="616.70" y1="699.80" x2="623.00" y2="699.80" stroke="#000" stroke-width="1.50" stroke-linecap="butt"/>
<text transform="translate(608.30 705.50) scale(1.030 1)" font-size="17.67" text-anchor="end" fill="#000" stroke="#000" stroke-width="0.30">10<tspan dy="-8.30" font-size="11.31">3</tspan></text>
<line x1="619.20" y1="722.94" x2="623.00" y2="722.94" stroke="#000" stroke-width="1.20" stroke-linecap="butt"/>
<line x1="619.20" y1="717.11" x2="623.00" y2="717.11" stroke="#000" stroke-width="1.20" stroke-linecap="butt"/>
<line x1="619.20" y1="712.97" x2="623.00" y2="712.97" stroke="#000" stroke-width="1.20" stroke-linecap="butt"/>
<line x1="619.20" y1="709.76" x2="623.00" y2="709.76" stroke="#000" stroke-width="1.20" stroke-linecap="butt"/>
<line x1="619.20" y1="707.14" x2="623.00" y2="707.14" stroke="#000" stroke-width="1.20" stroke-linecap="butt"/>
<line x1="619.20" y1="704.93" x2="623.00" y2="704.93" stroke="#000" stroke-width="1.20" stroke-linecap="butt"/>
<line x1="619.20" y1="703.01" x2="623.00" y2="703.01" stroke="#000" stroke-width="1.20" stroke-linecap="butt"/>
<line x1="619.20" y1="701.31" x2="623.00" y2="701.31" stroke="#000" stroke-width="1.20" stroke-linecap="butt"/>
<line x1="616.70" y1="732.90" x2="623.00" y2="732.90" stroke="#000" stroke-width="1.50" stroke-linecap="butt"/>
<text transform="translate(608.30 738.60) scale(1.030 1)" font-size="17.67" text-anchor="end" fill="#000" stroke="#000" stroke-width="0.30">10<tspan dy="-8.30" font-size="11.31">2</tspan></text>
<line x1="619.20" y1="756.04" x2="623.00" y2="756.04" stroke="#000" stroke-width="1.20" stroke-linecap="butt"/>
<line x1="619.20" y1="750.21" x2="623.00" y2="750.21" stroke="#000" stroke-width="1.20" stroke-linecap="butt"/>
<line x1="619.20" y1="746.07" x2="623.00" y2="746.07" stroke="#000" stroke-width="1.20" stroke-linecap="butt"/>
<line x1="619.20" y1="742.86" x2="623.00" y2="742.86" stroke="#000" stroke-width="1.20" stroke-linecap="butt"/>
<line x1="619.20" y1="740.24" x2="623.00" y2="740.24" stroke="#000" stroke-width="1.20" stroke-linecap="butt"/>
<line x1="619.20" y1="738.03" x2="623.00" y2="738.03" stroke="#000" stroke-width="1.20" stroke-linecap="butt"/>
<line x1="619.20" y1="736.11" x2="623.00" y2="736.11" stroke="#000" stroke-width="1.20" stroke-linecap="butt"/>
<line x1="619.20" y1="734.41" x2="623.00" y2="734.41" stroke="#000" stroke-width="1.20" stroke-linecap="butt"/>
<line x1="616.70" y1="766.00" x2="623.00" y2="766.00" stroke="#000" stroke-width="1.50" stroke-linecap="butt"/>
<text transform="translate(608.30 771.70) scale(1.030 1)" font-size="17.67" text-anchor="end" fill="#000" stroke="#000" stroke-width="0.30">10<tspan dy="-8.30" font-size="11.31">1</tspan></text>
<line x1="619.20" y1="789.14" x2="623.00" y2="789.14" stroke="#000" stroke-width="1.20" stroke-linecap="butt"/>
<line x1="619.20" y1="783.31" x2="623.00" y2="783.31" stroke="#000" stroke-width="1.20" stroke-linecap="butt"/>
<line x1="619.20" y1="779.17" x2="623.00" y2="779.17" stroke="#000" stroke-width="1.20" stroke-linecap="butt"/>
<line x1="619.20" y1="775.96" x2="623.00" y2="775.96" stroke="#000" stroke-width="1.20" stroke-linecap="butt"/>
<line x1="619.20" y1="773.34" x2="623.00" y2="773.34" stroke="#000" stroke-width="1.20" stroke-linecap="butt"/>
<line x1="619.20" y1="771.13" x2="623.00" y2="771.13" stroke="#000" stroke-width="1.20" stroke-linecap="butt"/>
<line x1="619.20" y1="769.21" x2="623.00" y2="769.21" stroke="#000" stroke-width="1.20" stroke-linecap="butt"/>
<line x1="619.20" y1="767.51" x2="623.00" y2="767.51" stroke="#000" stroke-width="1.20" stroke-linecap="butt"/>
<line x1="616.70" y1="799.10" x2="623.00" y2="799.10" stroke="#000" stroke-width="1.50" stroke-linecap="butt"/>
<text transform="translate(608.30 804.80) scale(1.030 1)" font-size="17.67" text-anchor="end" fill="#000" stroke="#000" stroke-width="0.30">10<tspan dy="-8.30" font-size="11.31">0</tspan></text>
<line x1="619.20" y1="822.24" x2="623.00" y2="822.24" stroke="#000" stroke-width="1.20" stroke-linecap="butt"/>
<line x1="619.20" y1="816.41" x2="623.00" y2="816.41" stroke="#000" stroke-width="1.20" stroke-linecap="butt"/>
<line x1="619.20" y1="812.27" x2="623.00" y2="812.27" stroke="#000" stroke-width="1.20" stroke-linecap="butt"/>
<line x1="619.20" y1="809.06" x2="623.00" y2="809.06" stroke="#000" stroke-width="1.20" stroke-linecap="butt"/>
<line x1="619.20" y1="806.44" x2="623.00" y2="806.44" stroke="#000" stroke-width="1.20" stroke-linecap="butt"/>
<line x1="619.20" y1="804.23" x2="623.00" y2="804.23" stroke="#000" stroke-width="1.20" stroke-linecap="butt"/>
<line x1="619.20" y1="802.31" x2="623.00" y2="802.31" stroke="#000" stroke-width="1.20" stroke-linecap="butt"/>
<line x1="619.20" y1="800.61" x2="623.00" y2="800.61" stroke="#000" stroke-width="1.20" stroke-linecap="butt"/>
<line x1="616.70" y1="832.20" x2="623.00" y2="832.20" stroke="#000" stroke-width="1.50" stroke-linecap="butt"/>
<text transform="translate(608.30 837.90) scale(1.030 1)" font-size="17.67" text-anchor="end" fill="#000" stroke="#000" stroke-width="0.30">10<tspan dy="-8.30" font-size="11.31">−1</tspan></text>
<line x1="619.20" y1="855.34" x2="623.00" y2="855.34" stroke="#000" stroke-width="1.20" stroke-linecap="butt"/>
<line x1="619.20" y1="849.51" x2="623.00" y2="849.51" stroke="#000" stroke-width="1.20" stroke-linecap="butt"/>
<line x1="619.20" y1="845.37" x2="623.00" y2="845.37" stroke="#000" stroke-width="1.20" stroke-linecap="butt"/>
<line x1="619.20" y1="842.16" x2="623.00" y2="842.16" stroke="#000" stroke-width="1.20" stroke-linecap="butt"/>
<line x1="619.20" y1="839.54" x2="623.00" y2="839.54" stroke="#000" stroke-width="1.20" stroke-linecap="butt"/>
<line x1="619.20" y1="837.33" x2="623.00" y2="837.33" stroke="#000" stroke-width="1.20" stroke-linecap="butt"/>
<line x1="619.20" y1="835.41" x2="623.00" y2="835.41" stroke="#000" stroke-width="1.20" stroke-linecap="butt"/>
<line x1="619.20" y1="833.71" x2="623.00" y2="833.71" stroke="#000" stroke-width="1.20" stroke-linecap="butt"/>
<line x1="616.70" y1="865.30" x2="623.00" y2="865.30" stroke="#000" stroke-width="1.50" stroke-linecap="butt"/>
<text transform="translate(608.30 871.00) scale(1.030 1)" font-size="17.67" text-anchor="end" fill="#000" stroke="#000" stroke-width="0.30">10<tspan dy="-8.30" font-size="11.31">−2</tspan></text>
<line x1="617.50" y1="865.20" x2="676.90" y2="865.20" stroke="#000" stroke-width="1.60" stroke-linecap="butt"/>
<line x1="649.10" y1="865.20" x2="649.10" y2="871.70" stroke="#000" stroke-width="1.50" stroke-linecap="butt"/>
<rect x="633.10" y="677.50" width="31.60" height="187.70" fill="#000"/>
<circle cx="653.10" cy="670.00" r="3.55" fill="#fff" stroke="#000" stroke-width="1.40"/>
<circle cx="643.10" cy="675.90" r="3.55" fill="#fff" stroke="#000" stroke-width="1.40"/>
<circle cx="655.30" cy="680.80" r="3.55" fill="#fff" stroke="#000" stroke-width="1.40"/>
<circle cx="649.40" cy="707.20" r="3.55" fill="#fff" stroke="#000" stroke-width="1.40"/>
<text transform="translate(533.00 765.20) rotate(-90) scale(1.030 1)" font-size="17.57" text-anchor="middle" fill="#000" stroke="#000" stroke-width="0.30">Ig-Tg Proliferated:</text>
<text transform="translate(556.00 765.20) rotate(-90) scale(1.030 1)" font-size="17.57" text-anchor="middle" fill="#000" stroke="#000" stroke-width="0.30">Unproliferated</text>
<text transform="translate(521.00 932.30)" font-size="30.50" text-anchor="start" fill="#000" font-weight="bold">j</text>
<line x1="617.60" y1="956.70" x2="617.60" y2="1130.50" stroke="#000" stroke-width="2.00" stroke-linecap="butt"/>
<line x1="611.30" y1="957.50" x2="617.60" y2="957.50" stroke="#000" stroke-width="1.50" stroke-linecap="butt"/>
<text transform="translate(602.60 963.20) scale(1.030 1)" font-size="17.67" text-anchor="end" fill="#000" stroke="#000" stroke-width="0.30">10<tspan dy="-8.30" font-size="11.31">−1</tspan></text>
<line x1="613.80" y1="981.68" x2="617.60" y2="981.68" stroke="#000" stroke-width="1.20" stroke-linecap="butt"/>
<line x1="613.80" y1="975.59" x2="617.60" y2="975.59" stroke="#000" stroke-width="1.20" stroke-linecap="butt"/>
<line x1="613.80" y1="971.27" x2="617.60" y2="971.27" stroke="#000" stroke-width="1.20" stroke-linecap="butt"/>
<line x1="613.80" y1="967.92" x2="617.60" y2="967.92" stroke="#000" stroke-width="1.20" stroke-linecap="butt"/>
<line x1="613.80" y1="965.18" x2="617.60" y2="965.18" stroke="#000" stroke-width="1.20" stroke-linecap="butt"/>
<line x1="613.80" y1="962.86" x2="617.60" y2="962.86" stroke="#000" stroke-width="1.20" stroke-linecap="butt"/>
<line x1="613.80" y1="960.85" x2="617.60" y2="960.85" stroke="#000" stroke-width="1.20" stroke-linecap="butt"/>
<line x1="613.80" y1="959.08" x2="617.60" y2="959.08" stroke="#000" stroke-width="1.20" stroke-linecap="butt"/>
<line x1="611.30" y1="992.10" x2="617.60" y2="992.10" stroke="#000" stroke-width="1.50" stroke-linecap="butt"/>
<text transform="translate(602.60 997.80) scale(1.030 1)" font-size="17.67" text-anchor="end" fill="#000" stroke="#000" stroke-width="0.30">10<tspan dy="-8.30" font-size="11.31">−2</tspan></text>
<line x1="613.80" y1="1016.28" x2="617.60" y2="1016.28" stroke="#000" stroke-width="1.20" stroke-linecap="butt"/>
<line x1="613.80" y1="1010.19" x2="617.60" y2="1010.19" stroke="#000" stroke-width="1.20" stroke-linecap="butt"/>
<line x1="613.80" y1="1005.87" x2="617.60" y2="1005.87" stroke="#000" stroke-width="1.20" stroke-linecap="butt"/>
<line x1="613.80" y1="1002.52" x2="617.60" y2="1002.52" stroke="#000" stroke-width="1.20" stroke-linecap="butt"/>
<line x1="613.80" y1="999.78" x2="617.60" y2="999.78" stroke="#000" stroke-width="1.20" stroke-linecap="butt"/>
<line x1="613.80" y1="997.46" x2="617.60" y2="997.46" stroke="#000" stroke-width="1.20" stroke-linecap="butt"/>
<line x1="613.80" y1="995.45" x2="617.60" y2="995.45" stroke="#000" stroke-width="1.20" stroke-linecap="butt"/>
<line x1="613.80" y1="993.68" x2="617.60" y2="993.68" stroke="#000" stroke-width="1.20" stroke-linecap="butt"/>
<line x1="611.30" y1="1026.70" x2="617.60" y2="1026.70" stroke="#000" stroke-width="1.50" stroke-linecap="butt"/>
<text transform="translate(602.60 1032.40) scale(1.030 1)" font-size="17.67" text-anchor="end" fill="#000" stroke="#000" stroke-width="0.30">10<tspan dy="-8.30" font-size="11.31">−3</tspan></text>
<line x1="613.80" y1="1050.88" x2="617.60" y2="1050.88" stroke="#000" stroke-width="1.20" stroke-linecap="butt"/>
<line x1="613.80" y1="1044.79" x2="617.60" y2="1044.79" stroke="#000" stroke-width="1.20" stroke-linecap="butt"/>
<line x1="613.80" y1="1040.47" x2="617.60" y2="1040.47" stroke="#000" stroke-width="1.20" stroke-linecap="butt"/>
<line x1="613.80" y1="1037.12" x2="617.60" y2="1037.12" stroke="#000" stroke-width="1.20" stroke-linecap="butt"/>
<line x1="613.80" y1="1034.38" x2="617.60" y2="1034.38" stroke="#000" stroke-width="1.20" stroke-linecap="butt"/>
<line x1="613.80" y1="1032.06" x2="617.60" y2="1032.06" stroke="#000" stroke-width="1.20" stroke-linecap="butt"/>
<line x1="613.80" y1="1030.05" x2="617.60" y2="1030.05" stroke="#000" stroke-width="1.20" stroke-linecap="butt"/>
<line x1="613.80" y1="1028.28" x2="617.60" y2="1028.28" stroke="#000" stroke-width="1.20" stroke-linecap="butt"/>
<line x1="611.30" y1="1061.30" x2="617.60" y2="1061.30" stroke="#000" stroke-width="1.50" stroke-linecap="butt"/>
<text transform="translate(602.60 1067.00) scale(1.030 1)" font-size="17.67" text-anchor="end" fill="#000" stroke="#000" stroke-width="0.30">10<tspan dy="-8.30" font-size="11.31">−4</tspan></text>
<line x1="613.80" y1="1085.48" x2="617.60" y2="1085.48" stroke="#000" stroke-width="1.20" stroke-linecap="butt"/>
<line x1="613.80" y1="1079.39" x2="617.60" y2="1079.39" stroke="#000" stroke-width="1.20" stroke-linecap="butt"/>
<line x1="613.80" y1="1075.07" x2="617.60" y2="1075.07" stroke="#000" stroke-width="1.20" stroke-linecap="butt"/>
<line x1="613.80" y1="1071.72" x2="617.60" y2="1071.72" stroke="#000" stroke-width="1.20" stroke-linecap="butt"/>
<line x1="613.80" y1="1068.98" x2="617.60" y2="1068.98" stroke="#000" stroke-width="1.20" stroke-linecap="butt"/>
<line x1="613.80" y1="1066.66" x2="617.60" y2="1066.66" stroke="#000" stroke-width="1.20" stroke-linecap="butt"/>
<line x1="613.80" y1="1064.65" x2="617.60" y2="1064.65" stroke="#000" stroke-width="1.20" stroke-linecap="butt"/>
<line x1="613.80" y1="1062.88" x2="617.60" y2="1062.88" stroke="#000" stroke-width="1.20" stroke-linecap="butt"/>
<line x1="611.30" y1="1095.90" x2="617.60" y2="1095.90" stroke="#000" stroke-width="1.50" stroke-linecap="butt"/>
<text transform="translate(602.60 1101.60) scale(1.030 1)" font-size="17.67" text-anchor="end" fill="#000" stroke="#000" stroke-width="0.30">10<tspan dy="-8.30" font-size="11.31">−5</tspan></text>
<line x1="613.80" y1="1120.08" x2="617.60" y2="1120.08" stroke="#000" stroke-width="1.20" stroke-linecap="butt"/>
<line x1="613.80" y1="1113.99" x2="617.60" y2="1113.99" stroke="#000" stroke-width="1.20" stroke-linecap="butt"/>
<line x1="613.80" y1="1109.67" x2="617.60" y2="1109.67" stroke="#000" stroke-width="1.20" stroke-linecap="butt"/>
<line x1="613.80" y1="1106.32" x2="617.60" y2="1106.32" stroke="#000" stroke-width="1.20" stroke-linecap="butt"/>
<line x1="613.80" y1="1103.58" x2="617.60" y2="1103.58" stroke="#000" stroke-width="1.20" stroke-linecap="butt"/>
<line x1="613.80" y1="1101.26" x2="617.60" y2="1101.26" stroke="#000" stroke-width="1.20" stroke-linecap="butt"/>
<line x1="613.80" y1="1099.25" x2="617.60" y2="1099.25" stroke="#000" stroke-width="1.20" stroke-linecap="butt"/>
<line x1="613.80" y1="1097.48" x2="617.60" y2="1097.48" stroke="#000" stroke-width="1.20" stroke-linecap="butt"/>
<line x1="611.30" y1="1130.50" x2="617.60" y2="1130.50" stroke="#000" stroke-width="1.50" stroke-linecap="butt"/>
<text transform="translate(602.60 1134.60) scale(1.030 1)" font-size="17.67" text-anchor="end" fill="#000" stroke="#000" stroke-width="0.30">10<tspan dy="-8.30" font-size="11.31">−6</tspan></text>
<line x1="612.20" y1="1130.50" x2="622.60" y2="1130.50" stroke="#000" stroke-width="1.50" stroke-linecap="butt"/>
<line x1="617.60" y1="1145.80" x2="617.60" y2="1159.50" stroke="#000" stroke-width="2.00" stroke-linecap="butt"/>
<line x1="612.20" y1="1145.80" x2="622.60" y2="1145.80" stroke="#000" stroke-width="1.50" stroke-linecap="butt"/>
<text transform="translate(601.50 1152.10) scale(1.030 1)" font-size="17.67" text-anchor="end" fill="#000" stroke="#000" stroke-width="0.30">0</text>
<line x1="616.80" y1="1158.70" x2="685.00" y2="1158.70" stroke="#000" stroke-width="1.60" stroke-linecap="butt"/>
<line x1="650.70" y1="1158.70" x2="650.70" y2="1165.20" stroke="#000" stroke-width="1.50" stroke-linecap="butt"/>
<rect x="633.50" y="1002.60" width="32.20" height="156.10" fill="#000"/>
<circle cx="639.60" cy="994.50" r="3.55" fill="#fff" stroke="#000" stroke-width="1.40"/>
<circle cx="661.50" cy="997.80" r="3.55" fill="#fff" stroke="#000" stroke-width="1.40"/>
<circle cx="643.10" cy="1006.70" r="3.55" fill="#fff" stroke="#000" stroke-width="1.40"/>
<circle cx="654.80" cy="1006.70" r="3.55" fill="#fff" stroke="#000" stroke-width="1.40"/>
<circle cx="649.40" cy="1022.10" r="3.55" fill="#fff" stroke="#000" stroke-width="1.40"/>
<text transform="translate(549.00 1060.00) rotate(-90) scale(1.030 1)" font-size="17.57" text-anchor="middle" fill="#000" stroke="#000" stroke-width="0.30">Ig-Tg GC: CD19<tspan dy="-6.33" font-size="11.25">+</tspan></text>
<text transform="translate(518.60 1227.50)" font-size="30.50" text-anchor="start" fill="#000" font-weight="bold">k</text>
<line x1="617.60" y1="1232.40" x2="617.60" y2="1406.80" stroke="#000" stroke-width="2.00" stroke-linecap="butt"/>
<line x1="611.30" y1="1233.20" x2="617.60" y2="1233.20" stroke="#000" stroke-width="1.50" stroke-linecap="butt"/>
<text transform="translate(602.60 1238.90) scale(1.030 1)" font-size="17.67" text-anchor="end" fill="#000" stroke="#000" stroke-width="0.30">10<tspan dy="-8.30" font-size="11.31">−2</tspan></text>
<line x1="613.80" y1="1263.54" x2="617.60" y2="1263.54" stroke="#000" stroke-width="1.20" stroke-linecap="butt"/>
<line x1="613.80" y1="1255.89" x2="617.60" y2="1255.89" stroke="#000" stroke-width="1.20" stroke-linecap="butt"/>
<line x1="613.80" y1="1250.47" x2="617.60" y2="1250.47" stroke="#000" stroke-width="1.20" stroke-linecap="butt"/>
<line x1="613.80" y1="1246.26" x2="617.60" y2="1246.26" stroke="#000" stroke-width="1.20" stroke-linecap="butt"/>
<line x1="613.80" y1="1242.83" x2="617.60" y2="1242.83" stroke="#000" stroke-width="1.20" stroke-linecap="butt"/>
<line x1="613.80" y1="1239.92" x2="617.60" y2="1239.92" stroke="#000" stroke-width="1.20" stroke-linecap="butt"/>
<line x1="613.80" y1="1237.41" x2="617.60" y2="1237.41" stroke="#000" stroke-width="1.20" stroke-linecap="butt"/>
<line x1="613.80" y1="1235.19" x2="617.60" y2="1235.19" stroke="#000" stroke-width="1.20" stroke-linecap="butt"/>
<line x1="611.30" y1="1276.60" x2="617.60" y2="1276.60" stroke="#000" stroke-width="1.50" stroke-linecap="butt"/>
<text transform="translate(602.60 1282.30) scale(1.030 1)" font-size="17.67" text-anchor="end" fill="#000" stroke="#000" stroke-width="0.30">10<tspan dy="-8.30" font-size="11.31">−3</tspan></text>
<line x1="613.80" y1="1306.94" x2="617.60" y2="1306.94" stroke="#000" stroke-width="1.20" stroke-linecap="butt"/>
<line x1="613.80" y1="1299.29" x2="617.60" y2="1299.29" stroke="#000" stroke-width="1.20" stroke-linecap="butt"/>
<line x1="613.80" y1="1293.87" x2="617.60" y2="1293.87" stroke="#000" stroke-width="1.20" stroke-linecap="butt"/>
<line x1="613.80" y1="1289.66" x2="617.60" y2="1289.66" stroke="#000" stroke-width="1.20" stroke-linecap="butt"/>
<line x1="613.80" y1="1286.23" x2="617.60" y2="1286.23" stroke="#000" stroke-width="1.20" stroke-linecap="butt"/>
<line x1="613.80" y1="1283.32" x2="617.60" y2="1283.32" stroke="#000" stroke-width="1.20" stroke-linecap="butt"/>
<line x1="613.80" y1="1280.81" x2="617.60" y2="1280.81" stroke="#000" stroke-width="1.20" stroke-linecap="butt"/>
<line x1="613.80" y1="1278.59" x2="617.60" y2="1278.59" stroke="#000" stroke-width="1.20" stroke-linecap="butt"/>
<line x1="611.30" y1="1320.00" x2="617.60" y2="1320.00" stroke="#000" stroke-width="1.50" stroke-linecap="butt"/>
<text transform="translate(602.60 1325.70) scale(1.030 1)" font-size="17.67" text-anchor="end" fill="#000" stroke="#000" stroke-width="0.30">10<tspan dy="-8.30" font-size="11.31">−4</tspan></text>
<line x1="613.80" y1="1350.34" x2="617.60" y2="1350.34" stroke="#000" stroke-width="1.20" stroke-linecap="butt"/>
<line x1="613.80" y1="1342.69" x2="617.60" y2="1342.69" stroke="#000" stroke-width="1.20" stroke-linecap="butt"/>
<line x1="613.80" y1="1337.27" x2="617.60" y2="1337.27" stroke="#000" stroke-width="1.20" stroke-linecap="butt"/>
<line x1="613.80" y1="1333.06" x2="617.60" y2="1333.06" stroke="#000" stroke-width="1.20" stroke-linecap="butt"/>
<line x1="613.80" y1="1329.63" x2="617.60" y2="1329.63" stroke="#000" stroke-width="1.20" stroke-linecap="butt"/>
<line x1="613.80" y1="1326.72" x2="617.60" y2="1326.72" stroke="#000" stroke-width="1.20" stroke-linecap="butt"/>
<line x1="613.80" y1="1324.21" x2="617.60" y2="1324.21" stroke="#000" stroke-width="1.20" stroke-linecap="butt"/>
<line x1="613.80" y1="1321.99" x2="617.60" y2="1321.99" stroke="#000" stroke-width="1.20" stroke-linecap="butt"/>
<line x1="611.30" y1="1363.40" x2="617.60" y2="1363.40" stroke="#000" stroke-width="1.50" stroke-linecap="butt"/>
<text transform="translate(602.60 1369.10) scale(1.030 1)" font-size="17.67" text-anchor="end" fill="#000" stroke="#000" stroke-width="0.30">10<tspan dy="-8.30" font-size="11.31">−5</tspan></text>
<line x1="613.80" y1="1393.74" x2="617.60" y2="1393.74" stroke="#000" stroke-width="1.20" stroke-linecap="butt"/>
<line x1="613.80" y1="1386.09" x2="617.60" y2="1386.09" stroke="#000" stroke-width="1.20" stroke-linecap="butt"/>
<line x1="613.80" y1="1380.67" x2="617.60" y2="1380.67" stroke="#000" stroke-width="1.20" stroke-linecap="butt"/>
<line x1="613.80" y1="1376.46" x2="617.60" y2="1376.46" stroke="#000" stroke-width="1.20" stroke-linecap="butt"/>
<line x1="613.80" y1="1373.03" x2="617.60" y2="1373.03" stroke="#000" stroke-width="1.20" stroke-linecap="butt"/>
<line x1="613.80" y1="1370.12" x2="617.60" y2="1370.12" stroke="#000" stroke-width="1.20" stroke-linecap="butt"/>
<line x1="613.80" y1="1367.61" x2="617.60" y2="1367.61" stroke="#000" stroke-width="1.20" stroke-linecap="butt"/>
<line x1="613.80" y1="1365.39" x2="617.60" y2="1365.39" stroke="#000" stroke-width="1.20" stroke-linecap="butt"/>
<line x1="611.30" y1="1406.80" x2="617.60" y2="1406.80" stroke="#000" stroke-width="1.50" stroke-linecap="butt"/>
<text transform="translate(602.60 1410.90) scale(1.030 1)" font-size="17.67" text-anchor="end" fill="#000" stroke="#000" stroke-width="0.30">10<tspan dy="-8.30" font-size="11.31">−6</tspan></text>
<line x1="612.20" y1="1406.80" x2="622.60" y2="1406.80" stroke="#000" stroke-width="1.50" stroke-linecap="butt"/>
<line x1="617.60" y1="1422.30" x2="617.60" y2="1436.00" stroke="#000" stroke-width="2.00" stroke-linecap="butt"/>
<line x1="612.20" y1="1422.30" x2="622.60" y2="1422.30" stroke="#000" stroke-width="1.50" stroke-linecap="butt"/>
<text transform="translate(601.50 1428.60) scale(1.030 1)" font-size="17.67" text-anchor="end" fill="#000" stroke="#000" stroke-width="0.30">0</text>
<line x1="616.80" y1="1435.20" x2="685.00" y2="1435.20" stroke="#000" stroke-width="1.60" stroke-linecap="butt"/>
<line x1="650.70" y1="1435.20" x2="650.70" y2="1441.70" stroke="#000" stroke-width="1.50" stroke-linecap="butt"/>
<rect x="633.50" y="1262.40" width="32.20" height="172.80" fill="#000"/>
<circle cx="643.10" cy="1244.80" r="3.55" fill="#fff" stroke="#000" stroke-width="1.40"/>
<circle cx="654.80" cy="1249.40" r="3.55" fill="#fff" stroke="#000" stroke-width="1.40"/>
<circle cx="649.40" cy="1295.90" r="3.55" fill="#fff" stroke="#000" stroke-width="1.40"/>
<circle cx="649.40" cy="1314.80" r="3.55" fill="#fff" stroke="#000" stroke-width="1.40"/>
<circle cx="649.40" cy="1333.10" r="3.55" fill="#fff" stroke="#000" stroke-width="1.40"/>
<text transform="translate(549.00 1329.50) rotate(-90) scale(1.030 1)" font-size="17.57" text-anchor="middle" fill="#000" stroke="#000" stroke-width="0.30">Ig-Tg memory:CD19<tspan dy="-6.33" font-size="11.25">+</tspan></text>
<text transform="translate(523.20 1507.10)" font-size="30.50" text-anchor="start" fill="#000" font-weight="bold">l</text>
<line x1="617.60" y1="1510.50" x2="617.60" y2="1683.30" stroke="#000" stroke-width="2.00" stroke-linecap="butt"/>
<line x1="611.30" y1="1511.30" x2="617.60" y2="1511.30" stroke="#000" stroke-width="1.50" stroke-linecap="butt"/>
<text transform="translate(602.60 1517.00) scale(1.030 1)" font-size="17.67" text-anchor="end" fill="#000" stroke="#000" stroke-width="0.30">10<tspan dy="-8.30" font-size="11.31">−2</tspan></text>
<line x1="613.80" y1="1541.36" x2="617.60" y2="1541.36" stroke="#000" stroke-width="1.20" stroke-linecap="butt"/>
<line x1="613.80" y1="1533.78" x2="617.60" y2="1533.78" stroke="#000" stroke-width="1.20" stroke-linecap="butt"/>
<line x1="613.80" y1="1528.41" x2="617.60" y2="1528.41" stroke="#000" stroke-width="1.20" stroke-linecap="butt"/>
<line x1="613.80" y1="1524.24" x2="617.60" y2="1524.24" stroke="#000" stroke-width="1.20" stroke-linecap="butt"/>
<line x1="613.80" y1="1520.84" x2="617.60" y2="1520.84" stroke="#000" stroke-width="1.20" stroke-linecap="butt"/>
<line x1="613.80" y1="1517.96" x2="617.60" y2="1517.96" stroke="#000" stroke-width="1.20" stroke-linecap="butt"/>
<line x1="613.80" y1="1515.47" x2="617.60" y2="1515.47" stroke="#000" stroke-width="1.20" stroke-linecap="butt"/>
<line x1="613.80" y1="1513.27" x2="617.60" y2="1513.27" stroke="#000" stroke-width="1.20" stroke-linecap="butt"/>
<line x1="611.30" y1="1554.30" x2="617.60" y2="1554.30" stroke="#000" stroke-width="1.50" stroke-linecap="butt"/>
<text transform="translate(602.60 1560.00) scale(1.030 1)" font-size="17.67" text-anchor="end" fill="#000" stroke="#000" stroke-width="0.30">10<tspan dy="-8.30" font-size="11.31">−3</tspan></text>
<line x1="613.80" y1="1584.36" x2="617.60" y2="1584.36" stroke="#000" stroke-width="1.20" stroke-linecap="butt"/>
<line x1="613.80" y1="1576.78" x2="617.60" y2="1576.78" stroke="#000" stroke-width="1.20" stroke-linecap="butt"/>
<line x1="613.80" y1="1571.41" x2="617.60" y2="1571.41" stroke="#000" stroke-width="1.20" stroke-linecap="butt"/>
<line x1="613.80" y1="1567.24" x2="617.60" y2="1567.24" stroke="#000" stroke-width="1.20" stroke-linecap="butt"/>
<line x1="613.80" y1="1563.84" x2="617.60" y2="1563.84" stroke="#000" stroke-width="1.20" stroke-linecap="butt"/>
<line x1="613.80" y1="1560.96" x2="617.60" y2="1560.96" stroke="#000" stroke-width="1.20" stroke-linecap="butt"/>
<line x1="613.80" y1="1558.47" x2="617.60" y2="1558.47" stroke="#000" stroke-width="1.20" stroke-linecap="butt"/>
<line x1="613.80" y1="1556.27" x2="617.60" y2="1556.27" stroke="#000" stroke-width="1.20" stroke-linecap="butt"/>
<line x1="611.30" y1="1597.30" x2="617.60" y2="1597.30" stroke="#000" stroke-width="1.50" stroke-linecap="butt"/>
<text transform="translate(602.60 1603.00) scale(1.030 1)" font-size="17.67" text-anchor="end" fill="#000" stroke="#000" stroke-width="0.30">10<tspan dy="-8.30" font-size="11.31">−4</tspan></text>
<line x1="613.80" y1="1627.36" x2="617.60" y2="1627.36" stroke="#000" stroke-width="1.20" stroke-linecap="butt"/>
<line x1="613.80" y1="1619.78" x2="617.60" y2="1619.78" stroke="#000" stroke-width="1.20" stroke-linecap="butt"/>
<line x1="613.80" y1="1614.41" x2="617.60" y2="1614.41" stroke="#000" stroke-width="1.20" stroke-linecap="butt"/>
<line x1="613.80" y1="1610.24" x2="617.60" y2="1610.24" stroke="#000" stroke-width="1.20" stroke-linecap="butt"/>
<line x1="613.80" y1="1606.84" x2="617.60" y2="1606.84" stroke="#000" stroke-width="1.20" stroke-linecap="butt"/>
<line x1="613.80" y1="1603.96" x2="617.60" y2="1603.96" stroke="#000" stroke-width="1.20" stroke-linecap="butt"/>
<line x1="613.80" y1="1601.47" x2="617.60" y2="1601.47" stroke="#000" stroke-width="1.20" stroke-linecap="butt"/>
<line x1="613.80" y1="1599.27" x2="617.60" y2="1599.27" stroke="#000" stroke-width="1.20" stroke-linecap="butt"/>
<line x1="611.30" y1="1640.30" x2="617.60" y2="1640.30" stroke="#000" stroke-width="1.50" stroke-linecap="butt"/>
<text transform="translate(602.60 1646.00) scale(1.030 1)" font-size="17.67" text-anchor="end" fill="#000" stroke="#000" stroke-width="0.30">10<tspan dy="-8.30" font-size="11.31">−5</tspan></text>
<line x1="613.80" y1="1670.36" x2="617.60" y2="1670.36" stroke="#000" stroke-width="1.20" stroke-linecap="butt"/>
<line x1="613.80" y1="1662.78" x2="617.60" y2="1662.78" stroke="#000" stroke-width="1.20" stroke-linecap="butt"/>
<line x1="613.80" y1="1657.41" x2="617.60" y2="1657.41" stroke="#000" stroke-width="1.20" stroke-linecap="butt"/>
<line x1="613.80" y1="1653.24" x2="617.60" y2="1653.24" stroke="#000" stroke-width="1.20" stroke-linecap="butt"/>
<line x1="613.80" y1="1649.84" x2="617.60" y2="1649.84" stroke="#000" stroke-width="1.20" stroke-linecap="butt"/>
<line x1="613.80" y1="1646.96" x2="617.60" y2="1646.96" stroke="#000" stroke-width="1.20" stroke-linecap="butt"/>
<line x1="613.80" y1="1644.47" x2="617.60" y2="1644.47" stroke="#000" stroke-width="1.20" stroke-linecap="butt"/>
<line x1="613.80" y1="1642.27" x2="617.60" y2="1642.27" stroke="#000" stroke-width="1.20" stroke-linecap="butt"/>
<line x1="611.30" y1="1683.30" x2="617.60" y2="1683.30" stroke="#000" stroke-width="1.50" stroke-linecap="butt"/>
<text transform="translate(602.60 1687.40) scale(1.030 1)" font-size="17.67" text-anchor="end" fill="#000" stroke="#000" stroke-width="0.30">10<tspan dy="-8.30" font-size="11.31">−6</tspan></text>
<line x1="612.20" y1="1683.30" x2="622.60" y2="1683.30" stroke="#000" stroke-width="1.50" stroke-linecap="butt"/>
<line x1="617.60" y1="1699.00" x2="617.60" y2="1712.00" stroke="#000" stroke-width="2.00" stroke-linecap="butt"/>
<line x1="612.20" y1="1699.00" x2="622.60" y2="1699.00" stroke="#000" stroke-width="1.50" stroke-linecap="butt"/>
<text transform="translate(601.50 1705.30) scale(1.030 1)" font-size="17.67" text-anchor="end" fill="#000" stroke="#000" stroke-width="0.30">0</text>
<line x1="616.80" y1="1711.20" x2="685.00" y2="1711.20" stroke="#000" stroke-width="1.60" stroke-linecap="butt"/>
<line x1="649.80" y1="1711.20" x2="649.80" y2="1717.70" stroke="#000" stroke-width="1.50" stroke-linecap="butt"/>
<rect x="632.30" y="1613.40" width="32.40" height="97.80" fill="#000"/>
<circle cx="648.50" cy="1600.40" r="3.55" fill="#fff" stroke="#000" stroke-width="1.40"/>
<circle cx="636.40" cy="1613.90" r="3.55" fill="#fff" stroke="#000" stroke-width="1.40"/>
<circle cx="660.70" cy="1612.00" r="3.55" fill="#fff" stroke="#000" stroke-width="1.40"/>
<circle cx="648.50" cy="1621.20" r="3.55" fill="#fff" stroke="#000" stroke-width="1.40"/>
<circle cx="648.50" cy="1645.00" r="3.55" fill="#fff" stroke="#000" stroke-width="1.40"/>
<text transform="translate(549.00 1606.50) rotate(-90) scale(1.030 1)" font-size="17.57" text-anchor="middle" fill="#000" stroke="#000" stroke-width="0.30">Ig-Tg PC: CD19<tspan dy="-6.33" font-size="11.25">+</tspan></text>
<text transform="translate(2.00 1718.40) scale(1.090 1)" font-size="16.88" text-anchor="start" fill="#000" stroke="#000" stroke-width="0.30">Ag pulse</text>
<text transform="translate(2.00 1740.70) scale(1.090 1)" font-size="16.88" text-anchor="start" fill="#000" stroke="#000" stroke-width="0.30">dose (µg ml<tspan dy="-7.93" font-size="10.80">−1</tspan><tspan dy="7.93">):</tspan></text>
<text transform="translate(161.50 1738.20) scale(1.090 1)" font-size="16.88" text-anchor="middle" fill="#000" stroke="#000" stroke-width="0.30">0.005</text>
<text transform="translate(215.30 1738.20) scale(1.090 1)" font-size="16.88" text-anchor="middle" fill="#000" stroke="#000" stroke-width="0.30">0.05</text>
<text transform="translate(269.20 1738.20) scale(1.090 1)" font-size="16.88" text-anchor="middle" fill="#000" stroke="#000" stroke-width="0.30">0.1</text>
<text transform="translate(322.50 1738.20) scale(1.090 1)" font-size="16.88" text-anchor="middle" fill="#000" stroke="#000" stroke-width="0.30">0.5</text>
<text transform="translate(377.00 1738.20) scale(1.090 1)" font-size="16.88" text-anchor="middle" fill="#000" stroke="#000" stroke-width="0.30">2</text>
<text transform="translate(431.00 1738.20) scale(1.090 1)" font-size="16.88" text-anchor="middle" fill="#000" stroke="#000" stroke-width="0.30">50</text>
<text transform="translate(650.70 1738.20) scale(1.090 1)" font-size="16.88" text-anchor="middle" fill="#000" stroke="#000" stroke-width="0.30">50</text>
<text transform="translate(2.00 1767.00) scale(1.090 1)" font-size="16.88" text-anchor="start" fill="#000" stroke="#000" stroke-width="0.30">Number of Ig-Tg</text>
<text transform="translate(2.00 1785.30) scale(1.090 1)" font-size="16.88" text-anchor="start" fill="#000" stroke="#000" stroke-width="0.30">cells transferred:</text>
<text transform="translate(284.20 1785.30) scale(1.090 1)" font-size="16.88" text-anchor="middle" fill="#000" stroke="#000" stroke-width="0.30">1–2×10<tspan dy="-7.93" font-size="10.80">6</tspan></text>
<text transform="translate(651.30 1785.30) scale(1.090 1)" font-size="16.88" text-anchor="middle" fill="#000" stroke="#000" stroke-width="0.30">1×10<tspan dy="-7.93" font-size="10.80">5</tspan></text>
<text transform="translate(2.00 1808.90) scale(1.090 1)" font-size="16.88" text-anchor="start" fill="#000" stroke="#000" stroke-width="0.30">Estimated initial</text>
<text transform="translate(2.00 1827.50) scale(1.090 1)" font-size="16.88" text-anchor="start" fill="#000" stroke="#000" stroke-width="0.30">frequency in iLNs:</text>
<text transform="translate(279.20 1827.50) scale(1.090 1)" font-size="16.88" text-anchor="middle" fill="#000" stroke="#000" stroke-width="0.30">~5:10<tspan dy="-7.93" font-size="10.80">4</tspan></text>
<text transform="translate(650.20 1827.50) scale(1.090 1)" font-size="16.88" text-anchor="middle" fill="#000" stroke="#000" stroke-width="0.30">~5:10<tspan dy="-7.93" font-size="10.80">5</tspan></text>
<text transform="translate(2.00 1851.20) scale(1.090 1)" font-size="16.88" text-anchor="start" fill="#000" stroke="#000" stroke-width="0.30">Number of OTII</text>
<text transform="translate(2.00 1869.50) scale(1.090 1)" font-size="16.88" text-anchor="start" fill="#000" stroke="#000" stroke-width="0.30">cells transferred:</text>
<text transform="translate(278.00 1869.50) scale(1.090 1)" font-size="16.88" text-anchor="middle" fill="#000" stroke="#000" stroke-width="0.30">~5×10<tspan dy="-7.93" font-size="10.80">5</tspan></text>
<text transform="translate(651.20 1869.50) scale(1.090 1)" font-size="16.88" text-anchor="middle" fill="#000" stroke="#000" stroke-width="0.30">0</text>
</svg>
</body></html>
